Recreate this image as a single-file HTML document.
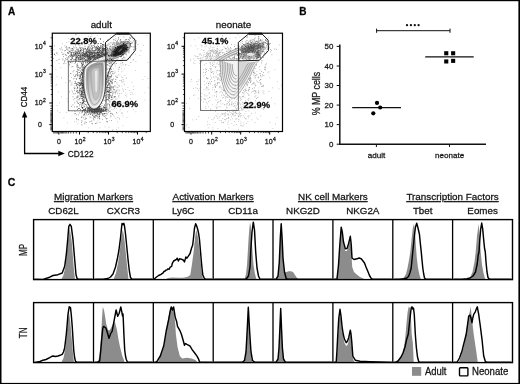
<!DOCTYPE html><html><head><meta charset="utf-8"><style>html,body{margin:0;padding:0;background:#fff;overflow:hidden}svg{display:block;will-change:transform}</style></head><body>
<svg width="520" height="384" viewBox="0 0 520 384" font-family="Liberation Sans, sans-serif">
<style>text{stroke:#1a1a1a;stroke-width:0.28px}</style>
<rect width="520" height="384" fill="#fff"/>
<text x="7.9" y="15.3" font-size="10" text-anchor="start" font-weight="bold" fill="#000" >A</text>
<defs><filter id="sb" x="-5%" y="-5%" width="110%" height="110%"><feGaussianBlur stdDeviation="0.35"/></filter><filter id="sb2" x="-5%" y="-5%" width="110%" height="110%"><feGaussianBlur stdDeviation="0.6"/></filter></defs>
<g filter="url(#sb)">
<path fill="#b4b4b4" d="M111.5 64h0.8v0.8h-0.8zM122 63.5h0.8v0.8h-0.8zM117 56.5h0.8v0.8h-0.8zM123 64.5h0.8v0.8h-0.8zM120.5 53h0.8v0.8h-0.8zM107.5 108.5h0.8v0.8h-0.8zM104 86.5h0.8v0.8h-0.8zM107 39h0.8v0.8h-0.8zM115 93.5h0.8v0.8h-0.8zM101 96.5h0.8v0.8h-0.8zM104 65h0.8v0.8h-0.8zM112 71.5h0.8v0.8h-0.8zM135 54h0.8v0.8h-0.8zM119.5 105h0.8v0.8h-0.8zM92 50.5h0.8v0.8h-0.8zM117.5 75.5h0.8v0.8h-0.8zM116 108h0.8v0.8h-0.8zM108.5 63.5h0.8v0.8h-0.8zM84.5 89h0.8v0.8h-0.8zM102.5 91.5h0.8v0.8h-0.8zM114.5 57.5h0.8v0.8h-0.8zM129 106.5h0.8v0.8h-0.8zM120.5 61.5h0.8v0.8h-0.8zM108 74h0.8v0.8h-0.8zM108 62.5h0.8v0.8h-0.8zM116.5 89.5h0.8v0.8h-0.8zM115.5 75h0.8v0.8h-0.8zM125 89h0.8v0.8h-0.8zM84.5 72h0.8v0.8h-0.8zM111.5 104.5h0.8v0.8h-0.8zM109 80h0.8v0.8h-0.8zM105.5 98.5h0.8v0.8h-0.8zM107.5 73h0.8v0.8h-0.8zM104.5 96h0.8v0.8h-0.8zM106.5 51.5h0.8v0.8h-0.8zM118 71h0.8v0.8h-0.8zM115.5 92.5h0.8v0.8h-0.8zM124 106h0.8v0.8h-0.8zM106 81.5h0.8v0.8h-0.8zM99 118.5h0.8v0.8h-0.8zM116.5 113h0.8v0.8h-0.8zM109 44h0.8v0.8h-0.8zM127.5 87h0.8v0.8h-0.8zM113.5 86h0.8v0.8h-0.8zM118.5 95.5h0.8v0.8h-0.8zM96 106.5h0.8v0.8h-0.8zM106.5 75.5h0.8v0.8h-0.8zM129.5 103.5h0.8v0.8h-0.8zM108.5 48h0.8v0.8h-0.8zM113.5 96h0.8v0.8h-0.8zM111 60h0.8v0.8h-0.8zM104 60h0.8v0.8h-0.8zM114 101.5h0.8v0.8h-0.8zM122.5 70.5h0.8v0.8h-0.8zM114.5 96h0.8v0.8h-0.8zM107 82h0.8v0.8h-0.8zM133 89h0.8v0.8h-0.8zM121 76.5h0.8v0.8h-0.8zM112.5 50.5h0.8v0.8h-0.8zM111.5 109h0.8v0.8h-0.8zM133 109h0.8v0.8h-0.8zM119 86h0.8v0.8h-0.8zM106 82h0.8v0.8h-0.8zM118 69.5h0.8v0.8h-0.8zM121.5 65.5h0.8v0.8h-0.8zM94 65h0.8v0.8h-0.8zM95.5 57.5h0.8v0.8h-0.8zM123.5 81h0.8v0.8h-0.8zM114 108h0.8v0.8h-0.8zM124.5 75h0.8v0.8h-0.8zM125.5 92.5h0.8v0.8h-0.8zM112 94h0.8v0.8h-0.8zM97.5 69.5h0.8v0.8h-0.8zM111 97h0.8v0.8h-0.8zM108.5 82.5h0.8v0.8h-0.8zM121.5 113h0.8v0.8h-0.8zM119.5 110.5h0.8v0.8h-0.8zM108 79h0.8v0.8h-0.8zM115 79h0.8v0.8h-0.8zM107 118h0.8v0.8h-0.8zM110 65.5h0.8v0.8h-0.8zM117 121.5h0.8v0.8h-0.8zM113 109.5h0.8v0.8h-0.8zM107.5 75h0.8v0.8h-0.8zM105 82h0.8v0.8h-0.8zM130.5 62h0.8v0.8h-0.8zM128.5 65h0.8v0.8h-0.8zM109.5 101.5h0.8v0.8h-0.8zM118.5 90.5h0.8v0.8h-0.8zM95.5 92h0.8v0.8h-0.8zM110 89h0.8v0.8h-0.8zM100.5 75.5h0.8v0.8h-0.8zM99 104.5h0.8v0.8h-0.8zM109.5 96.5h0.8v0.8h-0.8zM105 75h0.8v0.8h-0.8zM125 65.5h0.8v0.8h-0.8zM94 93h0.8v0.8h-0.8zM100.5 76h0.8v0.8h-0.8zM121 68.5h0.8v0.8h-0.8zM121 71.5h0.8v0.8h-0.8zM127 111.5h0.8v0.8h-0.8zM107.5 80.5h0.8v0.8h-0.8zM103.5 89h0.8v0.8h-0.8zM123.5 56h0.8v0.8h-0.8zM121 58.5h0.8v0.8h-0.8zM103.5 49h0.8v0.8h-0.8zM133 86h0.8v0.8h-0.8zM114.5 71.5h0.8v0.8h-0.8zM122.5 43h0.8v0.8h-0.8zM112.5 129h0.8v0.8h-0.8zM108 85.5h0.8v0.8h-0.8zM118.5 69h0.8v0.8h-0.8zM112 104h0.8v0.8h-0.8zM114 92.5h0.8v0.8h-0.8zM108.5 91.5h0.8v0.8h-0.8zM112.5 114h0.8v0.8h-0.8zM119 80h0.8v0.8h-0.8zM87.5 99.5h0.8v0.8h-0.8zM119.5 66.5h0.8v0.8h-0.8zM92 62h0.8v0.8h-0.8zM121.5 63.5h0.8v0.8h-0.8zM107.5 89.5h0.8v0.8h-0.8zM124 84.5h0.8v0.8h-0.8zM111 74h0.8v0.8h-0.8zM128.5 106.5h0.8v0.8h-0.8zM111 57h0.8v0.8h-0.8zM104 96.5h0.8v0.8h-0.8zM105 103h0.8v0.8h-0.8zM115.5 91h0.8v0.8h-0.8zM118.5 95h0.8v0.8h-0.8zM103.5 78.5h0.8v0.8h-0.8zM135.5 61h0.8v0.8h-0.8zM107.5 106.5h0.8v0.8h-0.8zM110.5 69h0.8v0.8h-0.8zM99 95.5h0.8v0.8h-0.8zM122 113h0.8v0.8h-0.8zM112.5 106h0.8v0.8h-0.8zM101.5 88.5h0.8v0.8h-0.8zM105 88.5h0.8v0.8h-0.8zM119.5 106.5h0.8v0.8h-0.8zM102 110.5h0.8v0.8h-0.8zM107.5 64.5h0.8v0.8h-0.8zM110.5 55.5h0.8v0.8h-0.8zM112 91h0.8v0.8h-0.8zM110 95.5h0.8v0.8h-0.8zM109 85h0.8v0.8h-0.8zM97.5 86h0.8v0.8h-0.8zM103.5 76h0.8v0.8h-0.8zM111 89h0.8v0.8h-0.8zM95.5 53.5h0.8v0.8h-0.8zM109 94.5h0.8v0.8h-0.8zM115.5 103h0.8v0.8h-0.8zM125 95h0.8v0.8h-0.8zM112 64.5h0.8v0.8h-0.8zM102.5 75.5h0.8v0.8h-0.8zM114.5 89.5h0.8v0.8h-0.8zM112 82h0.8v0.8h-0.8zM118.5 89h0.8v0.8h-0.8zM115 91h0.8v0.8h-0.8zM106.5 64.5h0.8v0.8h-0.8zM117 93.5h0.8v0.8h-0.8zM110 76.5h0.8v0.8h-0.8zM135 70h0.8v0.8h-0.8zM110 90.5h0.8v0.8h-0.8zM100.5 87.5h0.8v0.8h-0.8zM130 103.5h0.8v0.8h-0.8zM118.5 97h0.8v0.8h-0.8zM113 104h0.8v0.8h-0.8zM110.5 76.5h0.8v0.8h-0.8zM113 103h0.8v0.8h-0.8zM115.5 98.5h0.8v0.8h-0.8zM92 109h0.8v0.8h-0.8zM135.5 111.5h0.8v0.8h-0.8zM109 68h0.8v0.8h-0.8zM115 65.5h0.8v0.8h-0.8zM119.5 74.5h0.8v0.8h-0.8zM121.5 112h0.8v0.8h-0.8zM91.5 91h0.8v0.8h-0.8zM105 57h0.8v0.8h-0.8zM106 80.5h0.8v0.8h-0.8zM122.5 54.5h0.8v0.8h-0.8zM122.5 125.5h0.8v0.8h-0.8zM118 96h0.8v0.8h-0.8zM112 61.5h0.8v0.8h-0.8zM117.5 92.5h0.8v0.8h-0.8zM119.5 93.5h0.8v0.8h-0.8zM127.5 58h0.8v0.8h-0.8zM100.5 77.5h0.8v0.8h-0.8zM105.5 99h0.8v0.8h-0.8zM109 120h0.8v0.8h-0.8zM127 100.5h0.8v0.8h-0.8zM108 97.5h0.8v0.8h-0.8zM120 63.5h0.8v0.8h-0.8zM115.5 99h0.8v0.8h-0.8zM114 116.5h0.8v0.8h-0.8zM124 68.5h0.8v0.8h-0.8zM113 68.5h0.8v0.8h-0.8zM118 67.5h0.8v0.8h-0.8zM121 93h0.8v0.8h-0.8zM121.5 82h0.8v0.8h-0.8zM97.5 120.5h0.8v0.8h-0.8zM110.5 112.5h0.8v0.8h-0.8zM116.5 98.5h0.8v0.8h-0.8zM130.5 92h0.8v0.8h-0.8zM126 55.5h0.8v0.8h-0.8zM120.5 80h0.8v0.8h-0.8zM110.5 85h0.8v0.8h-0.8zM115.5 118h0.8v0.8h-0.8zM93.5 86h0.8v0.8h-0.8zM105 108.5h0.8v0.8h-0.8zM108 94h0.8v0.8h-0.8zM108 98.5h0.8v0.8h-0.8zM122 77h0.8v0.8h-0.8zM112.5 56.5h0.8v0.8h-0.8zM115 102h0.8v0.8h-0.8zM106.5 107.5h0.8v0.8h-0.8zM91.5 48h0.8v0.8h-0.8zM98 75.5h0.8v0.8h-0.8zM112 83.5h0.8v0.8h-0.8zM111.5 99.5h0.8v0.8h-0.8zM107.5 59.5h0.8v0.8h-0.8zM99.5 127.5h0.8v0.8h-0.8zM88.5 81.5h0.8v0.8h-0.8zM126.5 94.5h0.8v0.8h-0.8zM103.5 85h0.8v0.8h-0.8zM120.5 109h0.8v0.8h-0.8zM103 100h0.8v0.8h-0.8zM114.5 107h0.8v0.8h-0.8zM126 78h0.8v0.8h-0.8zM97.5 93h0.8v0.8h-0.8zM130 98.5h0.8v0.8h-0.8zM101.5 103h0.8v0.8h-0.8zM106.5 86h0.8v0.8h-0.8zM113 115.5h0.8v0.8h-0.8zM102.5 74.5h0.8v0.8h-0.8zM96 94.5h0.8v0.8h-0.8zM107.5 93.5h0.8v0.8h-0.8zM101.5 78h0.8v0.8h-0.8zM122.5 81.5h0.8v0.8h-0.8zM118.5 95.5h0.8v0.8h-0.8zM108.5 54h0.8v0.8h-0.8zM122 88.5h0.8v0.8h-0.8zM122 44.5h0.8v0.8h-0.8zM95.5 42h0.8v0.8h-0.8zM103 106h0.8v0.8h-0.8zM117.5 84.5h0.8v0.8h-0.8zM113.5 100h0.8v0.8h-0.8zM109 93h0.8v0.8h-0.8zM113.5 41.5h0.8v0.8h-0.8zM108 112h0.8v0.8h-0.8zM108 82h0.8v0.8h-0.8zM106 75.5h0.8v0.8h-0.8zM123 79.5h0.8v0.8h-0.8zM106.5 45.5h0.8v0.8h-0.8zM94 101h0.8v0.8h-0.8zM119 46.5h0.8v0.8h-0.8zM77.5 90.5h0.8v0.8h-0.8zM103 59h0.8v0.8h-0.8zM82 68h0.8v0.8h-0.8zM79 87h0.8v0.8h-0.8zM108.5 127h0.8v0.8h-0.8zM111.5 104.5h0.8v0.8h-0.8zM110.5 112.5h0.8v0.8h-0.8zM83 96h0.8v0.8h-0.8zM96 74.5h0.8v0.8h-0.8zM82 65h0.8v0.8h-0.8zM85 46h0.8v0.8h-0.8zM99.5 77.5h0.8v0.8h-0.8zM92 87h0.8v0.8h-0.8zM103 62.5h0.8v0.8h-0.8zM88 36h0.8v0.8h-0.8zM98.5 116.5h0.8v0.8h-0.8zM82 120.5h0.8v0.8h-0.8zM123.5 102.5h0.8v0.8h-0.8zM132.5 94h0.8v0.8h-0.8zM77 91.5h0.8v0.8h-0.8zM82 44h0.8v0.8h-0.8zM80.5 77.5h0.8v0.8h-0.8zM78 82h0.8v0.8h-0.8zM86 67.5h0.8v0.8h-0.8zM68.5 41.5h0.8v0.8h-0.8zM77 86h0.8v0.8h-0.8zM127.5 105.5h0.8v0.8h-0.8zM123 91h0.8v0.8h-0.8zM88.5 44h0.8v0.8h-0.8zM85 121h0.8v0.8h-0.8zM96 108h0.8v0.8h-0.8zM83.5 42.5h0.8v0.8h-0.8zM81.5 68h0.8v0.8h-0.8zM112 130h0.8v0.8h-0.8zM77 69h0.8v0.8h-0.8zM88 69.5h0.8v0.8h-0.8zM68 81h0.8v0.8h-0.8zM97 88.5h0.8v0.8h-0.8zM68.5 75.5h0.8v0.8h-0.8zM59 102.5h0.8v0.8h-0.8zM72 71.5h0.8v0.8h-0.8zM82.5 63.5h0.8v0.8h-0.8zM121.5 85.5h0.8v0.8h-0.8zM88.5 93h0.8v0.8h-0.8zM91 109.5h0.8v0.8h-0.8zM99.5 87h0.8v0.8h-0.8zM86 86h0.8v0.8h-0.8zM88 68h0.8v0.8h-0.8zM103.5 57h0.8v0.8h-0.8zM86.5 65.5h0.8v0.8h-0.8zM60.5 67h0.8v0.8h-0.8zM57.5 54.5h0.8v0.8h-0.8zM85 78.5h0.8v0.8h-0.8zM91.5 75.5h0.8v0.8h-0.8zM129 90h0.8v0.8h-0.8zM68.5 63h0.8v0.8h-0.8zM79 74h0.8v0.8h-0.8zM79.5 56.5h0.8v0.8h-0.8zM120.5 80h0.8v0.8h-0.8zM84.5 72.5h0.8v0.8h-0.8zM86.5 115h0.8v0.8h-0.8zM99 108h0.8v0.8h-0.8zM91 34.5h0.8v0.8h-0.8zM101 63.5h0.8v0.8h-0.8zM58.5 63h0.8v0.8h-0.8zM109.5 110h0.8v0.8h-0.8zM103.5 51.5h0.8v0.8h-0.8zM136 48.5h0.8v0.8h-0.8zM89.5 41.5h0.8v0.8h-0.8zM114.5 90.5h0.8v0.8h-0.8zM106.5 81.5h0.8v0.8h-0.8zM89.5 83.5h0.8v0.8h-0.8zM56.5 105h0.8v0.8h-0.8zM107 69h0.8v0.8h-0.8zM90.5 87h0.8v0.8h-0.8zM119 90.5h0.8v0.8h-0.8zM91.5 66h0.8v0.8h-0.8zM63.5 63.5h0.8v0.8h-0.8zM92 72.5h0.8v0.8h-0.8zM92 98.5h0.8v0.8h-0.8zM98.5 86.5h0.8v0.8h-0.8zM102.5 84h0.8v0.8h-0.8zM90.5 91.5h0.8v0.8h-0.8zM59.5 112h0.8v0.8h-0.8zM67.5 101h0.8v0.8h-0.8zM91 108h0.8v0.8h-0.8zM91.5 54.5h0.8v0.8h-0.8zM110 84h0.8v0.8h-0.8zM93 81.5h0.8v0.8h-0.8zM109 100.5h0.8v0.8h-0.8zM95 39h0.8v0.8h-0.8zM83.5 82h0.8v0.8h-0.8zM123 89.5h0.8v0.8h-0.8zM89.5 110.5h0.8v0.8h-0.8zM89 78.5h0.8v0.8h-0.8zM94 40.5h0.8v0.8h-0.8zM108 90.5h0.8v0.8h-0.8zM86 49.5h0.8v0.8h-0.8zM95 116h0.8v0.8h-0.8zM79.5 52h0.8v0.8h-0.8zM98.5 38h0.8v0.8h-0.8zM78.5 72.5h0.8v0.8h-0.8zM81 88h0.8v0.8h-0.8zM87 64h0.8v0.8h-0.8zM83 96h0.8v0.8h-0.8zM108.5 103h0.8v0.8h-0.8zM73 71.5h0.8v0.8h-0.8zM95 37.5h0.8v0.8h-0.8zM116.5 87.5h0.8v0.8h-0.8zM80 84h0.8v0.8h-0.8zM85 60h0.8v0.8h-0.8zM100 68h0.8v0.8h-0.8zM65.5 63h0.8v0.8h-0.8zM89 51.5h0.8v0.8h-0.8zM114 51.5h0.8v0.8h-0.8zM122.5 103h0.8v0.8h-0.8zM74 83h0.8v0.8h-0.8zM112.5 74.5h0.8v0.8h-0.8zM69.5 82.5h0.8v0.8h-0.8zM127 41h0.8v0.8h-0.8zM101 80h0.8v0.8h-0.8zM89 69.5h0.8v0.8h-0.8zM85.5 106.5h0.8v0.8h-0.8zM102 54h0.8v0.8h-0.8zM119.5 46h0.8v0.8h-0.8zM103 84.5h0.8v0.8h-0.8zM113 89h0.8v0.8h-0.8zM110.5 79h0.8v0.8h-0.8zM109 89h0.8v0.8h-0.8zM130 62h0.8v0.8h-0.8zM113 92h0.8v0.8h-0.8zM94.5 65h0.8v0.8h-0.8zM99.5 41.5h0.8v0.8h-0.8zM66.5 98.5h0.8v0.8h-0.8zM63.5 117.5h0.8v0.8h-0.8zM86.5 86.5h0.8v0.8h-0.8zM92.5 91h0.8v0.8h-0.8zM86.5 70.5h0.8v0.8h-0.8zM89 107h0.8v0.8h-0.8zM112 113h0.8v0.8h-0.8zM98 74.5h0.8v0.8h-0.8zM61 96.5h0.8v0.8h-0.8zM106.5 69.5h0.8v0.8h-0.8zM106 113.5h0.8v0.8h-0.8zM93 107.5h0.8v0.8h-0.8zM97 35h0.8v0.8h-0.8zM83 69.5h0.8v0.8h-0.8zM101 57.5h0.8v0.8h-0.8zM83.5 55h0.8v0.8h-0.8zM90.5 82h0.8v0.8h-0.8zM109 100.5h0.8v0.8h-0.8zM94.5 86.5h0.8v0.8h-0.8zM93.5 83h0.8v0.8h-0.8zM88 88h0.8v0.8h-0.8zM111.5 51.5h0.8v0.8h-0.8zM97.5 102.5h0.8v0.8h-0.8zM85 49h0.8v0.8h-0.8zM103 58h0.8v0.8h-0.8zM123.5 83.5h0.8v0.8h-0.8zM77 67h0.8v0.8h-0.8zM71.5 90h0.8v0.8h-0.8zM118 74.5h0.8v0.8h-0.8zM108 55.5h0.8v0.8h-0.8zM66 112h0.8v0.8h-0.8zM65.5 54.5h0.8v0.8h-0.8zM109 69h0.8v0.8h-0.8zM88.5 98.5h0.8v0.8h-0.8zM93.5 86h0.8v0.8h-0.8zM85.5 109h0.8v0.8h-0.8zM77.5 123.5h0.8v0.8h-0.8zM85.5 59h0.8v0.8h-0.8zM103 91.5h0.8v0.8h-0.8zM55.5 85.5h0.8v0.8h-0.8zM67 58.5h0.8v0.8h-0.8zM105.5 57.5h0.8v0.8h-0.8zM97.5 70h0.8v0.8h-0.8zM126 77.5h0.8v0.8h-0.8zM70 51h0.8v0.8h-0.8zM75 83h0.8v0.8h-0.8zM91 105h0.8v0.8h-0.8zM94.5 83h0.8v0.8h-0.8zM97 76.5h0.8v0.8h-0.8zM96.5 100h0.8v0.8h-0.8zM105.5 65.5h0.8v0.8h-0.8zM59.5 58.5h0.8v0.8h-0.8zM82.5 91.5h0.8v0.8h-0.8zM81 50.5h0.8v0.8h-0.8zM122.5 115.5h0.8v0.8h-0.8zM86.5 114h0.8v0.8h-0.8zM114.5 50h0.8v0.8h-0.8zM139.5 55h0.8v0.8h-0.8zM86.5 51h0.8v0.8h-0.8zM92.5 45.5h0.8v0.8h-0.8zM91 107.5h0.8v0.8h-0.8zM95 72.5h0.8v0.8h-0.8zM119 56h0.8v0.8h-0.8zM108.5 71.5h0.8v0.8h-0.8zM95 80h0.8v0.8h-0.8zM93 78h0.8v0.8h-0.8zM77 64.5h0.8v0.8h-0.8zM99 76.5h0.8v0.8h-0.8zM70 61h0.8v0.8h-0.8zM78.5 78h0.8v0.8h-0.8zM94 81.5h0.8v0.8h-0.8zM79 79.5h0.8v0.8h-0.8zM90 36h0.8v0.8h-0.8zM73.5 47.5h0.8v0.8h-0.8zM102 47.5h0.8v0.8h-0.8zM95.5 66h0.8v0.8h-0.8zM68.5 38h0.8v0.8h-0.8zM99 89h0.8v0.8h-0.8zM104.5 126.5h0.8v0.8h-0.8zM95.5 86h0.8v0.8h-0.8zM88 81.5h0.8v0.8h-0.8zM84 55.5h0.8v0.8h-0.8zM95 90h0.8v0.8h-0.8zM93 53.5h0.8v0.8h-0.8zM87 66.5h0.8v0.8h-0.8zM71 77h0.8v0.8h-0.8zM83 64h0.8v0.8h-0.8zM102.5 50.5h0.8v0.8h-0.8zM98 62h0.8v0.8h-0.8zM97.5 80h0.8v0.8h-0.8zM94.5 52.5h0.8v0.8h-0.8zM76 55.5h0.8v0.8h-0.8zM93 97.5h0.8v0.8h-0.8zM109.5 65h0.8v0.8h-0.8zM91.5 36h0.8v0.8h-0.8zM78 37.5h0.8v0.8h-0.8zM58 91.5h0.8v0.8h-0.8zM75.5 34h0.8v0.8h-0.8zM131.5 82h0.8v0.8h-0.8zM84 95h0.8v0.8h-0.8zM76 118.5h0.8v0.8h-0.8zM62 43.5h0.8v0.8h-0.8zM87 57.5h0.8v0.8h-0.8zM115 36h0.8v0.8h-0.8zM76.5 83.5h0.8v0.8h-0.8zM99.5 103.5h0.8v0.8h-0.8zM116.5 77h0.8v0.8h-0.8zM131 34.5h0.8v0.8h-0.8zM85 73h0.8v0.8h-0.8zM56 84h0.8v0.8h-0.8zM92.5 110.5h0.8v0.8h-0.8zM69 65.5h0.8v0.8h-0.8zM82.5 96.5h0.8v0.8h-0.8zM76 97.5h0.8v0.8h-0.8zM70.5 84.5h0.8v0.8h-0.8zM119 93h0.8v0.8h-0.8zM110.5 78h0.8v0.8h-0.8zM132 92.5h0.8v0.8h-0.8zM147.5 78h0.8v0.8h-0.8zM76 121.5h0.8v0.8h-0.8zM143 45h0.8v0.8h-0.8zM126.5 117h0.8v0.8h-0.8zM107 105.5h0.8v0.8h-0.8zM146.5 35h0.8v0.8h-0.8zM102 103h0.8v0.8h-0.8zM55.5 69h0.8v0.8h-0.8zM65 82.5h0.8v0.8h-0.8zM83 83.5h0.8v0.8h-0.8zM120 104.5h0.8v0.8h-0.8zM107.5 80.5h0.8v0.8h-0.8zM118.5 95h0.8v0.8h-0.8zM55 55h0.8v0.8h-0.8zM77 41h0.8v0.8h-0.8zM106.5 98h0.8v0.8h-0.8zM116 129h0.8v0.8h-0.8zM94.5 41.5h0.8v0.8h-0.8zM74 121.5h0.8v0.8h-0.8zM82.5 71h0.8v0.8h-0.8zM126 96.5h0.8v0.8h-0.8zM122 59.5h0.8v0.8h-0.8zM76.5 100.5h0.8v0.8h-0.8zM144.5 76h0.8v0.8h-0.8zM57 110.5h0.8v0.8h-0.8zM75.5 60.5h0.8v0.8h-0.8zM95 66h0.8v0.8h-0.8zM130 94h0.8v0.8h-0.8zM107.5 44h0.8v0.8h-0.8zM118 127.5h0.8v0.8h-0.8zM144.5 92.5h0.8v0.8h-0.8zM88 127.5h0.8v0.8h-0.8zM70.5 51h0.8v0.8h-0.8zM92.5 102h0.8v0.8h-0.8zM107 53.5h0.8v0.8h-0.8zM66 42h0.8v0.8h-0.8zM56.5 76.5h0.8v0.8h-0.8zM122.5 79h0.8v0.8h-0.8zM148 87.5h0.8v0.8h-0.8zM142.5 79h0.8v0.8h-0.8zM89 53h0.8v0.8h-0.8zM96.5 99.5h0.8v0.8h-0.8zM132.5 59.5h0.8v0.8h-0.8zM147.5 62h0.8v0.8h-0.8zM87 109h0.8v0.8h-0.8zM144.5 99.5h0.8v0.8h-0.8zM120 104h0.8v0.8h-0.8zM67 122.5h0.8v0.8h-0.8z"/>
<path fill="#7c7c7c" d="M83 52.5h0.8v0.8h-0.8zM95.5 48.5h0.8v0.8h-0.8zM104 54h0.8v0.8h-0.8zM74.5 51.5h0.8v0.8h-0.8zM75.5 55h0.8v0.8h-0.8zM75 59.5h0.8v0.8h-0.8zM75 44h0.8v0.8h-0.8zM84.5 59.5h0.8v0.8h-0.8zM94 47.5h0.8v0.8h-0.8zM74.5 63h0.8v0.8h-0.8zM89.5 54h0.8v0.8h-0.8zM100 66.5h0.8v0.8h-0.8zM103 54.5h0.8v0.8h-0.8zM90 57h0.8v0.8h-0.8zM76.5 48.5h0.8v0.8h-0.8zM85.5 49.5h0.8v0.8h-0.8zM84 54.5h0.8v0.8h-0.8zM118 49.5h0.8v0.8h-0.8zM83.5 53h0.8v0.8h-0.8zM91 59h0.8v0.8h-0.8zM78 50h0.8v0.8h-0.8zM62 49.5h0.8v0.8h-0.8zM92.5 54h0.8v0.8h-0.8zM71 52h0.8v0.8h-0.8zM85.5 56.5h0.8v0.8h-0.8zM76.5 52.5h0.8v0.8h-0.8zM59.5 48h0.8v0.8h-0.8zM80.5 55h0.8v0.8h-0.8zM80 50h0.8v0.8h-0.8zM84 54h0.8v0.8h-0.8zM84 44.5h0.8v0.8h-0.8zM83 49.5h0.8v0.8h-0.8zM77.5 55h0.8v0.8h-0.8zM94 58.5h0.8v0.8h-0.8zM78 58.5h0.8v0.8h-0.8zM101.5 59.5h0.8v0.8h-0.8zM104.5 53.5h0.8v0.8h-0.8zM82.5 58h0.8v0.8h-0.8zM66 55h0.8v0.8h-0.8zM77.5 52h0.8v0.8h-0.8zM60.5 49.5h0.8v0.8h-0.8zM84.5 58.5h0.8v0.8h-0.8zM99 53.5h0.8v0.8h-0.8zM82.5 50h0.8v0.8h-0.8zM90.5 53h0.8v0.8h-0.8zM93.5 63h0.8v0.8h-0.8zM84.5 46.5h0.8v0.8h-0.8zM73 46.5h0.8v0.8h-0.8zM68 60.5h0.8v0.8h-0.8zM88 46.5h0.8v0.8h-0.8zM94 60.5h0.8v0.8h-0.8zM80 50.5h0.8v0.8h-0.8zM80.5 55.5h0.8v0.8h-0.8zM94 60h0.8v0.8h-0.8zM102 60h0.8v0.8h-0.8zM104 57.5h0.8v0.8h-0.8zM63.5 53.5h0.8v0.8h-0.8zM89.5 52h0.8v0.8h-0.8zM98 52h0.8v0.8h-0.8zM72 61h0.8v0.8h-0.8zM94.5 55h0.8v0.8h-0.8zM98 59.5h0.8v0.8h-0.8zM75.5 51.5h0.8v0.8h-0.8zM71 55h0.8v0.8h-0.8zM101.5 51.5h0.8v0.8h-0.8zM69 64h0.8v0.8h-0.8zM78.5 48h0.8v0.8h-0.8zM88.5 56h0.8v0.8h-0.8zM75 58h0.8v0.8h-0.8zM78 49.5h0.8v0.8h-0.8zM87.5 58h0.8v0.8h-0.8zM76 55.5h0.8v0.8h-0.8zM83.5 68h0.8v0.8h-0.8zM75 61h0.8v0.8h-0.8zM84.5 53.5h0.8v0.8h-0.8zM95 58.5h0.8v0.8h-0.8zM102.5 55.5h0.8v0.8h-0.8zM76.5 51.5h0.8v0.8h-0.8zM92 57h0.8v0.8h-0.8zM104.5 56h0.8v0.8h-0.8zM100 61.5h0.8v0.8h-0.8zM87.5 46.5h0.8v0.8h-0.8zM68.5 47h0.8v0.8h-0.8zM107.5 50h0.8v0.8h-0.8zM102 57h0.8v0.8h-0.8zM109 59h0.8v0.8h-0.8zM83.5 53h0.8v0.8h-0.8zM86 55h0.8v0.8h-0.8zM77.5 54h0.8v0.8h-0.8zM107.5 45.5h0.8v0.8h-0.8zM88.5 49.5h0.8v0.8h-0.8zM87.5 58h0.8v0.8h-0.8zM84 58h0.8v0.8h-0.8zM62.5 59.5h0.8v0.8h-0.8zM76.5 57h0.8v0.8h-0.8zM74.5 55h0.8v0.8h-0.8zM107 55.5h0.8v0.8h-0.8zM88.5 47h0.8v0.8h-0.8zM105 63h0.8v0.8h-0.8zM85.5 53h0.8v0.8h-0.8zM62.5 58.5h0.8v0.8h-0.8zM123 57.5h0.8v0.8h-0.8zM102.5 56.5h0.8v0.8h-0.8zM71 60.5h0.8v0.8h-0.8zM67.5 53h0.8v0.8h-0.8zM89 58.5h0.8v0.8h-0.8zM91 56h0.8v0.8h-0.8zM74.5 47.5h0.8v0.8h-0.8zM86 50.5h0.8v0.8h-0.8zM66.5 47.5h0.8v0.8h-0.8zM78 44.5h0.8v0.8h-0.8zM66 46h0.8v0.8h-0.8zM87.5 56h0.8v0.8h-0.8zM113 46.5h0.8v0.8h-0.8zM75.5 58.5h0.8v0.8h-0.8zM82 52.5h0.8v0.8h-0.8zM109 52.5h0.8v0.8h-0.8zM69 47.5h0.8v0.8h-0.8zM89.5 55.5h0.8v0.8h-0.8zM66 49h0.8v0.8h-0.8zM92.5 57h0.8v0.8h-0.8zM76 57h0.8v0.8h-0.8zM93 45h0.8v0.8h-0.8zM80.5 56h0.8v0.8h-0.8zM81 58h0.8v0.8h-0.8zM121.5 48.5h0.8v0.8h-0.8zM98.5 60h0.8v0.8h-0.8zM99 54.5h0.8v0.8h-0.8zM68.5 57h0.8v0.8h-0.8zM124.5 57.5h0.8v0.8h-0.8zM110.5 49.5h0.8v0.8h-0.8zM105.5 62h0.8v0.8h-0.8zM107 54h0.8v0.8h-0.8zM68 53h0.8v0.8h-0.8zM54 45.5h0.8v0.8h-0.8zM86.5 49h0.8v0.8h-0.8zM82.5 53.5h0.8v0.8h-0.8zM112 60.5h0.8v0.8h-0.8zM84.5 60h0.8v0.8h-0.8zM74 52.5h0.8v0.8h-0.8zM97.5 48h0.8v0.8h-0.8zM81 47.5h0.8v0.8h-0.8zM86.5 62h0.8v0.8h-0.8zM74.5 55h0.8v0.8h-0.8zM72.5 48.5h0.8v0.8h-0.8zM67.5 61.5h0.8v0.8h-0.8zM118 56.5h0.8v0.8h-0.8zM75 57.5h0.8v0.8h-0.8zM80.5 58h0.8v0.8h-0.8zM89 55.5h0.8v0.8h-0.8zM93.5 51h0.8v0.8h-0.8zM79.5 45.5h0.8v0.8h-0.8zM79 47h0.8v0.8h-0.8zM83 49h0.8v0.8h-0.8zM86.5 56.5h0.8v0.8h-0.8zM65 50h0.8v0.8h-0.8zM72 57.5h0.8v0.8h-0.8zM109 58.5h0.8v0.8h-0.8zM80 61.5h0.8v0.8h-0.8zM64 61.5h0.8v0.8h-0.8zM122 62h0.8v0.8h-0.8zM70.5 55h0.8v0.8h-0.8zM82 54.5h0.8v0.8h-0.8zM64 50.5h0.8v0.8h-0.8zM91.5 55h0.8v0.8h-0.8zM102 54.5h0.8v0.8h-0.8zM118 50.5h0.8v0.8h-0.8zM88.5 44.5h0.8v0.8h-0.8zM67.5 60.5h0.8v0.8h-0.8zM72 56.5h0.8v0.8h-0.8zM84 49h0.8v0.8h-0.8zM80 51.5h0.8v0.8h-0.8zM78 58h0.8v0.8h-0.8zM94 51h0.8v0.8h-0.8zM72.5 55.5h0.8v0.8h-0.8zM83.5 59h0.8v0.8h-0.8zM122 58h0.8v0.8h-0.8zM84.5 53h0.8v0.8h-0.8zM73 49.5h0.8v0.8h-0.8zM71 52h0.8v0.8h-0.8zM79 57.5h0.8v0.8h-0.8zM79.5 53h0.8v0.8h-0.8zM68 62h0.8v0.8h-0.8zM92 63h0.8v0.8h-0.8zM96 61.5h0.8v0.8h-0.8zM81.5 57.5h0.8v0.8h-0.8zM123 48h0.8v0.8h-0.8zM101.5 62.5h0.8v0.8h-0.8zM91 58h0.8v0.8h-0.8zM103 50.5h0.8v0.8h-0.8zM91 49.5h0.8v0.8h-0.8zM75.5 51h0.8v0.8h-0.8zM83 54.5h0.8v0.8h-0.8zM91.5 46.5h0.8v0.8h-0.8zM113.5 60h0.8v0.8h-0.8zM95.5 52h0.8v0.8h-0.8zM83.5 57h0.8v0.8h-0.8zM91 45.5h0.8v0.8h-0.8zM95.5 69h0.8v0.8h-0.8zM58.5 59h0.8v0.8h-0.8zM90.5 53.5h0.8v0.8h-0.8zM104.5 48h0.8v0.8h-0.8zM87.5 61.5h0.8v0.8h-0.8zM82 52h0.8v0.8h-0.8zM86.5 51.5h0.8v0.8h-0.8zM107 49.5h0.8v0.8h-0.8zM97.5 47.5h0.8v0.8h-0.8zM94.5 53.5h0.8v0.8h-0.8zM69.5 51.5h0.8v0.8h-0.8zM107 48.5h0.8v0.8h-0.8zM69.5 61.5h0.8v0.8h-0.8zM86.5 62h0.8v0.8h-0.8zM89.5 49.5h0.8v0.8h-0.8zM84 60.5h0.8v0.8h-0.8zM98.5 54h0.8v0.8h-0.8zM85.5 53.5h0.8v0.8h-0.8zM76.5 64h0.8v0.8h-0.8zM85 48h0.8v0.8h-0.8zM78 57.5h0.8v0.8h-0.8zM94 53.5h0.8v0.8h-0.8zM75.5 54h0.8v0.8h-0.8zM61 47.5h0.8v0.8h-0.8zM96.5 51.5h0.8v0.8h-0.8zM90.5 60.5h0.8v0.8h-0.8zM94.5 54h0.8v0.8h-0.8zM115.5 57.5h0.8v0.8h-0.8zM80 58h0.8v0.8h-0.8zM91 49.5h0.8v0.8h-0.8zM86 53h0.8v0.8h-0.8zM56.5 53h0.8v0.8h-0.8zM81 51.5h0.8v0.8h-0.8zM61.5 52h0.8v0.8h-0.8zM84.5 54.5h0.8v0.8h-0.8zM68.5 57.5h0.8v0.8h-0.8zM67.5 53h0.8v0.8h-0.8zM104 50.5h0.8v0.8h-0.8zM77.5 59.5h0.8v0.8h-0.8zM79.5 52.5h0.8v0.8h-0.8zM88 59.5h0.8v0.8h-0.8zM53.5 49.5h0.8v0.8h-0.8zM70.5 48.5h0.8v0.8h-0.8zM72.5 49.5h0.8v0.8h-0.8zM89.5 49.5h0.8v0.8h-0.8zM87 56h0.8v0.8h-0.8zM74.5 54.5h0.8v0.8h-0.8zM108.5 55.5h0.8v0.8h-0.8zM76 53.5h0.8v0.8h-0.8zM72 55.5h0.8v0.8h-0.8zM97.5 50h0.8v0.8h-0.8zM82 59.5h0.8v0.8h-0.8zM78 55h0.8v0.8h-0.8zM70.5 50h0.8v0.8h-0.8zM77.5 65h0.8v0.8h-0.8zM79.5 51.5h0.8v0.8h-0.8zM77 53h0.8v0.8h-0.8zM94 55h0.8v0.8h-0.8zM114 55h0.8v0.8h-0.8zM105.5 55.5h0.8v0.8h-0.8zM93.5 47h0.8v0.8h-0.8zM83 53.5h0.8v0.8h-0.8zM97.5 52h0.8v0.8h-0.8zM79 52.5h0.8v0.8h-0.8zM82 56h0.8v0.8h-0.8zM67 49.5h0.8v0.8h-0.8zM89 54.5h0.8v0.8h-0.8zM79.5 51h0.8v0.8h-0.8zM73.5 53.5h0.8v0.8h-0.8zM101.5 48.5h0.8v0.8h-0.8zM106.5 58h0.8v0.8h-0.8zM78.5 58h0.8v0.8h-0.8zM64.5 45.5h0.8v0.8h-0.8zM67 52h0.8v0.8h-0.8zM80.5 51.5h0.8v0.8h-0.8zM92 47h0.8v0.8h-0.8zM75.5 52h0.8v0.8h-0.8zM69 47h0.8v0.8h-0.8zM71 54h0.8v0.8h-0.8zM93.5 57h0.8v0.8h-0.8zM71 50h0.8v0.8h-0.8zM72 56h0.8v0.8h-0.8zM56.5 60h0.8v0.8h-0.8zM78 50h0.8v0.8h-0.8zM90 59h0.8v0.8h-0.8zM90 59.5h0.8v0.8h-0.8zM87 60h0.8v0.8h-0.8zM102.5 53.5h0.8v0.8h-0.8zM105 55h0.8v0.8h-0.8zM86 49.5h0.8v0.8h-0.8zM81 58h0.8v0.8h-0.8zM66.5 57h0.8v0.8h-0.8zM90 55.5h0.8v0.8h-0.8zM54 53.5h0.8v0.8h-0.8zM94 50h0.8v0.8h-0.8zM94.5 50.5h0.8v0.8h-0.8zM97 45h0.8v0.8h-0.8zM94.5 53h0.8v0.8h-0.8zM96.5 49.5h0.8v0.8h-0.8zM76.5 65h0.8v0.8h-0.8zM73.5 50.5h0.8v0.8h-0.8zM81 49h0.8v0.8h-0.8zM101.5 62.5h0.8v0.8h-0.8zM75 45.5h0.8v0.8h-0.8zM101.5 59.5h0.8v0.8h-0.8zM96.5 60h0.8v0.8h-0.8zM73 53h0.8v0.8h-0.8zM65.5 47h0.8v0.8h-0.8zM98.5 50.5h0.8v0.8h-0.8zM117 54.5h0.8v0.8h-0.8zM76 58h0.8v0.8h-0.8zM110 56.5h0.8v0.8h-0.8zM68 56h0.8v0.8h-0.8zM104.5 51.5h0.8v0.8h-0.8zM74 59h0.8v0.8h-0.8zM87 48.5h0.8v0.8h-0.8zM79.5 50h0.8v0.8h-0.8zM89 54.5h0.8v0.8h-0.8zM101 57.5h0.8v0.8h-0.8zM63 56h0.8v0.8h-0.8zM97.5 56.5h0.8v0.8h-0.8zM99.5 51.5h0.8v0.8h-0.8zM71.5 58.5h0.8v0.8h-0.8zM99.5 50.5h0.8v0.8h-0.8zM80.5 47h0.8v0.8h-0.8zM66.5 48h0.8v0.8h-0.8zM80 56h0.8v0.8h-0.8zM53 58h0.8v0.8h-0.8zM68.5 48.5h0.8v0.8h-0.8zM94.5 53.5h0.8v0.8h-0.8zM63.5 63h0.8v0.8h-0.8zM73 55h0.8v0.8h-0.8zM88 61h0.8v0.8h-0.8zM78.5 59h0.8v0.8h-0.8zM74.5 59.5h0.8v0.8h-0.8zM74.5 52h0.8v0.8h-0.8zM111.5 55.5h0.8v0.8h-0.8zM86.5 65h0.8v0.8h-0.8zM90 50h0.8v0.8h-0.8zM95.5 48h0.8v0.8h-0.8zM101 60h0.8v0.8h-0.8zM77 51h0.8v0.8h-0.8zM87.5 54h0.8v0.8h-0.8zM71.5 57h0.8v0.8h-0.8zM56.5 52h0.8v0.8h-0.8zM79.5 52.5h0.8v0.8h-0.8zM89.5 48h0.8v0.8h-0.8zM93 53h0.8v0.8h-0.8zM76 47h0.8v0.8h-0.8zM68.5 56h0.8v0.8h-0.8zM71.5 54.5h0.8v0.8h-0.8zM100 59h0.8v0.8h-0.8zM107 52.5h0.8v0.8h-0.8zM70 59h0.8v0.8h-0.8zM89.5 59.5h0.8v0.8h-0.8zM85 60h0.8v0.8h-0.8zM97 57.5h0.8v0.8h-0.8zM92 56h0.8v0.8h-0.8zM88.5 55h0.8v0.8h-0.8zM99 51.5h0.8v0.8h-0.8zM109.5 53.5h0.8v0.8h-0.8zM99 53.5h0.8v0.8h-0.8zM81.5 64h0.8v0.8h-0.8zM80.5 47.5h0.8v0.8h-0.8zM75 52.5h0.8v0.8h-0.8zM115 55h0.8v0.8h-0.8zM98 49h0.8v0.8h-0.8zM90 57.5h0.8v0.8h-0.8zM110 50.5h0.8v0.8h-0.8zM74 90h0.8v0.8h-0.8zM84.5 96h0.8v0.8h-0.8zM74 76h0.8v0.8h-0.8zM76 85.5h0.8v0.8h-0.8zM84 68h0.8v0.8h-0.8zM81 94.5h0.8v0.8h-0.8zM81.5 92.5h0.8v0.8h-0.8zM86 93h0.8v0.8h-0.8zM83 94h0.8v0.8h-0.8zM87.5 59.5h0.8v0.8h-0.8zM85 82.5h0.8v0.8h-0.8zM77 72.5h0.8v0.8h-0.8zM69 80.5h0.8v0.8h-0.8zM75 93h0.8v0.8h-0.8zM71 106h0.8v0.8h-0.8zM80 82.5h0.8v0.8h-0.8zM75 75h0.8v0.8h-0.8zM73 78.5h0.8v0.8h-0.8zM78.5 83.5h0.8v0.8h-0.8zM71.5 82.5h0.8v0.8h-0.8zM74 88h0.8v0.8h-0.8zM88 95h0.8v0.8h-0.8zM77 63.5h0.8v0.8h-0.8zM71.5 62.5h0.8v0.8h-0.8zM82 75.5h0.8v0.8h-0.8zM79 77.5h0.8v0.8h-0.8zM79 105.5h0.8v0.8h-0.8zM75 81h0.8v0.8h-0.8zM74.5 98h0.8v0.8h-0.8zM73.5 70h0.8v0.8h-0.8zM71.5 66.5h0.8v0.8h-0.8zM81 122h0.8v0.8h-0.8zM73.5 99.5h0.8v0.8h-0.8zM80 70.5h0.8v0.8h-0.8zM77 82.5h0.8v0.8h-0.8zM75 113h0.8v0.8h-0.8zM69 91.5h0.8v0.8h-0.8zM80 78h0.8v0.8h-0.8zM79 98.5h0.8v0.8h-0.8zM79.5 92h0.8v0.8h-0.8zM82 57.5h0.8v0.8h-0.8zM86 118h0.8v0.8h-0.8zM83.5 100h0.8v0.8h-0.8zM71.5 84.5h0.8v0.8h-0.8zM74.5 78h0.8v0.8h-0.8zM83.5 74.5h0.8v0.8h-0.8zM78 59.5h0.8v0.8h-0.8zM77.5 87.5h0.8v0.8h-0.8zM75 76h0.8v0.8h-0.8zM88 69h0.8v0.8h-0.8zM73 74.5h0.8v0.8h-0.8zM84.5 115.5h0.8v0.8h-0.8zM80 76h0.8v0.8h-0.8zM76.5 101h0.8v0.8h-0.8zM74 106.5h0.8v0.8h-0.8zM85.5 87h0.8v0.8h-0.8zM81.5 96.5h0.8v0.8h-0.8zM86.5 71.5h0.8v0.8h-0.8zM84.5 80.5h0.8v0.8h-0.8zM74.5 87.5h0.8v0.8h-0.8zM77.5 72h0.8v0.8h-0.8zM70.5 73h0.8v0.8h-0.8zM86 113.5h0.8v0.8h-0.8zM82 102.5h0.8v0.8h-0.8zM76 85h0.8v0.8h-0.8zM80 71h0.8v0.8h-0.8zM73.5 87.5h0.8v0.8h-0.8zM77 71h0.8v0.8h-0.8zM80.5 82.5h0.8v0.8h-0.8zM83.5 86h0.8v0.8h-0.8zM77 88h0.8v0.8h-0.8zM77.5 76.5h0.8v0.8h-0.8zM76.5 96.5h0.8v0.8h-0.8zM81.5 104h0.8v0.8h-0.8zM70 80.5h0.8v0.8h-0.8zM76.5 88.5h0.8v0.8h-0.8zM76 79h0.8v0.8h-0.8zM82.5 88.5h0.8v0.8h-0.8zM72.5 104.5h0.8v0.8h-0.8zM83.5 78h0.8v0.8h-0.8zM82.5 75.5h0.8v0.8h-0.8zM84 83h0.8v0.8h-0.8zM74.5 81h0.8v0.8h-0.8zM74.5 88.5h0.8v0.8h-0.8zM79.5 86.5h0.8v0.8h-0.8zM75.5 34.5h0.8v0.8h-0.8zM79 59.5h0.8v0.8h-0.8zM79.5 102h0.8v0.8h-0.8zM80 80.5h0.8v0.8h-0.8zM77.5 84h0.8v0.8h-0.8zM76 78h0.8v0.8h-0.8zM74 102.5h0.8v0.8h-0.8zM78.5 99.5h0.8v0.8h-0.8zM77 87h0.8v0.8h-0.8zM77.5 92.5h0.8v0.8h-0.8zM82.5 89.5h0.8v0.8h-0.8zM75 75h0.8v0.8h-0.8zM87 82h0.8v0.8h-0.8zM77 106.5h0.8v0.8h-0.8zM84 93.5h0.8v0.8h-0.8zM76.5 119h0.8v0.8h-0.8zM80.5 93.5h0.8v0.8h-0.8zM77.5 66h0.8v0.8h-0.8zM72 91.5h0.8v0.8h-0.8zM80.5 82.5h0.8v0.8h-0.8zM72.5 66h0.8v0.8h-0.8zM77 65.5h0.8v0.8h-0.8zM83 102h0.8v0.8h-0.8zM92.5 98.5h0.8v0.8h-0.8zM75.5 74h0.8v0.8h-0.8zM61 77.5h0.8v0.8h-0.8zM77.5 99.5h0.8v0.8h-0.8zM81.5 94h0.8v0.8h-0.8zM79.5 95.5h0.8v0.8h-0.8zM85.5 71h0.8v0.8h-0.8zM76 66.5h0.8v0.8h-0.8zM86.5 104h0.8v0.8h-0.8zM82.5 69h0.8v0.8h-0.8zM79.5 82.5h0.8v0.8h-0.8zM79 83.5h0.8v0.8h-0.8zM81 80.5h0.8v0.8h-0.8zM83 89.5h0.8v0.8h-0.8zM77 84.5h0.8v0.8h-0.8zM76.5 97.5h0.8v0.8h-0.8zM77 90h0.8v0.8h-0.8zM76.5 65h0.8v0.8h-0.8zM83 71h0.8v0.8h-0.8zM82 92h0.8v0.8h-0.8zM70 73h0.8v0.8h-0.8zM76 74.5h0.8v0.8h-0.8zM72.5 96.5h0.8v0.8h-0.8zM77.5 91.5h0.8v0.8h-0.8zM76.5 90.5h0.8v0.8h-0.8zM74.5 85.5h0.8v0.8h-0.8zM81.5 86.5h0.8v0.8h-0.8zM76 71h0.8v0.8h-0.8zM79.5 91h0.8v0.8h-0.8zM77 75h0.8v0.8h-0.8zM81 120.5h0.8v0.8h-0.8zM77 90.5h0.8v0.8h-0.8zM80.5 50h0.8v0.8h-0.8zM79 76h0.8v0.8h-0.8zM85.5 82.5h0.8v0.8h-0.8zM74.5 83h0.8v0.8h-0.8zM79.5 78h0.8v0.8h-0.8zM78 67h0.8v0.8h-0.8zM77.5 97h0.8v0.8h-0.8zM88.5 96h0.8v0.8h-0.8zM80 102.5h0.8v0.8h-0.8zM83.5 109.5h0.8v0.8h-0.8zM95 105h0.8v0.8h-0.8zM85.5 117.5h0.8v0.8h-0.8zM105.5 115h0.8v0.8h-0.8zM100.5 112h0.8v0.8h-0.8zM92 111h0.8v0.8h-0.8zM102.5 115.5h0.8v0.8h-0.8zM93 112.5h0.8v0.8h-0.8zM99 115.5h0.8v0.8h-0.8zM89 121.5h0.8v0.8h-0.8zM97 114h0.8v0.8h-0.8zM106 118.5h0.8v0.8h-0.8zM94.5 116.5h0.8v0.8h-0.8zM87 111h0.8v0.8h-0.8zM78 119.5h0.8v0.8h-0.8zM81 117h0.8v0.8h-0.8zM89 109.5h0.8v0.8h-0.8zM93.5 115h0.8v0.8h-0.8zM99.5 122h0.8v0.8h-0.8zM97.5 118h0.8v0.8h-0.8zM90.5 117h0.8v0.8h-0.8zM96 112h0.8v0.8h-0.8zM94.5 113.5h0.8v0.8h-0.8zM96.5 116h0.8v0.8h-0.8zM91 110.5h0.8v0.8h-0.8zM100.5 106.5h0.8v0.8h-0.8zM90.5 121h0.8v0.8h-0.8zM74.5 111h0.8v0.8h-0.8zM100 106.5h0.8v0.8h-0.8zM114.5 102.5h0.8v0.8h-0.8zM106 121h0.8v0.8h-0.8zM102 113h0.8v0.8h-0.8zM97.5 110h0.8v0.8h-0.8zM101 109h0.8v0.8h-0.8zM93 118.5h0.8v0.8h-0.8zM86.5 112.5h0.8v0.8h-0.8zM96 108h0.8v0.8h-0.8zM103.5 115.5h0.8v0.8h-0.8zM83.5 114h0.8v0.8h-0.8zM89 111h0.8v0.8h-0.8zM95.5 111h0.8v0.8h-0.8zM102 111h0.8v0.8h-0.8zM102.5 114h0.8v0.8h-0.8zM101.5 111.5h0.8v0.8h-0.8zM91 109h0.8v0.8h-0.8zM99.5 118h0.8v0.8h-0.8zM111 120h0.8v0.8h-0.8zM97 113h0.8v0.8h-0.8zM98 114h0.8v0.8h-0.8zM106 118h0.8v0.8h-0.8zM88.5 111h0.8v0.8h-0.8zM105.5 115.5h0.8v0.8h-0.8zM93.5 119.5h0.8v0.8h-0.8zM92 112.5h0.8v0.8h-0.8zM91.5 105h0.8v0.8h-0.8zM101.5 108.5h0.8v0.8h-0.8zM90.5 110.5h0.8v0.8h-0.8zM100.5 113.5h0.8v0.8h-0.8zM95 106.5h0.8v0.8h-0.8zM94.5 107.5h0.8v0.8h-0.8zM97.5 115.5h0.8v0.8h-0.8zM95 123h0.8v0.8h-0.8zM99 116.5h0.8v0.8h-0.8zM96 113h0.8v0.8h-0.8zM102 119h0.8v0.8h-0.8zM85 118.5h0.8v0.8h-0.8zM99 118.5h0.8v0.8h-0.8zM98.5 108.5h0.8v0.8h-0.8zM86 122h0.8v0.8h-0.8zM97 107.5h0.8v0.8h-0.8zM97.5 112.5h0.8v0.8h-0.8zM81 103.5h0.8v0.8h-0.8zM83 115h0.8v0.8h-0.8zM94.5 113h0.8v0.8h-0.8zM97 116.5h0.8v0.8h-0.8zM79 112.5h0.8v0.8h-0.8zM89 108.5h0.8v0.8h-0.8zM91 113.5h0.8v0.8h-0.8zM93 107.5h0.8v0.8h-0.8zM91.5 123h0.8v0.8h-0.8zM87 106.5h0.8v0.8h-0.8zM97 116.5h0.8v0.8h-0.8zM98.5 109h0.8v0.8h-0.8zM102.5 110.5h0.8v0.8h-0.8zM86.5 111.5h0.8v0.8h-0.8zM94 117h0.8v0.8h-0.8zM99.5 114h0.8v0.8h-0.8zM102 114.5h0.8v0.8h-0.8zM101.5 107.5h0.8v0.8h-0.8zM83 117.5h0.8v0.8h-0.8zM84.5 112.5h0.8v0.8h-0.8zM94.5 112h0.8v0.8h-0.8zM91.5 120.5h0.8v0.8h-0.8zM76 118h0.8v0.8h-0.8zM112 114h0.8v0.8h-0.8zM95 117.5h0.8v0.8h-0.8zM108.5 108.5h0.8v0.8h-0.8zM95.5 113h0.8v0.8h-0.8zM99 114.5h0.8v0.8h-0.8zM100 112h0.8v0.8h-0.8zM95.5 111h0.8v0.8h-0.8zM90 113.5h0.8v0.8h-0.8zM94 108.5h0.8v0.8h-0.8zM107 113.5h0.8v0.8h-0.8zM84.5 119h0.8v0.8h-0.8zM89.5 116.5h0.8v0.8h-0.8zM95 115h0.8v0.8h-0.8zM96.5 111.5h0.8v0.8h-0.8zM95.5 123h0.8v0.8h-0.8zM78 114.5h0.8v0.8h-0.8zM98.5 109.5h0.8v0.8h-0.8zM84.5 123.5h0.8v0.8h-0.8zM92 123.5h0.8v0.8h-0.8zM99 114.5h0.8v0.8h-0.8zM98.5 117h0.8v0.8h-0.8zM104 116h0.8v0.8h-0.8zM96 115h0.8v0.8h-0.8zM105 117.5h0.8v0.8h-0.8zM87.5 111h0.8v0.8h-0.8zM97.5 111h0.8v0.8h-0.8zM92 109.5h0.8v0.8h-0.8zM93 116h0.8v0.8h-0.8zM102.5 114h0.8v0.8h-0.8zM110.5 113.5h0.8v0.8h-0.8zM119 118.5h0.8v0.8h-0.8zM98.5 112h0.8v0.8h-0.8zM74 113.5h0.8v0.8h-0.8zM96.5 122.5h0.8v0.8h-0.8zM84.5 122.5h0.8v0.8h-0.8zM93 117.5h0.8v0.8h-0.8zM76 114.5h0.8v0.8h-0.8zM107.5 91.5h0.8v0.8h-0.8zM109.5 66h0.8v0.8h-0.8zM113.5 91.5h0.8v0.8h-0.8zM111.5 96h0.8v0.8h-0.8zM114 81.5h0.8v0.8h-0.8zM103 62.5h0.8v0.8h-0.8zM115 92h0.8v0.8h-0.8zM109.5 76h0.8v0.8h-0.8zM109 82.5h0.8v0.8h-0.8zM107.5 72h0.8v0.8h-0.8zM118.5 85h0.8v0.8h-0.8zM106.5 64h0.8v0.8h-0.8zM105.5 92h0.8v0.8h-0.8zM112.5 79h0.8v0.8h-0.8zM109 77.5h0.8v0.8h-0.8zM104 100h0.8v0.8h-0.8zM110.5 116.5h0.8v0.8h-0.8zM105.5 80h0.8v0.8h-0.8zM113 78.5h0.8v0.8h-0.8zM103 68.5h0.8v0.8h-0.8zM109.5 87h0.8v0.8h-0.8zM108.5 96h0.8v0.8h-0.8zM113.5 86.5h0.8v0.8h-0.8zM109 78.5h0.8v0.8h-0.8zM111.5 95h0.8v0.8h-0.8zM109.5 88.5h0.8v0.8h-0.8zM107.5 62h0.8v0.8h-0.8zM104.5 92.5h0.8v0.8h-0.8zM111 104.5h0.8v0.8h-0.8zM109.5 94h0.8v0.8h-0.8zM115 96h0.8v0.8h-0.8zM106.5 79.5h0.8v0.8h-0.8zM109.5 68h0.8v0.8h-0.8zM111 96.5h0.8v0.8h-0.8zM107 109.5h0.8v0.8h-0.8zM107.5 79h0.8v0.8h-0.8zM108 72h0.8v0.8h-0.8zM111 82.5h0.8v0.8h-0.8zM116.5 90.5h0.8v0.8h-0.8zM111.5 79h0.8v0.8h-0.8zM102.5 80.5h0.8v0.8h-0.8zM105 95.5h0.8v0.8h-0.8zM109 105.5h0.8v0.8h-0.8zM112.5 93.5h0.8v0.8h-0.8zM110 85h0.8v0.8h-0.8zM112 95h0.8v0.8h-0.8zM106 89h0.8v0.8h-0.8zM121 80.5h0.8v0.8h-0.8zM108 72.5h0.8v0.8h-0.8zM102.5 98.5h0.8v0.8h-0.8zM109.5 86h0.8v0.8h-0.8zM117.5 117h0.8v0.8h-0.8zM105 97h0.8v0.8h-0.8zM112 87.5h0.8v0.8h-0.8zM111 81.5h0.8v0.8h-0.8zM116 90.5h0.8v0.8h-0.8zM110.5 99.5h0.8v0.8h-0.8zM113 88.5h0.8v0.8h-0.8zM110.5 106.5h0.8v0.8h-0.8zM111.5 81h0.8v0.8h-0.8zM105 77h0.8v0.8h-0.8zM104.5 83.5h0.8v0.8h-0.8zM110 53.5h0.8v0.8h-0.8zM109 91h0.8v0.8h-0.8zM110 68.5h0.8v0.8h-0.8zM114.5 72.5h0.8v0.8h-0.8zM103.5 67h0.8v0.8h-0.8zM109 96h0.8v0.8h-0.8zM114.5 85h0.8v0.8h-0.8zM103.5 73h0.8v0.8h-0.8zM105 79.5h0.8v0.8h-0.8zM101 83.5h0.8v0.8h-0.8zM112 80h0.8v0.8h-0.8zM111 69h0.8v0.8h-0.8zM102.5 73h0.8v0.8h-0.8zM114 96.5h0.8v0.8h-0.8zM107 99h0.8v0.8h-0.8zM107.5 103h0.8v0.8h-0.8zM111 75.5h0.8v0.8h-0.8zM112.5 71h0.8v0.8h-0.8zM105 61.5h0.8v0.8h-0.8zM110 81.5h0.8v0.8h-0.8zM108.5 76.5h0.8v0.8h-0.8zM115.5 76h0.8v0.8h-0.8zM105.5 99.5h0.8v0.8h-0.8zM115.5 86.5h0.8v0.8h-0.8zM101 73.5h0.8v0.8h-0.8zM112 82h0.8v0.8h-0.8zM116 63h0.8v0.8h-0.8zM112 73h0.8v0.8h-0.8zM115 81h0.8v0.8h-0.8zM113.5 73h0.8v0.8h-0.8zM102.5 66.5h0.8v0.8h-0.8zM106.5 67.5h0.8v0.8h-0.8zM114.5 100.5h0.8v0.8h-0.8zM110 67.5h0.8v0.8h-0.8zM108.5 72.5h0.8v0.8h-0.8zM115.5 86.5h0.8v0.8h-0.8zM111 76.5h0.8v0.8h-0.8zM100 71h0.8v0.8h-0.8zM104 87h0.8v0.8h-0.8zM109.5 71h0.8v0.8h-0.8zM107.5 104h0.8v0.8h-0.8zM104.5 69h0.8v0.8h-0.8zM108 72h0.8v0.8h-0.8zM107 89.5h0.8v0.8h-0.8zM117 57h0.8v0.8h-0.8zM109 82.5h0.8v0.8h-0.8zM108.5 79.5h0.8v0.8h-0.8zM107.5 96h0.8v0.8h-0.8zM107 80h0.8v0.8h-0.8zM109 83.5h0.8v0.8h-0.8zM108 96h0.8v0.8h-0.8zM109 84.5h0.8v0.8h-0.8zM109 68h0.8v0.8h-0.8zM105.5 67.5h0.8v0.8h-0.8zM110 72h0.8v0.8h-0.8zM104 85.5h0.8v0.8h-0.8zM111.5 57.5h0.8v0.8h-0.8zM116.5 82.5h0.8v0.8h-0.8zM108.5 97h0.8v0.8h-0.8zM109.5 73.5h0.8v0.8h-0.8zM119 67h0.8v0.8h-0.8zM108.5 94h0.8v0.8h-0.8zM104 80.5h0.8v0.8h-0.8zM110.5 115.5h0.8v0.8h-0.8zM105 81.5h0.8v0.8h-0.8zM112 83h0.8v0.8h-0.8zM103.5 87.5h0.8v0.8h-0.8zM109.5 88h0.8v0.8h-0.8zM114 96h0.8v0.8h-0.8zM111 86.5h0.8v0.8h-0.8zM104 80h0.8v0.8h-0.8zM110 76.5h0.8v0.8h-0.8zM109.5 70.5h0.8v0.8h-0.8zM116 112h0.8v0.8h-0.8zM107 87.5h0.8v0.8h-0.8zM108 99.5h0.8v0.8h-0.8zM111 83h0.8v0.8h-0.8zM108 84h0.8v0.8h-0.8zM104.5 91.5h0.8v0.8h-0.8zM106 89.5h0.8v0.8h-0.8zM109.5 97.5h0.8v0.8h-0.8zM109 96.5h0.8v0.8h-0.8zM105 90.5h0.8v0.8h-0.8zM108 84.5h0.8v0.8h-0.8zM109.5 95h0.8v0.8h-0.8zM100 86.5h0.8v0.8h-0.8zM102.5 99h0.8v0.8h-0.8zM100 68h0.8v0.8h-0.8zM101.5 105h0.8v0.8h-0.8zM103 83.5h0.8v0.8h-0.8zM106.5 57h0.8v0.8h-0.8zM107.5 91.5h0.8v0.8h-0.8zM108 95h0.8v0.8h-0.8zM107.5 82h0.8v0.8h-0.8zM107.5 87h0.8v0.8h-0.8zM117.5 87h0.8v0.8h-0.8zM110 73.5h0.8v0.8h-0.8zM105.5 102.5h0.8v0.8h-0.8zM104 69h0.8v0.8h-0.8zM108.5 76h0.8v0.8h-0.8zM118 49h0.8v0.8h-0.8zM110.5 92h0.8v0.8h-0.8zM104 73h0.8v0.8h-0.8zM111 105h0.8v0.8h-0.8zM105 60h0.8v0.8h-0.8zM113.5 103.5h0.8v0.8h-0.8zM107.5 51h0.8v0.8h-0.8zM115.5 79h0.8v0.8h-0.8zM114 81.5h0.8v0.8h-0.8zM107.5 75.5h0.8v0.8h-0.8zM115.5 102h0.8v0.8h-0.8zM99.5 69h0.8v0.8h-0.8zM117 77h0.8v0.8h-0.8zM103 82h0.8v0.8h-0.8zM108.5 80.5h0.8v0.8h-0.8zM107 77.5h0.8v0.8h-0.8zM107 86.5h0.8v0.8h-0.8zM105.5 78h0.8v0.8h-0.8zM108.5 100.5h0.8v0.8h-0.8zM110.5 80.5h0.8v0.8h-0.8zM111.5 87.5h0.8v0.8h-0.8zM114 89h0.8v0.8h-0.8zM117 101h0.8v0.8h-0.8zM109 76h0.8v0.8h-0.8zM113 89h0.8v0.8h-0.8zM108.5 61.5h0.8v0.8h-0.8zM101 87h0.8v0.8h-0.8zM112.5 93h0.8v0.8h-0.8zM103 96.5h0.8v0.8h-0.8zM106.5 87.5h0.8v0.8h-0.8zM111 71h0.8v0.8h-0.8zM106.5 53h0.8v0.8h-0.8zM105 57h0.8v0.8h-0.8zM111 83h0.8v0.8h-0.8zM113 87h0.8v0.8h-0.8zM106 87h0.8v0.8h-0.8zM107 90.5h0.8v0.8h-0.8zM110.5 68h0.8v0.8h-0.8zM109 83h0.8v0.8h-0.8zM107.5 94.5h0.8v0.8h-0.8zM116.5 77h0.8v0.8h-0.8zM107.5 50.5h0.8v0.8h-0.8zM108.5 76h0.8v0.8h-0.8zM99.5 86h0.8v0.8h-0.8zM111.5 71.5h0.8v0.8h-0.8zM107.5 68.5h0.8v0.8h-0.8zM112.5 61h0.8v0.8h-0.8zM107.5 109.5h0.8v0.8h-0.8zM109 88.5h0.8v0.8h-0.8zM108.5 65.5h0.8v0.8h-0.8zM109 87.5h0.8v0.8h-0.8zM104.5 87h0.8v0.8h-0.8zM114.5 97h0.8v0.8h-0.8zM102 68.5h0.8v0.8h-0.8zM101.5 97h0.8v0.8h-0.8zM111.5 92h0.8v0.8h-0.8zM105 65.5h0.8v0.8h-0.8zM109.5 83.5h0.8v0.8h-0.8zM123.5 46h0.8v0.8h-0.8zM111.5 54.5h0.8v0.8h-0.8zM100.5 50.5h0.8v0.8h-0.8zM102 50h0.8v0.8h-0.8zM120 39h0.8v0.8h-0.8zM105 49h0.8v0.8h-0.8zM117 46h0.8v0.8h-0.8zM121.5 41.5h0.8v0.8h-0.8zM104.5 51.5h0.8v0.8h-0.8zM114.5 44h0.8v0.8h-0.8zM122 54h0.8v0.8h-0.8zM111.5 50.5h0.8v0.8h-0.8zM125 39.5h0.8v0.8h-0.8zM107 47.5h0.8v0.8h-0.8zM120 48.5h0.8v0.8h-0.8zM115 49h0.8v0.8h-0.8zM128 46h0.8v0.8h-0.8zM104.5 54h0.8v0.8h-0.8zM118 50.5h0.8v0.8h-0.8zM112.5 46.5h0.8v0.8h-0.8zM108.5 43h0.8v0.8h-0.8zM114 46h0.8v0.8h-0.8zM117 42h0.8v0.8h-0.8zM110 46h0.8v0.8h-0.8zM109 55.5h0.8v0.8h-0.8zM113 52h0.8v0.8h-0.8zM107 53h0.8v0.8h-0.8zM101.5 53.5h0.8v0.8h-0.8zM113 52.5h0.8v0.8h-0.8zM116.5 46.5h0.8v0.8h-0.8zM122.5 45h0.8v0.8h-0.8zM121.5 48.5h0.8v0.8h-0.8zM114.5 47h0.8v0.8h-0.8zM117 45h0.8v0.8h-0.8zM121 50.5h0.8v0.8h-0.8zM121.5 43h0.8v0.8h-0.8zM105.5 53.5h0.8v0.8h-0.8zM117 53h0.8v0.8h-0.8zM112 49h0.8v0.8h-0.8zM120.5 43h0.8v0.8h-0.8zM118 55.5h0.8v0.8h-0.8zM128.5 44h0.8v0.8h-0.8zM115.5 43h0.8v0.8h-0.8zM120 46h0.8v0.8h-0.8zM116 45h0.8v0.8h-0.8zM115 47.5h0.8v0.8h-0.8zM121 52.5h0.8v0.8h-0.8zM115 40h0.8v0.8h-0.8zM104.5 46h0.8v0.8h-0.8zM110.5 53.5h0.8v0.8h-0.8zM117.5 44h0.8v0.8h-0.8zM116 44h0.8v0.8h-0.8zM101.5 48.5h0.8v0.8h-0.8zM112 57.5h0.8v0.8h-0.8zM107.5 58.5h0.8v0.8h-0.8zM125.5 41.5h0.8v0.8h-0.8zM114 46h0.8v0.8h-0.8zM116.5 50.5h0.8v0.8h-0.8zM117.5 52h0.8v0.8h-0.8zM125.5 44.5h0.8v0.8h-0.8zM118 46.5h0.8v0.8h-0.8zM116 42h0.8v0.8h-0.8zM119 47h0.8v0.8h-0.8zM113.5 60h0.8v0.8h-0.8zM106 49h0.8v0.8h-0.8zM113.5 39h0.8v0.8h-0.8zM106 45.5h0.8v0.8h-0.8zM107.5 51.5h0.8v0.8h-0.8zM120.5 51h0.8v0.8h-0.8zM124.5 49h0.8v0.8h-0.8zM119 43.5h0.8v0.8h-0.8zM123 41.5h0.8v0.8h-0.8zM114 56.5h0.8v0.8h-0.8zM122 45.5h0.8v0.8h-0.8zM123.5 48h0.8v0.8h-0.8zM104.5 53.5h0.8v0.8h-0.8zM106.5 53.5h0.8v0.8h-0.8zM113 56.5h0.8v0.8h-0.8zM118 42.5h0.8v0.8h-0.8zM112.5 43.5h0.8v0.8h-0.8zM117 50h0.8v0.8h-0.8zM113.5 39.5h0.8v0.8h-0.8zM114 51.5h0.8v0.8h-0.8zM120.5 51.5h0.8v0.8h-0.8zM106.5 55.5h0.8v0.8h-0.8zM110.5 51.5h0.8v0.8h-0.8zM120 49h0.8v0.8h-0.8zM111.5 51h0.8v0.8h-0.8zM103 47.5h0.8v0.8h-0.8zM119.5 45.5h0.8v0.8h-0.8zM101 51.5h0.8v0.8h-0.8zM119 54h0.8v0.8h-0.8zM125.5 46.5h0.8v0.8h-0.8zM101 55.5h0.8v0.8h-0.8zM120 47.5h0.8v0.8h-0.8zM118 45.5h0.8v0.8h-0.8zM132.5 46.5h0.8v0.8h-0.8zM112.5 44.5h0.8v0.8h-0.8zM130.5 37h0.8v0.8h-0.8zM129 50.5h0.8v0.8h-0.8zM108.5 53h0.8v0.8h-0.8zM114 51.5h0.8v0.8h-0.8zM122 54.5h0.8v0.8h-0.8zM120 45.5h0.8v0.8h-0.8zM123.5 42h0.8v0.8h-0.8zM117.5 58.5h0.8v0.8h-0.8zM108 49.5h0.8v0.8h-0.8zM113.5 43.5h0.8v0.8h-0.8zM101 61.5h0.8v0.8h-0.8zM108 49.5h0.8v0.8h-0.8zM110.5 46h0.8v0.8h-0.8zM107.5 53.5h0.8v0.8h-0.8zM136 40.5h0.8v0.8h-0.8zM118 39h0.8v0.8h-0.8zM112.5 43.5h0.8v0.8h-0.8zM121 44h0.8v0.8h-0.8zM115.5 47.5h0.8v0.8h-0.8zM107.5 44.5h0.8v0.8h-0.8zM117 40h0.8v0.8h-0.8zM105.5 52h0.8v0.8h-0.8zM110.5 52h0.8v0.8h-0.8zM124 44.5h0.8v0.8h-0.8zM117 47.5h0.8v0.8h-0.8zM118 37h0.8v0.8h-0.8zM116.5 43h0.8v0.8h-0.8zM105.5 53.5h0.8v0.8h-0.8zM113.5 52h0.8v0.8h-0.8zM119 34h0.8v0.8h-0.8zM119 56h0.8v0.8h-0.8zM125.5 50h0.8v0.8h-0.8zM113 42h0.8v0.8h-0.8zM108 55.5h0.8v0.8h-0.8zM121.5 41h0.8v0.8h-0.8zM114 50h0.8v0.8h-0.8zM101 54h0.8v0.8h-0.8zM133 49.5h0.8v0.8h-0.8zM118.5 55.5h0.8v0.8h-0.8zM109.5 47h0.8v0.8h-0.8zM100 61.5h0.8v0.8h-0.8zM117.5 59h0.8v0.8h-0.8zM118.5 47.5h0.8v0.8h-0.8zM104.5 61.5h0.8v0.8h-0.8zM112 49h0.8v0.8h-0.8zM100 61h0.8v0.8h-0.8zM122 41.5h0.8v0.8h-0.8zM117 49h0.8v0.8h-0.8zM123.5 44.5h0.8v0.8h-0.8zM128.5 39.5h0.8v0.8h-0.8zM109.5 49h0.8v0.8h-0.8zM93.5 56h0.8v0.8h-0.8zM124 44.5h0.8v0.8h-0.8zM109.5 53h0.8v0.8h-0.8zM99 55.5h0.8v0.8h-0.8zM121 48.5h0.8v0.8h-0.8zM111.5 55h0.8v0.8h-0.8zM129.5 38.5h0.8v0.8h-0.8zM118 38.5h0.8v0.8h-0.8zM101.5 59h0.8v0.8h-0.8zM116 48.5h0.8v0.8h-0.8zM110 49.5h0.8v0.8h-0.8zM125.5 51.5h0.8v0.8h-0.8zM110 42.5h0.8v0.8h-0.8zM127 45h0.8v0.8h-0.8zM121.5 46h0.8v0.8h-0.8zM134 38.5h0.8v0.8h-0.8zM115.5 38.5h0.8v0.8h-0.8zM109.5 48h0.8v0.8h-0.8zM116 49.5h0.8v0.8h-0.8zM113.5 58h0.8v0.8h-0.8zM106 51h0.8v0.8h-0.8zM114.5 42h0.8v0.8h-0.8zM121.5 48h0.8v0.8h-0.8zM117.5 57h0.8v0.8h-0.8zM116.5 49h0.8v0.8h-0.8zM104.5 45.5h0.8v0.8h-0.8zM110 49.5h0.8v0.8h-0.8zM113.5 53h0.8v0.8h-0.8zM94 54h0.8v0.8h-0.8zM104 61h0.8v0.8h-0.8zM110 48.5h0.8v0.8h-0.8zM108.5 56.5h0.8v0.8h-0.8zM112.5 50.5h0.8v0.8h-0.8zM102 61.5h0.8v0.8h-0.8zM120 48.5h0.8v0.8h-0.8zM125 42h0.8v0.8h-0.8zM115.5 51.5h0.8v0.8h-0.8zM118.5 45h0.8v0.8h-0.8zM115 46h0.8v0.8h-0.8zM123 48.5h0.8v0.8h-0.8zM119.5 55.5h0.8v0.8h-0.8zM103 53.5h0.8v0.8h-0.8zM128 39h0.8v0.8h-0.8zM106 60.5h0.8v0.8h-0.8zM117 41h0.8v0.8h-0.8zM119.5 40.5h0.8v0.8h-0.8zM104.5 53h0.8v0.8h-0.8zM109.5 46h0.8v0.8h-0.8zM110.5 45.5h0.8v0.8h-0.8zM116 47.5h0.8v0.8h-0.8zM120.5 43h0.8v0.8h-0.8zM102 48.5h0.8v0.8h-0.8zM117 55h0.8v0.8h-0.8zM121 42h0.8v0.8h-0.8zM120.5 39.5h0.8v0.8h-0.8zM122.5 42h0.8v0.8h-0.8zM123 47h0.8v0.8h-0.8zM114 50.5h0.8v0.8h-0.8zM107 52.5h0.8v0.8h-0.8zM133 59.5h0.8v0.8h-0.8zM121.5 45.5h0.8v0.8h-0.8zM110 56.5h0.8v0.8h-0.8zM100.5 52h0.8v0.8h-0.8zM116 41.5h0.8v0.8h-0.8zM130 45.5h0.8v0.8h-0.8zM110 48.5h0.8v0.8h-0.8zM102 48h0.8v0.8h-0.8zM120.5 48.5h0.8v0.8h-0.8zM119 47.5h0.8v0.8h-0.8zM112 52h0.8v0.8h-0.8zM104 54.5h0.8v0.8h-0.8z"/>
<path fill="#3c3c3c" d="M90 57h0.8v0.8h-0.8zM87 52.5h0.8v0.8h-0.8zM85 52h0.8v0.8h-0.8zM90.5 61h0.8v0.8h-0.8zM84.5 53.5h0.8v0.8h-0.8zM95.5 57.5h0.8v0.8h-0.8zM91 52.5h0.8v0.8h-0.8zM89.5 58.5h0.8v0.8h-0.8zM75 54.5h0.8v0.8h-0.8zM69 51h0.8v0.8h-0.8zM69.5 55h0.8v0.8h-0.8zM76 57h0.8v0.8h-0.8zM91.5 55.5h0.8v0.8h-0.8zM62.5 54h0.8v0.8h-0.8zM89.5 56.5h0.8v0.8h-0.8zM73 54h0.8v0.8h-0.8zM79 53h0.8v0.8h-0.8zM101.5 53h0.8v0.8h-0.8zM89.5 59.5h0.8v0.8h-0.8zM83.5 55.5h0.8v0.8h-0.8zM91 56h0.8v0.8h-0.8zM76.5 56.5h0.8v0.8h-0.8zM105 50h0.8v0.8h-0.8zM99.5 56.5h0.8v0.8h-0.8zM83 63.5h0.8v0.8h-0.8zM98.5 51.5h0.8v0.8h-0.8zM91 58h0.8v0.8h-0.8zM88 58.5h0.8v0.8h-0.8zM89.5 58.5h0.8v0.8h-0.8zM106 53.5h0.8v0.8h-0.8zM92 54h0.8v0.8h-0.8zM91.5 51.5h0.8v0.8h-0.8zM83.5 55.5h0.8v0.8h-0.8zM100 60.5h0.8v0.8h-0.8zM75.5 53h0.8v0.8h-0.8zM97 48.5h0.8v0.8h-0.8zM85 55.5h0.8v0.8h-0.8zM104 58.5h0.8v0.8h-0.8zM86.5 54.5h0.8v0.8h-0.8zM87 62h0.8v0.8h-0.8zM85.5 55h0.8v0.8h-0.8zM94 55.5h0.8v0.8h-0.8zM88 52h0.8v0.8h-0.8zM90 54.5h0.8v0.8h-0.8zM103 58.5h0.8v0.8h-0.8zM89.5 58.5h0.8v0.8h-0.8zM86.5 60h0.8v0.8h-0.8zM90 58h0.8v0.8h-0.8zM76 57.5h0.8v0.8h-0.8zM71.5 48.5h0.8v0.8h-0.8zM86.5 52.5h0.8v0.8h-0.8zM92 64.5h0.8v0.8h-0.8zM81 53.5h0.8v0.8h-0.8zM92.5 58h0.8v0.8h-0.8zM88 55h0.8v0.8h-0.8zM97.5 58h0.8v0.8h-0.8zM78.5 55.5h0.8v0.8h-0.8zM90.5 52h0.8v0.8h-0.8zM93 52.5h0.8v0.8h-0.8zM100.5 56.5h0.8v0.8h-0.8zM91 54h0.8v0.8h-0.8zM88.5 48.5h0.8v0.8h-0.8zM77.5 57.5h0.8v0.8h-0.8zM66.5 59h0.8v0.8h-0.8zM71 59h0.8v0.8h-0.8zM80.5 59h0.8v0.8h-0.8zM91.5 50h0.8v0.8h-0.8zM103.5 61.5h0.8v0.8h-0.8zM89.5 55h0.8v0.8h-0.8zM88 52.5h0.8v0.8h-0.8zM102 54h0.8v0.8h-0.8zM89.5 53h0.8v0.8h-0.8zM83 51h0.8v0.8h-0.8zM104 55.5h0.8v0.8h-0.8zM100.5 56h0.8v0.8h-0.8zM82.5 55h0.8v0.8h-0.8zM84 56h0.8v0.8h-0.8zM86 55h0.8v0.8h-0.8zM75 53h0.8v0.8h-0.8zM108 53.5h0.8v0.8h-0.8zM78.5 57.5h0.8v0.8h-0.8zM105.5 50.5h0.8v0.8h-0.8zM87.5 53.5h0.8v0.8h-0.8zM70.5 59h0.8v0.8h-0.8zM89.5 56.5h0.8v0.8h-0.8zM81.5 57.5h0.8v0.8h-0.8zM84 55.5h0.8v0.8h-0.8zM78 51.5h0.8v0.8h-0.8zM104.5 54h0.8v0.8h-0.8zM93 56h0.8v0.8h-0.8zM85 54h0.8v0.8h-0.8zM97 55h0.8v0.8h-0.8zM88.5 56h0.8v0.8h-0.8zM103 58.5h0.8v0.8h-0.8zM94 54h0.8v0.8h-0.8zM75 59.5h0.8v0.8h-0.8zM100.5 55.5h0.8v0.8h-0.8zM96 59h0.8v0.8h-0.8zM99 59.5h0.8v0.8h-0.8zM85 62h0.8v0.8h-0.8zM76.5 59.5h0.8v0.8h-0.8zM95.5 59.5h0.8v0.8h-0.8zM110.5 61.5h0.8v0.8h-0.8zM77.5 49.5h0.8v0.8h-0.8zM99 52h0.8v0.8h-0.8zM90 59h0.8v0.8h-0.8zM72 48h0.8v0.8h-0.8zM93 56h0.8v0.8h-0.8zM87.5 56h0.8v0.8h-0.8zM80.5 50h0.8v0.8h-0.8zM88 52.5h0.8v0.8h-0.8zM72 58h0.8v0.8h-0.8zM89.5 57.5h0.8v0.8h-0.8zM79 53.5h0.8v0.8h-0.8zM79 52.5h0.8v0.8h-0.8zM92 53h0.8v0.8h-0.8zM94 57.5h0.8v0.8h-0.8zM112.5 50.5h0.8v0.8h-0.8zM100 55.5h0.8v0.8h-0.8zM90 50.5h0.8v0.8h-0.8zM85 59h0.8v0.8h-0.8zM89 56.5h0.8v0.8h-0.8zM87 60.5h0.8v0.8h-0.8zM90 47.5h0.8v0.8h-0.8zM82.5 48.5h0.8v0.8h-0.8zM54 54h0.8v0.8h-0.8zM104.5 56h0.8v0.8h-0.8zM77 52.5h0.8v0.8h-0.8zM102.5 56.5h0.8v0.8h-0.8zM90.5 56h0.8v0.8h-0.8zM90.5 59h0.8v0.8h-0.8zM96 57h0.8v0.8h-0.8zM78.5 58h0.8v0.8h-0.8zM82.5 60h0.8v0.8h-0.8zM76 55.5h0.8v0.8h-0.8zM90 51h0.8v0.8h-0.8zM109 61.5h0.8v0.8h-0.8zM85 59h0.8v0.8h-0.8zM94 46h0.8v0.8h-0.8zM93 56h0.8v0.8h-0.8zM91 52h0.8v0.8h-0.8zM87 55.5h0.8v0.8h-0.8zM103 57.5h0.8v0.8h-0.8zM90 62h0.8v0.8h-0.8zM84 54.5h0.8v0.8h-0.8zM70 62h0.8v0.8h-0.8zM100.5 59.5h0.8v0.8h-0.8zM97.5 56.5h0.8v0.8h-0.8zM92.5 55h0.8v0.8h-0.8zM88 56h0.8v0.8h-0.8zM106.5 58h0.8v0.8h-0.8zM89.5 54h0.8v0.8h-0.8zM83 62h0.8v0.8h-0.8zM95.5 56.5h0.8v0.8h-0.8zM86 52h0.8v0.8h-0.8zM89.5 59.5h0.8v0.8h-0.8zM85.5 55h0.8v0.8h-0.8zM87.5 56.5h0.8v0.8h-0.8zM72.5 55h0.8v0.8h-0.8zM80.5 59.5h0.8v0.8h-0.8zM81.5 58h0.8v0.8h-0.8zM107 55h0.8v0.8h-0.8zM83.5 56.5h0.8v0.8h-0.8zM90 52h0.8v0.8h-0.8zM95 63.5h0.8v0.8h-0.8zM87 55h0.8v0.8h-0.8zM78.5 57h0.8v0.8h-0.8zM76.5 52h0.8v0.8h-0.8zM104 52.5h0.8v0.8h-0.8zM102 62h0.8v0.8h-0.8zM93 58h0.8v0.8h-0.8zM111.5 55.5h0.8v0.8h-0.8zM83.5 51h0.8v0.8h-0.8zM90.5 61.5h0.8v0.8h-0.8zM100.5 52.5h0.8v0.8h-0.8zM80.5 54h0.8v0.8h-0.8zM93 55h0.8v0.8h-0.8zM92.5 57h0.8v0.8h-0.8zM86.5 56h0.8v0.8h-0.8zM92.5 55.5h0.8v0.8h-0.8zM95.5 63h0.8v0.8h-0.8zM96.5 56h0.8v0.8h-0.8zM71.5 57.5h0.8v0.8h-0.8zM68.5 50.5h0.8v0.8h-0.8zM99.5 58.5h0.8v0.8h-0.8zM88.5 49.5h0.8v0.8h-0.8zM86 53.5h0.8v0.8h-0.8zM97 64.5h0.8v0.8h-0.8zM92.5 53h0.8v0.8h-0.8zM77 56h0.8v0.8h-0.8zM88 51.5h0.8v0.8h-0.8zM91.5 51.5h0.8v0.8h-0.8zM102 60h0.8v0.8h-0.8zM102 54h0.8v0.8h-0.8zM95.5 55.5h0.8v0.8h-0.8zM85.5 54.5h0.8v0.8h-0.8zM75.5 50.5h0.8v0.8h-0.8zM98.5 55.5h0.8v0.8h-0.8zM92.5 60h0.8v0.8h-0.8zM71 53h0.8v0.8h-0.8zM92 57.5h0.8v0.8h-0.8zM86 60h0.8v0.8h-0.8zM92.5 51.5h0.8v0.8h-0.8zM80 59h0.8v0.8h-0.8zM95 49h0.8v0.8h-0.8zM105 58.5h0.8v0.8h-0.8zM105 54.5h0.8v0.8h-0.8zM86.5 51.5h0.8v0.8h-0.8zM118 55.5h0.8v0.8h-0.8zM107.5 53.5h0.8v0.8h-0.8zM92 49.5h0.8v0.8h-0.8zM86 59.5h0.8v0.8h-0.8zM76 60h0.8v0.8h-0.8zM93.5 52h0.8v0.8h-0.8zM84.5 54.5h0.8v0.8h-0.8zM89.5 54h0.8v0.8h-0.8zM81 55h0.8v0.8h-0.8zM78.5 51h0.8v0.8h-0.8zM89.5 59.5h0.8v0.8h-0.8zM73 56h0.8v0.8h-0.8zM83 52.5h0.8v0.8h-0.8zM99.5 54h0.8v0.8h-0.8zM106.5 53h0.8v0.8h-0.8zM94.5 55h0.8v0.8h-0.8zM81.5 58h0.8v0.8h-0.8zM88.5 58.5h0.8v0.8h-0.8zM89.5 52h0.8v0.8h-0.8zM89 56h0.8v0.8h-0.8zM100.5 52.5h0.8v0.8h-0.8zM89.5 49.5h0.8v0.8h-0.8zM97 52h0.8v0.8h-0.8zM70 56h0.8v0.8h-0.8zM102 50h0.8v0.8h-0.8zM78 53h0.8v0.8h-0.8zM77.5 57.5h0.8v0.8h-0.8zM81 53.5h0.8v0.8h-0.8zM96.5 53h0.8v0.8h-0.8zM95 52.5h0.8v0.8h-0.8zM76.5 49h0.8v0.8h-0.8zM110.5 55h0.8v0.8h-0.8zM92.5 56h0.8v0.8h-0.8zM92 56h0.8v0.8h-0.8zM111 52h0.8v0.8h-0.8zM73 52h0.8v0.8h-0.8zM75.5 59h0.8v0.8h-0.8zM99 52.5h0.8v0.8h-0.8zM74.5 54.5h0.8v0.8h-0.8zM96 52h0.8v0.8h-0.8zM101.5 52h0.8v0.8h-0.8zM87 50.5h0.8v0.8h-0.8zM79.5 61.5h0.8v0.8h-0.8zM99 54.5h0.8v0.8h-0.8zM80.5 49h0.8v0.8h-0.8zM85.5 56h0.8v0.8h-0.8zM89 55.5h0.8v0.8h-0.8zM77.5 55.5h0.8v0.8h-0.8zM89.5 61h0.8v0.8h-0.8zM110.5 55.5h0.8v0.8h-0.8zM81.5 56h0.8v0.8h-0.8zM83.5 53h0.8v0.8h-0.8zM89.5 52h0.8v0.8h-0.8zM96.5 55.5h0.8v0.8h-0.8zM93 55.5h0.8v0.8h-0.8zM82 52.5h0.8v0.8h-0.8zM87.5 54h0.8v0.8h-0.8zM92.5 56h0.8v0.8h-0.8zM75 56.5h0.8v0.8h-0.8zM75 53.5h0.8v0.8h-0.8zM87 48h0.8v0.8h-0.8zM91 56.5h0.8v0.8h-0.8zM88.5 54.5h0.8v0.8h-0.8zM86 52.5h0.8v0.8h-0.8zM87 54h0.8v0.8h-0.8zM91 51.5h0.8v0.8h-0.8zM92.5 56.5h0.8v0.8h-0.8zM88.5 54.5h0.8v0.8h-0.8zM96 49.5h0.8v0.8h-0.8zM95 57h0.8v0.8h-0.8zM93 57.5h0.8v0.8h-0.8zM83 55h0.8v0.8h-0.8zM97 57.5h0.8v0.8h-0.8zM92.5 50h0.8v0.8h-0.8zM96 60.5h0.8v0.8h-0.8zM101 57h0.8v0.8h-0.8zM73 59.5h0.8v0.8h-0.8zM88.5 46.5h0.8v0.8h-0.8zM94 50.5h0.8v0.8h-0.8zM75.5 53.5h0.8v0.8h-0.8zM104 54.5h0.8v0.8h-0.8zM93 62.5h0.8v0.8h-0.8zM107.5 55.5h0.8v0.8h-0.8zM87.5 51h0.8v0.8h-0.8zM82.5 57.5h0.8v0.8h-0.8zM94.5 56.5h0.8v0.8h-0.8zM101 53h0.8v0.8h-0.8zM89.5 59h0.8v0.8h-0.8zM96.5 60h0.8v0.8h-0.8zM94.5 55h0.8v0.8h-0.8zM94 52h0.8v0.8h-0.8zM72 58h0.8v0.8h-0.8zM89.5 57h0.8v0.8h-0.8zM71.5 54.5h0.8v0.8h-0.8zM83.5 52.5h0.8v0.8h-0.8zM65 54.5h0.8v0.8h-0.8zM100 57.5h0.8v0.8h-0.8zM83.5 56h0.8v0.8h-0.8zM88.5 58h0.8v0.8h-0.8zM97.5 62.5h0.8v0.8h-0.8zM102.5 57h0.8v0.8h-0.8zM93.5 59h0.8v0.8h-0.8zM84 56h0.8v0.8h-0.8zM100 63.5h0.8v0.8h-0.8zM88 56h0.8v0.8h-0.8zM92 61h0.8v0.8h-0.8zM89.5 61.5h0.8v0.8h-0.8zM79.5 55.5h0.8v0.8h-0.8zM88 59h0.8v0.8h-0.8zM101.5 50.5h0.8v0.8h-0.8zM80 57.5h0.8v0.8h-0.8zM83 50h0.8v0.8h-0.8zM101.5 58h0.8v0.8h-0.8zM95.5 54h0.8v0.8h-0.8zM101.5 55h0.8v0.8h-0.8zM102 52.5h0.8v0.8h-0.8zM80.5 57h0.8v0.8h-0.8zM82.5 58.5h0.8v0.8h-0.8zM93 52.5h0.8v0.8h-0.8zM91 54.5h0.8v0.8h-0.8zM100 53.5h0.8v0.8h-0.8zM85 60.5h0.8v0.8h-0.8zM114.5 63.5h0.8v0.8h-0.8zM90.5 57h0.8v0.8h-0.8zM107 55.5h0.8v0.8h-0.8zM79.5 56.5h0.8v0.8h-0.8zM95 53h0.8v0.8h-0.8zM72 50.5h0.8v0.8h-0.8zM97.5 53h0.8v0.8h-0.8zM88.5 57h0.8v0.8h-0.8zM97 54.5h0.8v0.8h-0.8zM95.5 52.5h0.8v0.8h-0.8zM86 52h0.8v0.8h-0.8zM102.5 56h0.8v0.8h-0.8zM82 54.5h0.8v0.8h-0.8zM87.5 58.5h0.8v0.8h-0.8zM72.5 52h0.8v0.8h-0.8zM86 65.5h0.8v0.8h-0.8zM100.5 55.5h0.8v0.8h-0.8zM98 64h0.8v0.8h-0.8zM87.5 54.5h0.8v0.8h-0.8zM103.5 58h0.8v0.8h-0.8zM97.5 54h0.8v0.8h-0.8zM111 62.5h0.8v0.8h-0.8zM96 58.5h0.8v0.8h-0.8zM67.5 58.5h0.8v0.8h-0.8zM88 57.5h0.8v0.8h-0.8zM97.5 54.5h0.8v0.8h-0.8zM71.5 57.5h0.8v0.8h-0.8zM82 54.5h0.8v0.8h-0.8zM83.5 54.5h0.8v0.8h-0.8zM64.5 60.5h0.8v0.8h-0.8zM93 60h0.8v0.8h-0.8zM112 56h0.8v0.8h-0.8zM70 52.5h0.8v0.8h-0.8zM76.5 54h0.8v0.8h-0.8zM91 48.5h0.8v0.8h-0.8zM94 50.5h0.8v0.8h-0.8zM93.5 55.5h0.8v0.8h-0.8zM86.5 55.5h0.8v0.8h-0.8zM84 53.5h0.8v0.8h-0.8zM71.5 56h0.8v0.8h-0.8zM110.5 63.5h0.8v0.8h-0.8zM104.5 58.5h0.8v0.8h-0.8zM82.5 61.5h0.8v0.8h-0.8zM89.5 55.5h0.8v0.8h-0.8zM87 56.5h0.8v0.8h-0.8zM85 55.5h0.8v0.8h-0.8zM78 54.5h0.8v0.8h-0.8zM115 55.5h0.8v0.8h-0.8zM87.5 58h0.8v0.8h-0.8zM98 52h0.8v0.8h-0.8zM87.5 59.5h0.8v0.8h-0.8zM93 56.5h0.8v0.8h-0.8zM107 53.5h0.8v0.8h-0.8zM91 54h0.8v0.8h-0.8zM106.5 48.5h0.8v0.8h-0.8zM82.5 54h0.8v0.8h-0.8zM97.5 58.5h0.8v0.8h-0.8zM105.5 50h0.8v0.8h-0.8zM98.5 55h0.8v0.8h-0.8zM82.5 58h0.8v0.8h-0.8zM80 48h0.8v0.8h-0.8zM86 50.5h0.8v0.8h-0.8zM83 57.5h0.8v0.8h-0.8zM93.5 62h0.8v0.8h-0.8zM88 50h0.8v0.8h-0.8zM81.5 52.5h0.8v0.8h-0.8zM76.5 57.5h0.8v0.8h-0.8zM83 48.5h0.8v0.8h-0.8zM97.5 55.5h0.8v0.8h-0.8zM94 56.5h0.8v0.8h-0.8zM97 56h0.8v0.8h-0.8zM103.5 57.5h0.8v0.8h-0.8zM94.5 57.5h0.8v0.8h-0.8zM74 55.5h0.8v0.8h-0.8zM87 57h0.8v0.8h-0.8zM75 62h0.8v0.8h-0.8zM91 51.5h0.8v0.8h-0.8zM71 55h0.8v0.8h-0.8zM89 53.5h0.8v0.8h-0.8zM91 53.5h0.8v0.8h-0.8zM96 53h0.8v0.8h-0.8zM89.5 59.5h0.8v0.8h-0.8zM118.5 52h0.8v0.8h-0.8zM85 53h0.8v0.8h-0.8zM98.5 51.5h0.8v0.8h-0.8zM84.5 56h0.8v0.8h-0.8zM79 52.5h0.8v0.8h-0.8zM85 48h0.8v0.8h-0.8zM74 54.5h0.8v0.8h-0.8zM91.5 55.5h0.8v0.8h-0.8zM70.5 54h0.8v0.8h-0.8zM99 58h0.8v0.8h-0.8zM89 52.5h0.8v0.8h-0.8zM97 54h0.8v0.8h-0.8zM77 53h0.8v0.8h-0.8zM106 57h0.8v0.8h-0.8zM103 54h0.8v0.8h-0.8zM100.5 53.5h0.8v0.8h-0.8zM88.5 65.5h0.8v0.8h-0.8zM98.5 54h0.8v0.8h-0.8zM89 57h0.8v0.8h-0.8zM103.5 54h0.8v0.8h-0.8zM71 55h0.8v0.8h-0.8zM90 56.5h0.8v0.8h-0.8zM104.5 57h0.8v0.8h-0.8zM99 52h0.8v0.8h-0.8zM99.5 64h0.8v0.8h-0.8zM98.5 57h0.8v0.8h-0.8zM91.5 63h0.8v0.8h-0.8zM80 55.5h0.8v0.8h-0.8zM95 59h0.8v0.8h-0.8zM85 57h0.8v0.8h-0.8zM87 56.5h0.8v0.8h-0.8zM88.5 51.5h0.8v0.8h-0.8zM90 59.5h0.8v0.8h-0.8zM79.5 55h0.8v0.8h-0.8zM97.5 52h0.8v0.8h-0.8zM92 52h0.8v0.8h-0.8zM102.5 65h0.8v0.8h-0.8zM112 55h0.8v0.8h-0.8zM98 56.5h0.8v0.8h-0.8zM91 62h0.8v0.8h-0.8zM75.5 60h0.8v0.8h-0.8zM89.5 61.5h0.8v0.8h-0.8zM92 53.5h0.8v0.8h-0.8zM93 59h0.8v0.8h-0.8zM90.5 58h0.8v0.8h-0.8zM84.5 48h0.8v0.8h-0.8zM100 58.5h0.8v0.8h-0.8zM91.5 56.5h0.8v0.8h-0.8zM101.5 54.5h0.8v0.8h-0.8zM82 55.5h0.8v0.8h-0.8zM103 50.5h0.8v0.8h-0.8zM103 53.5h0.8v0.8h-0.8zM78 61h0.8v0.8h-0.8zM89 51h0.8v0.8h-0.8zM86 59.5h0.8v0.8h-0.8zM103 54.5h0.8v0.8h-0.8zM94.5 58.5h0.8v0.8h-0.8zM83 57.5h0.8v0.8h-0.8zM89.5 54h0.8v0.8h-0.8zM84.5 56.5h0.8v0.8h-0.8zM90.5 54h0.8v0.8h-0.8zM85.5 60h0.8v0.8h-0.8zM92.5 59.5h0.8v0.8h-0.8zM103 58h0.8v0.8h-0.8zM115 53h0.8v0.8h-0.8zM99 55h0.8v0.8h-0.8zM110.5 62.5h0.8v0.8h-0.8zM68.5 52.5h0.8v0.8h-0.8zM97.5 59h0.8v0.8h-0.8zM98 55.5h0.8v0.8h-0.8zM95 58.5h0.8v0.8h-0.8zM89 60h0.8v0.8h-0.8zM65 58.5h0.8v0.8h-0.8zM78.5 59.5h0.8v0.8h-0.8zM87.5 52.5h0.8v0.8h-0.8zM94 52.5h0.8v0.8h-0.8zM80 50h0.8v0.8h-0.8zM89.5 58h0.8v0.8h-0.8zM101.5 55.5h0.8v0.8h-0.8zM101.5 56h0.8v0.8h-0.8zM89 58h0.8v0.8h-0.8zM101.5 54.5h0.8v0.8h-0.8zM87.5 55.5h0.8v0.8h-0.8zM91 52.5h0.8v0.8h-0.8zM101.5 54.5h0.8v0.8h-0.8zM95 53h0.8v0.8h-0.8zM94 57.5h0.8v0.8h-0.8zM85.5 63.5h0.8v0.8h-0.8zM94 63h0.8v0.8h-0.8zM100.5 53.5h0.8v0.8h-0.8zM86 57.5h0.8v0.8h-0.8zM90.5 56h0.8v0.8h-0.8zM87 49h0.8v0.8h-0.8zM87.5 47.5h0.8v0.8h-0.8zM94 53h0.8v0.8h-0.8zM82 55h0.8v0.8h-0.8zM93 50.5h0.8v0.8h-0.8zM71 52h0.8v0.8h-0.8zM67.5 52.5h0.8v0.8h-0.8zM107.5 52h0.8v0.8h-0.8zM97 51h0.8v0.8h-0.8zM93.5 55h0.8v0.8h-0.8zM89.5 58h0.8v0.8h-0.8zM109.5 56.5h0.8v0.8h-0.8zM91.5 52.5h0.8v0.8h-0.8zM96.5 55h0.8v0.8h-0.8zM99 56h0.8v0.8h-0.8zM109 48.5h0.8v0.8h-0.8zM86.5 59.5h0.8v0.8h-0.8zM86 53h0.8v0.8h-0.8zM87 51h0.8v0.8h-0.8zM91.5 65.5h0.8v0.8h-0.8zM102.5 52h0.8v0.8h-0.8zM80.5 54.5h0.8v0.8h-0.8zM101 53h0.8v0.8h-0.8zM82.5 59.5h0.8v0.8h-0.8zM99.5 54.5h0.8v0.8h-0.8zM77.5 50h0.8v0.8h-0.8zM82.5 47.5h0.8v0.8h-0.8zM98 53.5h0.8v0.8h-0.8zM95.5 63h0.8v0.8h-0.8zM103 51.5h0.8v0.8h-0.8zM99.5 60.5h0.8v0.8h-0.8zM82 52.5h0.8v0.8h-0.8zM89 50h0.8v0.8h-0.8zM106 47h0.8v0.8h-0.8zM78 55h0.8v0.8h-0.8zM87.5 56.5h0.8v0.8h-0.8zM93 55h0.8v0.8h-0.8zM102.5 48h0.8v0.8h-0.8zM90 53.5h0.8v0.8h-0.8zM91.5 57h0.8v0.8h-0.8zM80 53.5h0.8v0.8h-0.8zM98.5 57.5h0.8v0.8h-0.8zM82.5 64h0.8v0.8h-0.8zM115.5 50.5h0.8v0.8h-0.8zM93.5 65.5h0.8v0.8h-0.8zM98.5 57h0.8v0.8h-0.8zM87.5 54h0.8v0.8h-0.8zM87.5 54h0.8v0.8h-0.8zM98 54.5h0.8v0.8h-0.8zM85 51.5h0.8v0.8h-0.8zM89.5 52.5h0.8v0.8h-0.8zM88 60h0.8v0.8h-0.8zM94 58h0.8v0.8h-0.8zM94 56h0.8v0.8h-0.8zM82.5 87.5h0.8v0.8h-0.8zM77.5 84h0.8v0.8h-0.8zM80 56h0.8v0.8h-0.8zM82.5 90.5h0.8v0.8h-0.8zM79.5 68h0.8v0.8h-0.8zM85 87h0.8v0.8h-0.8zM84 101h0.8v0.8h-0.8zM79 93.5h0.8v0.8h-0.8zM80 83h0.8v0.8h-0.8zM80.5 84h0.8v0.8h-0.8zM84 85.5h0.8v0.8h-0.8zM80.5 80.5h0.8v0.8h-0.8zM82 73.5h0.8v0.8h-0.8zM79.5 83.5h0.8v0.8h-0.8zM79 82.5h0.8v0.8h-0.8zM79 108h0.8v0.8h-0.8zM85 89.5h0.8v0.8h-0.8zM80.5 110.5h0.8v0.8h-0.8zM82 83h0.8v0.8h-0.8zM81.5 87.5h0.8v0.8h-0.8zM85 84h0.8v0.8h-0.8zM87 73.5h0.8v0.8h-0.8zM83 72h0.8v0.8h-0.8zM86.5 80h0.8v0.8h-0.8zM80.5 95h0.8v0.8h-0.8zM84.5 70.5h0.8v0.8h-0.8zM80 67.5h0.8v0.8h-0.8zM81 83h0.8v0.8h-0.8zM80 76h0.8v0.8h-0.8zM79.5 75h0.8v0.8h-0.8zM82.5 102h0.8v0.8h-0.8zM75 82.5h0.8v0.8h-0.8zM79.5 90h0.8v0.8h-0.8zM78 82h0.8v0.8h-0.8zM77.5 92.5h0.8v0.8h-0.8zM81 82h0.8v0.8h-0.8zM82 81h0.8v0.8h-0.8zM76 91h0.8v0.8h-0.8zM81.5 82h0.8v0.8h-0.8zM84 98.5h0.8v0.8h-0.8zM77.5 74.5h0.8v0.8h-0.8zM85.5 101h0.8v0.8h-0.8zM78.5 70h0.8v0.8h-0.8zM79 78h0.8v0.8h-0.8zM76 84.5h0.8v0.8h-0.8zM77 69.5h0.8v0.8h-0.8zM83.5 76h0.8v0.8h-0.8zM80.5 91.5h0.8v0.8h-0.8zM83 80h0.8v0.8h-0.8zM81 74h0.8v0.8h-0.8zM86 92h0.8v0.8h-0.8zM77.5 84h0.8v0.8h-0.8zM83 90h0.8v0.8h-0.8zM86.5 100.5h0.8v0.8h-0.8zM79 83h0.8v0.8h-0.8zM77 87h0.8v0.8h-0.8zM81.5 116.5h0.8v0.8h-0.8zM81 59h0.8v0.8h-0.8zM79 85.5h0.8v0.8h-0.8zM77 73.5h0.8v0.8h-0.8zM79.5 88h0.8v0.8h-0.8zM80.5 73.5h0.8v0.8h-0.8zM83 77.5h0.8v0.8h-0.8zM79.5 67.5h0.8v0.8h-0.8zM78.5 92h0.8v0.8h-0.8zM76 83h0.8v0.8h-0.8zM83 79.5h0.8v0.8h-0.8zM81.5 70.5h0.8v0.8h-0.8zM84.5 97h0.8v0.8h-0.8zM81.5 63h0.8v0.8h-0.8zM77.5 95.5h0.8v0.8h-0.8zM86 87.5h0.8v0.8h-0.8zM84.5 76.5h0.8v0.8h-0.8zM80 84h0.8v0.8h-0.8zM82 65.5h0.8v0.8h-0.8zM83.5 100h0.8v0.8h-0.8zM77.5 67.5h0.8v0.8h-0.8zM82 76h0.8v0.8h-0.8zM73.5 93.5h0.8v0.8h-0.8zM81.5 78.5h0.8v0.8h-0.8zM87 85.5h0.8v0.8h-0.8zM78.5 85h0.8v0.8h-0.8zM77.5 75h0.8v0.8h-0.8zM82 77.5h0.8v0.8h-0.8zM79.5 104h0.8v0.8h-0.8zM83.5 93.5h0.8v0.8h-0.8zM82.5 90h0.8v0.8h-0.8zM85 84h0.8v0.8h-0.8zM86.5 72.5h0.8v0.8h-0.8zM80 67.5h0.8v0.8h-0.8zM80 90h0.8v0.8h-0.8zM85 76h0.8v0.8h-0.8zM81 79.5h0.8v0.8h-0.8zM78.5 69.5h0.8v0.8h-0.8zM81 63h0.8v0.8h-0.8zM81 84.5h0.8v0.8h-0.8zM79 72h0.8v0.8h-0.8zM76.5 106.5h0.8v0.8h-0.8zM77 102.5h0.8v0.8h-0.8zM82.5 79.5h0.8v0.8h-0.8zM77.5 96.5h0.8v0.8h-0.8zM86 73h0.8v0.8h-0.8zM80 96.5h0.8v0.8h-0.8zM82 108h0.8v0.8h-0.8zM79 90.5h0.8v0.8h-0.8zM77 109h0.8v0.8h-0.8zM78.5 57.5h0.8v0.8h-0.8zM80.5 82.5h0.8v0.8h-0.8zM86.5 80h0.8v0.8h-0.8zM81 91h0.8v0.8h-0.8zM85.5 83h0.8v0.8h-0.8zM84 90h0.8v0.8h-0.8zM80 85h0.8v0.8h-0.8zM81 73h0.8v0.8h-0.8zM84.5 67.5h0.8v0.8h-0.8zM84.5 95.5h0.8v0.8h-0.8zM80.5 75h0.8v0.8h-0.8zM80 89.5h0.8v0.8h-0.8zM83 87.5h0.8v0.8h-0.8zM84 77.5h0.8v0.8h-0.8zM81.5 65h0.8v0.8h-0.8zM83 86h0.8v0.8h-0.8zM79.5 98h0.8v0.8h-0.8zM83 50h0.8v0.8h-0.8zM81 66.5h0.8v0.8h-0.8zM84 114h0.8v0.8h-0.8zM79 85h0.8v0.8h-0.8zM80 88h0.8v0.8h-0.8zM82.5 99.5h0.8v0.8h-0.8zM78 103h0.8v0.8h-0.8zM100.5 109.5h0.8v0.8h-0.8zM96.5 110h0.8v0.8h-0.8zM96.5 110h0.8v0.8h-0.8zM91 106h0.8v0.8h-0.8zM91.5 106h0.8v0.8h-0.8zM95.5 110h0.8v0.8h-0.8zM86.5 111h0.8v0.8h-0.8zM99.5 110h0.8v0.8h-0.8zM103.5 113.5h0.8v0.8h-0.8zM89 112h0.8v0.8h-0.8zM97 110.5h0.8v0.8h-0.8zM99.5 108.5h0.8v0.8h-0.8zM92 108h0.8v0.8h-0.8zM91 109.5h0.8v0.8h-0.8zM87.5 108h0.8v0.8h-0.8zM98 109.5h0.8v0.8h-0.8zM97 106h0.8v0.8h-0.8zM91 108.5h0.8v0.8h-0.8zM95 108.5h0.8v0.8h-0.8zM99.5 109.5h0.8v0.8h-0.8zM95 110h0.8v0.8h-0.8zM98.5 109h0.8v0.8h-0.8zM100.5 110.5h0.8v0.8h-0.8zM96 110h0.8v0.8h-0.8zM97.5 111.5h0.8v0.8h-0.8zM99.5 110.5h0.8v0.8h-0.8zM99.5 110h0.8v0.8h-0.8zM101.5 109.5h0.8v0.8h-0.8zM84.5 112.5h0.8v0.8h-0.8zM95.5 107.5h0.8v0.8h-0.8zM94 108h0.8v0.8h-0.8zM105.5 110.5h0.8v0.8h-0.8zM87 111h0.8v0.8h-0.8zM93 113.5h0.8v0.8h-0.8zM89.5 105.5h0.8v0.8h-0.8zM95.5 109h0.8v0.8h-0.8zM93 105.5h0.8v0.8h-0.8zM97 113h0.8v0.8h-0.8zM85.5 112h0.8v0.8h-0.8zM92 114.5h0.8v0.8h-0.8zM97 109.5h0.8v0.8h-0.8zM100.5 111h0.8v0.8h-0.8zM92 111h0.8v0.8h-0.8zM92.5 106.5h0.8v0.8h-0.8zM105 109h0.8v0.8h-0.8zM92 110.5h0.8v0.8h-0.8zM87 107h0.8v0.8h-0.8zM92.5 109h0.8v0.8h-0.8zM95.5 112h0.8v0.8h-0.8zM92.5 110.5h0.8v0.8h-0.8zM98 107.5h0.8v0.8h-0.8zM96 108h0.8v0.8h-0.8zM100.5 110.5h0.8v0.8h-0.8zM95 107.5h0.8v0.8h-0.8zM95.5 108.5h0.8v0.8h-0.8zM98.5 109.5h0.8v0.8h-0.8zM91 111.5h0.8v0.8h-0.8zM98.5 108.5h0.8v0.8h-0.8zM101 109h0.8v0.8h-0.8zM93.5 110h0.8v0.8h-0.8zM91 109h0.8v0.8h-0.8zM94 112.5h0.8v0.8h-0.8zM102.5 109.5h0.8v0.8h-0.8zM103 109.5h0.8v0.8h-0.8zM97 111.5h0.8v0.8h-0.8zM96.5 114.5h0.8v0.8h-0.8zM96 107.5h0.8v0.8h-0.8zM101.5 109h0.8v0.8h-0.8zM93.5 104h0.8v0.8h-0.8zM100 111.5h0.8v0.8h-0.8zM99 111.5h0.8v0.8h-0.8zM103.5 109.5h0.8v0.8h-0.8zM99.5 108.5h0.8v0.8h-0.8zM93 112h0.8v0.8h-0.8zM97 107.5h0.8v0.8h-0.8zM97 109.5h0.8v0.8h-0.8zM91 110.5h0.8v0.8h-0.8zM93 107h0.8v0.8h-0.8zM89.5 113h0.8v0.8h-0.8zM87.5 110h0.8v0.8h-0.8zM98 111h0.8v0.8h-0.8zM89 109h0.8v0.8h-0.8zM95.5 111.5h0.8v0.8h-0.8zM92 107.5h0.8v0.8h-0.8zM100 112h0.8v0.8h-0.8zM97 108.5h0.8v0.8h-0.8zM97 110h0.8v0.8h-0.8zM99 107.5h0.8v0.8h-0.8zM95.5 109.5h0.8v0.8h-0.8zM89.5 110h0.8v0.8h-0.8zM95 109h0.8v0.8h-0.8zM97 107h0.8v0.8h-0.8zM94.5 110.5h0.8v0.8h-0.8zM96.5 112h0.8v0.8h-0.8zM89 107h0.8v0.8h-0.8zM96 110.5h0.8v0.8h-0.8zM105.5 111h0.8v0.8h-0.8zM90.5 111.5h0.8v0.8h-0.8zM91 107h0.8v0.8h-0.8zM108 110.5h0.8v0.8h-0.8zM98.5 111h0.8v0.8h-0.8zM104 110.5h0.8v0.8h-0.8zM101 108h0.8v0.8h-0.8zM88 112.5h0.8v0.8h-0.8zM102.5 111h0.8v0.8h-0.8zM96 110h0.8v0.8h-0.8zM91.5 112.5h0.8v0.8h-0.8zM98.5 111h0.8v0.8h-0.8zM97 112h0.8v0.8h-0.8zM97.5 111h0.8v0.8h-0.8zM89 111h0.8v0.8h-0.8zM106 109h0.8v0.8h-0.8zM94.5 111.5h0.8v0.8h-0.8zM100 111h0.8v0.8h-0.8zM87 111h0.8v0.8h-0.8zM89 108h0.8v0.8h-0.8zM97.5 109h0.8v0.8h-0.8zM99 116h0.8v0.8h-0.8zM99 111h0.8v0.8h-0.8zM90.5 108.5h0.8v0.8h-0.8zM89.5 109h0.8v0.8h-0.8zM89.5 108.5h0.8v0.8h-0.8zM94 108h0.8v0.8h-0.8zM88 107h0.8v0.8h-0.8zM97.5 110h0.8v0.8h-0.8zM100 112h0.8v0.8h-0.8zM93.5 111h0.8v0.8h-0.8zM88 114h0.8v0.8h-0.8zM101 109.5h0.8v0.8h-0.8zM89 110.5h0.8v0.8h-0.8zM85.5 108.5h0.8v0.8h-0.8zM98.5 110h0.8v0.8h-0.8zM92.5 111.5h0.8v0.8h-0.8zM90 110.5h0.8v0.8h-0.8zM92.5 108h0.8v0.8h-0.8zM97.5 108h0.8v0.8h-0.8zM104.5 108.5h0.8v0.8h-0.8zM105 107.5h0.8v0.8h-0.8zM98 107.5h0.8v0.8h-0.8zM88.5 110h0.8v0.8h-0.8zM98.5 107.5h0.8v0.8h-0.8zM101 108.5h0.8v0.8h-0.8zM95.5 110.5h0.8v0.8h-0.8zM98 106.5h0.8v0.8h-0.8zM103 111h0.8v0.8h-0.8zM93 108h0.8v0.8h-0.8zM86.5 107h0.8v0.8h-0.8zM97.5 109h0.8v0.8h-0.8zM89.5 109h0.8v0.8h-0.8zM103 109h0.8v0.8h-0.8zM92 112.5h0.8v0.8h-0.8zM97.5 110h0.8v0.8h-0.8zM92 107h0.8v0.8h-0.8zM89 109h0.8v0.8h-0.8zM94 110.5h0.8v0.8h-0.8zM98 110h0.8v0.8h-0.8zM96 108h0.8v0.8h-0.8zM84 109h0.8v0.8h-0.8zM90 108.5h0.8v0.8h-0.8zM93.5 107.5h0.8v0.8h-0.8zM89.5 109.5h0.8v0.8h-0.8zM95.5 108.5h0.8v0.8h-0.8zM97.5 109.5h0.8v0.8h-0.8zM90 110h0.8v0.8h-0.8zM104.5 108.5h0.8v0.8h-0.8zM101 112.5h0.8v0.8h-0.8zM102.5 108h0.8v0.8h-0.8zM105 110h0.8v0.8h-0.8zM93.5 109.5h0.8v0.8h-0.8zM98 110h0.8v0.8h-0.8zM94 112h0.8v0.8h-0.8zM91.5 108h0.8v0.8h-0.8zM99 111h0.8v0.8h-0.8zM100.5 108h0.8v0.8h-0.8zM100.5 110.5h0.8v0.8h-0.8zM104 107.5h0.8v0.8h-0.8zM96 109.5h0.8v0.8h-0.8zM87 108.5h0.8v0.8h-0.8zM100.5 109h0.8v0.8h-0.8zM91.5 111.5h0.8v0.8h-0.8zM100 111.5h0.8v0.8h-0.8zM91 109.5h0.8v0.8h-0.8zM100 108.5h0.8v0.8h-0.8zM91.5 111.5h0.8v0.8h-0.8zM103 107.5h0.8v0.8h-0.8zM82 107h0.8v0.8h-0.8zM90 109.5h0.8v0.8h-0.8zM98 109.5h0.8v0.8h-0.8zM91.5 110h0.8v0.8h-0.8zM90 109.5h0.8v0.8h-0.8zM92 115h0.8v0.8h-0.8zM99 108h0.8v0.8h-0.8zM90 109h0.8v0.8h-0.8zM87 108.5h0.8v0.8h-0.8zM91.5 111.5h0.8v0.8h-0.8zM93 108.5h0.8v0.8h-0.8zM88.5 107.5h0.8v0.8h-0.8zM94.5 109.5h0.8v0.8h-0.8zM100.5 108.5h0.8v0.8h-0.8zM100.5 110.5h0.8v0.8h-0.8zM106 91.5h0.8v0.8h-0.8zM109 92.5h0.8v0.8h-0.8zM105.5 69h0.8v0.8h-0.8zM107 91.5h0.8v0.8h-0.8zM107 85.5h0.8v0.8h-0.8zM106 97h0.8v0.8h-0.8zM107.5 91h0.8v0.8h-0.8zM105.5 84h0.8v0.8h-0.8zM108 80h0.8v0.8h-0.8zM105 86.5h0.8v0.8h-0.8zM110 92h0.8v0.8h-0.8zM110.5 88.5h0.8v0.8h-0.8zM107 76h0.8v0.8h-0.8zM106.5 104.5h0.8v0.8h-0.8zM108 97.5h0.8v0.8h-0.8zM109 90h0.8v0.8h-0.8zM107 91h0.8v0.8h-0.8zM109 94.5h0.8v0.8h-0.8zM108.5 91.5h0.8v0.8h-0.8zM106 87.5h0.8v0.8h-0.8zM105.5 100h0.8v0.8h-0.8zM103.5 88h0.8v0.8h-0.8zM112.5 86.5h0.8v0.8h-0.8zM105 90h0.8v0.8h-0.8zM110 88.5h0.8v0.8h-0.8zM108.5 91h0.8v0.8h-0.8zM107 121.5h0.8v0.8h-0.8zM107.5 84.5h0.8v0.8h-0.8zM106.5 94h0.8v0.8h-0.8zM108.5 97.5h0.8v0.8h-0.8zM108 75.5h0.8v0.8h-0.8zM108.5 87h0.8v0.8h-0.8zM107 75h0.8v0.8h-0.8zM106.5 82.5h0.8v0.8h-0.8zM107.5 75.5h0.8v0.8h-0.8zM107.5 91h0.8v0.8h-0.8zM105.5 84h0.8v0.8h-0.8zM106 99h0.8v0.8h-0.8zM102.5 86.5h0.8v0.8h-0.8zM104 85.5h0.8v0.8h-0.8zM109 83.5h0.8v0.8h-0.8zM108 81.5h0.8v0.8h-0.8zM111.5 99h0.8v0.8h-0.8zM110 76.5h0.8v0.8h-0.8zM105.5 101h0.8v0.8h-0.8zM107 87.5h0.8v0.8h-0.8zM108 77.5h0.8v0.8h-0.8zM109 90h0.8v0.8h-0.8zM108.5 83.5h0.8v0.8h-0.8zM108.5 83h0.8v0.8h-0.8zM109.5 101.5h0.8v0.8h-0.8zM109.5 95h0.8v0.8h-0.8zM109 63h0.8v0.8h-0.8zM109 87.5h0.8v0.8h-0.8zM107.5 87h0.8v0.8h-0.8zM104.5 84.5h0.8v0.8h-0.8zM109 104h0.8v0.8h-0.8zM106.5 81h0.8v0.8h-0.8zM110.5 81h0.8v0.8h-0.8zM111.5 90.5h0.8v0.8h-0.8zM105.5 100h0.8v0.8h-0.8zM111 75.5h0.8v0.8h-0.8zM110.5 87h0.8v0.8h-0.8zM110.5 86h0.8v0.8h-0.8zM104.5 95h0.8v0.8h-0.8zM109.5 111h0.8v0.8h-0.8zM111 97h0.8v0.8h-0.8zM107 85h0.8v0.8h-0.8zM107 81.5h0.8v0.8h-0.8zM107 64.5h0.8v0.8h-0.8zM108 89.5h0.8v0.8h-0.8zM112.5 97.5h0.8v0.8h-0.8zM106.5 95.5h0.8v0.8h-0.8zM105 84h0.8v0.8h-0.8zM104 104.5h0.8v0.8h-0.8zM108.5 78h0.8v0.8h-0.8zM107.5 99.5h0.8v0.8h-0.8zM108.5 94h0.8v0.8h-0.8zM106 83.5h0.8v0.8h-0.8zM107.5 99h0.8v0.8h-0.8zM106 79h0.8v0.8h-0.8zM110 80.5h0.8v0.8h-0.8zM109.5 92.5h0.8v0.8h-0.8zM109.5 107.5h0.8v0.8h-0.8zM109 98h0.8v0.8h-0.8zM105.5 83h0.8v0.8h-0.8zM109 105.5h0.8v0.8h-0.8zM110.5 113h0.8v0.8h-0.8zM108 92h0.8v0.8h-0.8zM109.5 90h0.8v0.8h-0.8zM105.5 56.5h0.8v0.8h-0.8zM98.5 48h0.8v0.8h-0.8zM105 58.5h0.8v0.8h-0.8zM95 47.5h0.8v0.8h-0.8zM101 56h0.8v0.8h-0.8zM97.5 53h0.8v0.8h-0.8zM99.5 61.5h0.8v0.8h-0.8zM102 49h0.8v0.8h-0.8zM99 55h0.8v0.8h-0.8zM102.5 44.5h0.8v0.8h-0.8zM101 43h0.8v0.8h-0.8zM97.5 43.5h0.8v0.8h-0.8zM95.5 46.5h0.8v0.8h-0.8zM97 52.5h0.8v0.8h-0.8zM103 48.5h0.8v0.8h-0.8zM96.5 54h0.8v0.8h-0.8zM93 40h0.8v0.8h-0.8zM103 53h0.8v0.8h-0.8zM104 48.5h0.8v0.8h-0.8zM96 47h0.8v0.8h-0.8zM102.5 46h0.8v0.8h-0.8zM98 43h0.8v0.8h-0.8zM96.5 54h0.8v0.8h-0.8zM102 44h0.8v0.8h-0.8zM96.5 47h0.8v0.8h-0.8zM102.5 44h0.8v0.8h-0.8zM100 39h0.8v0.8h-0.8zM96 52h0.8v0.8h-0.8zM103.5 44h0.8v0.8h-0.8zM97.5 54h0.8v0.8h-0.8zM99 47h0.8v0.8h-0.8zM102 51h0.8v0.8h-0.8zM104.5 54h0.8v0.8h-0.8zM98.5 49h0.8v0.8h-0.8zM100 43h0.8v0.8h-0.8zM97 54.5h0.8v0.8h-0.8zM95 55h0.8v0.8h-0.8zM101.5 49h0.8v0.8h-0.8zM102 52h0.8v0.8h-0.8zM104.5 48h0.8v0.8h-0.8zM99.5 48.5h0.8v0.8h-0.8zM107 54.5h0.8v0.8h-0.8zM97 48h0.8v0.8h-0.8zM98 50h0.8v0.8h-0.8zM101 61.5h0.8v0.8h-0.8zM94 55h0.8v0.8h-0.8zM102 46.5h0.8v0.8h-0.8zM100 47.5h0.8v0.8h-0.8zM100.5 55h0.8v0.8h-0.8zM95 56.5h0.8v0.8h-0.8zM99 57.5h0.8v0.8h-0.8zM102 56h0.8v0.8h-0.8zM102.5 55.5h0.8v0.8h-0.8zM100.5 45.5h0.8v0.8h-0.8zM102.5 53.5h0.8v0.8h-0.8zM107.5 40h0.8v0.8h-0.8zM99.5 55h0.8v0.8h-0.8zM96 48.5h0.8v0.8h-0.8zM108 57h0.8v0.8h-0.8zM97.5 57h0.8v0.8h-0.8zM104.5 53.5h0.8v0.8h-0.8zM101.5 51h0.8v0.8h-0.8zM97.5 47.5h0.8v0.8h-0.8zM103 50.5h0.8v0.8h-0.8zM107 48h0.8v0.8h-0.8zM92 48h0.8v0.8h-0.8zM101.5 52h0.8v0.8h-0.8zM100.5 45.5h0.8v0.8h-0.8zM105.5 46.5h0.8v0.8h-0.8zM103 48.5h0.8v0.8h-0.8zM96 57h0.8v0.8h-0.8zM91.5 45.5h0.8v0.8h-0.8zM102 48h0.8v0.8h-0.8zM103 49.5h0.8v0.8h-0.8zM99 60.5h0.8v0.8h-0.8zM99.5 49h0.8v0.8h-0.8zM96.5 46h0.8v0.8h-0.8zM102.5 52.5h0.8v0.8h-0.8zM100.5 46.5h0.8v0.8h-0.8zM103 41.5h0.8v0.8h-0.8zM99 48.5h0.8v0.8h-0.8zM97.5 50.5h0.8v0.8h-0.8zM98 46h0.8v0.8h-0.8zM106.5 53.5h0.8v0.8h-0.8zM104.5 50h0.8v0.8h-0.8zM104 54h0.8v0.8h-0.8zM104.5 62h0.8v0.8h-0.8zM99.5 51h0.8v0.8h-0.8zM95.5 50h0.8v0.8h-0.8zM102.5 47h0.8v0.8h-0.8zM104.5 56.5h0.8v0.8h-0.8zM99 57h0.8v0.8h-0.8zM106.5 52.5h0.8v0.8h-0.8zM97 57.5h0.8v0.8h-0.8zM100 48h0.8v0.8h-0.8zM101 47.5h0.8v0.8h-0.8zM104 54h0.8v0.8h-0.8zM105 53h0.8v0.8h-0.8zM97.5 49h0.8v0.8h-0.8zM103.5 48h0.8v0.8h-0.8zM110.5 49h0.8v0.8h-0.8zM98.5 55.5h0.8v0.8h-0.8zM103 50h0.8v0.8h-0.8zM99.5 52h0.8v0.8h-0.8zM103.5 54h0.8v0.8h-0.8zM99.5 52h0.8v0.8h-0.8zM103.5 54h0.8v0.8h-0.8zM89.5 45.5h0.8v0.8h-0.8zM98 49h0.8v0.8h-0.8zM101 54.5h0.8v0.8h-0.8zM102.5 49.5h0.8v0.8h-0.8zM100.5 59h0.8v0.8h-0.8zM98.5 51.5h0.8v0.8h-0.8zM106 51.5h0.8v0.8h-0.8zM93.5 52h0.8v0.8h-0.8zM99 49.5h0.8v0.8h-0.8zM104 52.5h0.8v0.8h-0.8zM99.5 54.5h0.8v0.8h-0.8zM102 50.5h0.8v0.8h-0.8zM101.5 51.5h0.8v0.8h-0.8zM99.5 47.5h0.8v0.8h-0.8zM100.5 45h0.8v0.8h-0.8zM96 56.5h0.8v0.8h-0.8zM99.5 50h0.8v0.8h-0.8zM100 50h0.8v0.8h-0.8zM100.5 50.5h0.8v0.8h-0.8zM97.5 54.5h0.8v0.8h-0.8zM98 55h0.8v0.8h-0.8zM94 44.5h0.8v0.8h-0.8zM104 49.5h0.8v0.8h-0.8zM98 52h0.8v0.8h-0.8zM97 50.5h0.8v0.8h-0.8zM92.5 47.5h0.8v0.8h-0.8zM98 52.5h0.8v0.8h-0.8zM103.5 45.5h0.8v0.8h-0.8zM106 47h0.8v0.8h-0.8zM93.5 38h0.8v0.8h-0.8zM106 49.5h0.8v0.8h-0.8zM98 46.5h0.8v0.8h-0.8zM96.5 57h0.8v0.8h-0.8zM100 59h0.8v0.8h-0.8zM100 38h0.8v0.8h-0.8zM103.5 48h0.8v0.8h-0.8zM99.5 58h0.8v0.8h-0.8zM99.5 56h0.8v0.8h-0.8zM100.5 46h0.8v0.8h-0.8zM102.5 47h0.8v0.8h-0.8zM105 55h0.8v0.8h-0.8zM100.5 53h0.8v0.8h-0.8zM102.5 48.5h0.8v0.8h-0.8zM103.5 49h0.8v0.8h-0.8zM102.5 45h0.8v0.8h-0.8zM101 52h0.8v0.8h-0.8zM97.5 48h0.8v0.8h-0.8zM98.5 53.5h0.8v0.8h-0.8zM98 52h0.8v0.8h-0.8zM106 52h0.8v0.8h-0.8zM95 50.5h0.8v0.8h-0.8zM104 48.5h0.8v0.8h-0.8zM83.5 93.5h0.8v0.8h-0.8zM83 83h0.8v0.8h-0.8zM81.5 83h0.8v0.8h-0.8zM82.5 92.5h0.8v0.8h-0.8zM83 82.5h0.8v0.8h-0.8zM82.5 91h0.8v0.8h-0.8zM80.5 77h0.8v0.8h-0.8zM81.5 83.5h0.8v0.8h-0.8zM82 83h0.8v0.8h-0.8zM81.5 94h0.8v0.8h-0.8zM82.5 66.5h0.8v0.8h-0.8zM82.5 72.5h0.8v0.8h-0.8zM84 80.5h0.8v0.8h-0.8zM82 87h0.8v0.8h-0.8zM82 85.5h0.8v0.8h-0.8zM84 89h0.8v0.8h-0.8zM83 99.5h0.8v0.8h-0.8zM81 106.5h0.8v0.8h-0.8zM83 97.5h0.8v0.8h-0.8zM81.5 96h0.8v0.8h-0.8zM83 80h0.8v0.8h-0.8zM85 93h0.8v0.8h-0.8zM82 88.5h0.8v0.8h-0.8zM83.5 100h0.8v0.8h-0.8zM83 101h0.8v0.8h-0.8zM84 71.5h0.8v0.8h-0.8zM82 75h0.8v0.8h-0.8zM82.5 103.5h0.8v0.8h-0.8zM83 73.5h0.8v0.8h-0.8zM82 98.5h0.8v0.8h-0.8zM81.5 85h0.8v0.8h-0.8zM82.5 64.5h0.8v0.8h-0.8zM83 90.5h0.8v0.8h-0.8zM83 74.5h0.8v0.8h-0.8zM81.5 79h0.8v0.8h-0.8zM82.5 87h0.8v0.8h-0.8zM82.5 107.5h0.8v0.8h-0.8zM84 77.5h0.8v0.8h-0.8zM81.5 107h0.8v0.8h-0.8zM82 103h0.8v0.8h-0.8zM84 79.5h0.8v0.8h-0.8zM82 87h0.8v0.8h-0.8zM81.5 74.5h0.8v0.8h-0.8zM82 96.5h0.8v0.8h-0.8zM82 84h0.8v0.8h-0.8zM82 70h0.8v0.8h-0.8zM84 58h0.8v0.8h-0.8zM81.5 93h0.8v0.8h-0.8zM81 93.5h0.8v0.8h-0.8zM83.5 76h0.8v0.8h-0.8zM82.5 73h0.8v0.8h-0.8zM83 87.5h0.8v0.8h-0.8zM82.5 102.5h0.8v0.8h-0.8zM83 102.5h0.8v0.8h-0.8zM83 72h0.8v0.8h-0.8zM82.5 92h0.8v0.8h-0.8zM80.5 102h0.8v0.8h-0.8zM82.5 90.5h0.8v0.8h-0.8zM81.5 87h0.8v0.8h-0.8zM82.5 82.5h0.8v0.8h-0.8zM82.5 61h0.8v0.8h-0.8zM84 73h0.8v0.8h-0.8zM80 74.5h0.8v0.8h-0.8zM81.5 93h0.8v0.8h-0.8zM81.5 89.5h0.8v0.8h-0.8zM81.5 112.5h0.8v0.8h-0.8zM83 109.5h0.8v0.8h-0.8zM81 94h0.8v0.8h-0.8zM81.5 93h0.8v0.8h-0.8zM83 67h0.8v0.8h-0.8zM81 72h0.8v0.8h-0.8zM80.5 77.5h0.8v0.8h-0.8zM81.5 69h0.8v0.8h-0.8zM82.5 92.5h0.8v0.8h-0.8zM81 79.5h0.8v0.8h-0.8zM82.5 83.5h0.8v0.8h-0.8zM81.5 96h0.8v0.8h-0.8zM83 94.5h0.8v0.8h-0.8zM82 110h0.8v0.8h-0.8zM84 81.5h0.8v0.8h-0.8zM82 100.5h0.8v0.8h-0.8zM81.5 91h0.8v0.8h-0.8zM82.5 77.5h0.8v0.8h-0.8zM82 67.5h0.8v0.8h-0.8zM81.5 62h0.8v0.8h-0.8zM85 104h0.8v0.8h-0.8zM83.5 89.5h0.8v0.8h-0.8zM83.5 101.5h0.8v0.8h-0.8zM83.5 97h0.8v0.8h-0.8zM81.5 91h0.8v0.8h-0.8zM81.5 72h0.8v0.8h-0.8zM81 91h0.8v0.8h-0.8zM83.5 69.5h0.8v0.8h-0.8zM84 103.5h0.8v0.8h-0.8zM82 80.5h0.8v0.8h-0.8zM82 98h0.8v0.8h-0.8zM82 73h0.8v0.8h-0.8zM82.5 61h0.8v0.8h-0.8zM82.5 100h0.8v0.8h-0.8zM82.5 95.5h0.8v0.8h-0.8zM83 94.5h0.8v0.8h-0.8zM82.5 76h0.8v0.8h-0.8zM82 85h0.8v0.8h-0.8zM83.5 105.5h0.8v0.8h-0.8zM83 77h0.8v0.8h-0.8zM81.5 83.5h0.8v0.8h-0.8zM84 90h0.8v0.8h-0.8zM82 77h0.8v0.8h-0.8zM83.5 89.5h0.8v0.8h-0.8zM82 87h0.8v0.8h-0.8zM84 84h0.8v0.8h-0.8zM84 101h0.8v0.8h-0.8zM82.5 96.5h0.8v0.8h-0.8zM82 76h0.8v0.8h-0.8zM82 75h0.8v0.8h-0.8zM83 86h0.8v0.8h-0.8zM83 96h0.8v0.8h-0.8zM79 89.5h0.8v0.8h-0.8zM80.5 88h0.8v0.8h-0.8zM81.5 87.5h0.8v0.8h-0.8zM84 65.5h0.8v0.8h-0.8zM82.5 85h0.8v0.8h-0.8zM80 94h0.8v0.8h-0.8zM82.5 80h0.8v0.8h-0.8zM81.5 124.5h0.8v0.8h-0.8zM82 64.5h0.8v0.8h-0.8zM81.5 81.5h0.8v0.8h-0.8zM82 85h0.8v0.8h-0.8zM81 92.5h0.8v0.8h-0.8zM82 69.5h0.8v0.8h-0.8zM81.5 81.5h0.8v0.8h-0.8zM83 92h0.8v0.8h-0.8zM82 86h0.8v0.8h-0.8zM82.5 110.5h0.8v0.8h-0.8zM81.5 91.5h0.8v0.8h-0.8zM83 74.5h0.8v0.8h-0.8zM82.5 88h0.8v0.8h-0.8zM82 93h0.8v0.8h-0.8zM83.5 99.5h0.8v0.8h-0.8zM82 88.5h0.8v0.8h-0.8zM85 73h0.8v0.8h-0.8zM82.5 96.5h0.8v0.8h-0.8zM82.5 94h0.8v0.8h-0.8zM82.5 95h0.8v0.8h-0.8zM83.5 83.5h0.8v0.8h-0.8zM82.5 85.5h0.8v0.8h-0.8zM82 86h0.8v0.8h-0.8zM81 95h0.8v0.8h-0.8zM84 106.5h0.8v0.8h-0.8zM83.5 74.5h0.8v0.8h-0.8zM84 77.5h0.8v0.8h-0.8zM82 108h0.8v0.8h-0.8zM81 96h0.8v0.8h-0.8zM82.5 84h0.8v0.8h-0.8zM81.5 91h0.8v0.8h-0.8zM82 98.5h0.8v0.8h-0.8zM83.5 69.5h0.8v0.8h-0.8zM81.5 82h0.8v0.8h-0.8zM81 72.5h0.8v0.8h-0.8zM82.5 83.5h0.8v0.8h-0.8zM80.5 79.5h0.8v0.8h-0.8zM83 71.5h0.8v0.8h-0.8zM81.5 105h0.8v0.8h-0.8zM83.5 66.5h0.8v0.8h-0.8zM81 90.5h0.8v0.8h-0.8zM81 83h0.8v0.8h-0.8zM82 92.5h0.8v0.8h-0.8zM79.5 59.5h0.8v0.8h-0.8zM81 98h0.8v0.8h-0.8zM82 65.5h0.8v0.8h-0.8zM97 111h0.8v0.8h-0.8zM93 109h0.8v0.8h-0.8zM97 112h0.8v0.8h-0.8zM95.5 110.5h0.8v0.8h-0.8zM94 108.5h0.8v0.8h-0.8zM89.5 110h0.8v0.8h-0.8zM93 109h0.8v0.8h-0.8zM99.5 110.5h0.8v0.8h-0.8zM99.5 106h0.8v0.8h-0.8zM97.5 108h0.8v0.8h-0.8zM90 107.5h0.8v0.8h-0.8zM101 111.5h0.8v0.8h-0.8zM90.5 107h0.8v0.8h-0.8zM94.5 108.5h0.8v0.8h-0.8zM103.5 106.5h0.8v0.8h-0.8zM84.5 109h0.8v0.8h-0.8zM94.5 110h0.8v0.8h-0.8zM98.5 114h0.8v0.8h-0.8zM92.5 108.5h0.8v0.8h-0.8zM85 110h0.8v0.8h-0.8zM99 109h0.8v0.8h-0.8zM101 109.5h0.8v0.8h-0.8zM103 110h0.8v0.8h-0.8zM88.5 108h0.8v0.8h-0.8zM86 105.5h0.8v0.8h-0.8zM96 111.5h0.8v0.8h-0.8zM105 109.5h0.8v0.8h-0.8zM93 107h0.8v0.8h-0.8zM100 110.5h0.8v0.8h-0.8zM91 111h0.8v0.8h-0.8zM97.5 105.5h0.8v0.8h-0.8zM98.5 110h0.8v0.8h-0.8zM92.5 108.5h0.8v0.8h-0.8zM104 113h0.8v0.8h-0.8zM104.5 107h0.8v0.8h-0.8zM91 111.5h0.8v0.8h-0.8zM88 108h0.8v0.8h-0.8zM84.5 113.5h0.8v0.8h-0.8zM100.5 110.5h0.8v0.8h-0.8zM95.5 108.5h0.8v0.8h-0.8zM92.5 111h0.8v0.8h-0.8zM90.5 112h0.8v0.8h-0.8zM92 107.5h0.8v0.8h-0.8zM101.5 109h0.8v0.8h-0.8zM97.5 108.5h0.8v0.8h-0.8zM82 110.5h0.8v0.8h-0.8zM87 112h0.8v0.8h-0.8zM86 105.5h0.8v0.8h-0.8zM96 110.5h0.8v0.8h-0.8zM95 107h0.8v0.8h-0.8zM99.5 106.5h0.8v0.8h-0.8zM92 108h0.8v0.8h-0.8zM92.5 111.5h0.8v0.8h-0.8zM91 110.5h0.8v0.8h-0.8zM98.5 105.5h0.8v0.8h-0.8zM88 108.5h0.8v0.8h-0.8zM91 110h0.8v0.8h-0.8zM84 111h0.8v0.8h-0.8zM98.5 109h0.8v0.8h-0.8zM87 109.5h0.8v0.8h-0.8zM91.5 110.5h0.8v0.8h-0.8zM94 111h0.8v0.8h-0.8zM92 112.5h0.8v0.8h-0.8zM82 107.5h0.8v0.8h-0.8zM97 106h0.8v0.8h-0.8zM98.5 107h0.8v0.8h-0.8zM95 107.5h0.8v0.8h-0.8zM92 110h0.8v0.8h-0.8zM94 108.5h0.8v0.8h-0.8zM106.5 109.5h0.8v0.8h-0.8zM89 111.5h0.8v0.8h-0.8zM99 112h0.8v0.8h-0.8zM104.5 107.5h0.8v0.8h-0.8zM100.5 112h0.8v0.8h-0.8zM94.5 110h0.8v0.8h-0.8zM78 108h0.8v0.8h-0.8zM104.5 105.5h0.8v0.8h-0.8zM91.5 110h0.8v0.8h-0.8zM97.5 113h0.8v0.8h-0.8zM85 109.5h0.8v0.8h-0.8zM99 106.5h0.8v0.8h-0.8zM94.5 113.5h0.8v0.8h-0.8zM101.5 110.5h0.8v0.8h-0.8zM80 109h0.8v0.8h-0.8zM96.5 109h0.8v0.8h-0.8zM94 116.5h0.8v0.8h-0.8zM93.5 107.5h0.8v0.8h-0.8zM96 109h0.8v0.8h-0.8zM93 109.5h0.8v0.8h-0.8zM99 110h0.8v0.8h-0.8zM88 109h0.8v0.8h-0.8zM97 108.5h0.8v0.8h-0.8zM101 111h0.8v0.8h-0.8zM89 110h0.8v0.8h-0.8zM105.5 113h0.8v0.8h-0.8zM94 111.5h0.8v0.8h-0.8zM91 106.5h0.8v0.8h-0.8zM97.5 110h0.8v0.8h-0.8zM97.5 109.5h0.8v0.8h-0.8zM96.5 108.5h0.8v0.8h-0.8zM97 111.5h0.8v0.8h-0.8zM94 111.5h0.8v0.8h-0.8zM85 108h0.8v0.8h-0.8zM102.5 113.5h0.8v0.8h-0.8zM96 109.5h0.8v0.8h-0.8zM87.5 110.5h0.8v0.8h-0.8zM99 106h0.8v0.8h-0.8zM97.5 110.5h0.8v0.8h-0.8zM97 107h0.8v0.8h-0.8zM97.5 106h0.8v0.8h-0.8zM102.5 110h0.8v0.8h-0.8zM88 112.5h0.8v0.8h-0.8zM101 108h0.8v0.8h-0.8zM106.5 107.5h0.8v0.8h-0.8zM96 112h0.8v0.8h-0.8zM82 111.5h0.8v0.8h-0.8zM94 109.5h0.8v0.8h-0.8zM88.5 110h0.8v0.8h-0.8zM88.5 107.5h0.8v0.8h-0.8zM92 107h0.8v0.8h-0.8zM103 106.5h0.8v0.8h-0.8zM90.5 109h0.8v0.8h-0.8zM94.5 111h0.8v0.8h-0.8zM99 109h0.8v0.8h-0.8zM92.5 109.5h0.8v0.8h-0.8zM99 111h0.8v0.8h-0.8zM91.5 105h0.8v0.8h-0.8zM106.5 111.5h0.8v0.8h-0.8zM96 110h0.8v0.8h-0.8zM91.5 107.5h0.8v0.8h-0.8zM92.5 109h0.8v0.8h-0.8zM91 106.5h0.8v0.8h-0.8zM93 111h0.8v0.8h-0.8zM92 109.5h0.8v0.8h-0.8zM83 109h0.8v0.8h-0.8zM94 107h0.8v0.8h-0.8zM85 110.5h0.8v0.8h-0.8zM90 110.5h0.8v0.8h-0.8zM92 111h0.8v0.8h-0.8zM92.5 106h0.8v0.8h-0.8zM94 109h0.8v0.8h-0.8zM98 108.5h0.8v0.8h-0.8zM92.5 111.5h0.8v0.8h-0.8zM101 111h0.8v0.8h-0.8zM100 110.5h0.8v0.8h-0.8zM98.5 111.5h0.8v0.8h-0.8zM96.5 109.5h0.8v0.8h-0.8zM95.5 115h0.8v0.8h-0.8zM94.5 109h0.8v0.8h-0.8zM92.5 109.5h0.8v0.8h-0.8zM96 107h0.8v0.8h-0.8zM83.5 110h0.8v0.8h-0.8zM85.5 110h0.8v0.8h-0.8zM95.5 112h0.8v0.8h-0.8zM103.5 110.5h0.8v0.8h-0.8zM91.5 107h0.8v0.8h-0.8zM90 109.5h0.8v0.8h-0.8zM83 109.5h0.8v0.8h-0.8zM94.5 111h0.8v0.8h-0.8zM92.5 109.5h0.8v0.8h-0.8zM90.5 108.5h0.8v0.8h-0.8zM84.5 110h0.8v0.8h-0.8zM103 110h0.8v0.8h-0.8zM96.5 107.5h0.8v0.8h-0.8zM102.5 108h0.8v0.8h-0.8zM99 109.5h0.8v0.8h-0.8zM89 112h0.8v0.8h-0.8zM94.5 110h0.8v0.8h-0.8zM97 109.5h0.8v0.8h-0.8zM92.5 110.5h0.8v0.8h-0.8zM92.5 109.5h0.8v0.8h-0.8zM91 106h0.8v0.8h-0.8zM91 108.5h0.8v0.8h-0.8zM94.5 112h0.8v0.8h-0.8zM85 110h0.8v0.8h-0.8zM82.5 107h0.8v0.8h-0.8zM91.5 104.5h0.8v0.8h-0.8zM84.5 110h0.8v0.8h-0.8zM95 109h0.8v0.8h-0.8zM90 114h0.8v0.8h-0.8zM93.5 107.5h0.8v0.8h-0.8zM103.5 111h0.8v0.8h-0.8zM92.5 112h0.8v0.8h-0.8zM95.5 111h0.8v0.8h-0.8zM96 107h0.8v0.8h-0.8zM100 110h0.8v0.8h-0.8zM89 108h0.8v0.8h-0.8zM100 108.5h0.8v0.8h-0.8zM95 111h0.8v0.8h-0.8zM95 106h0.8v0.8h-0.8zM98 111.5h0.8v0.8h-0.8zM99.5 113h0.8v0.8h-0.8zM96.5 111h0.8v0.8h-0.8zM103 109h0.8v0.8h-0.8zM104 113.5h0.8v0.8h-0.8zM99 113.5h0.8v0.8h-0.8zM99 107.5h0.8v0.8h-0.8zM101 110h0.8v0.8h-0.8zM97 110h0.8v0.8h-0.8zM102 110.5h0.8v0.8h-0.8z"/>
</g>
<defs><linearGradient id="bg1" x1="0" y1="0" x2="0" y2="1"><stop offset="0" stop-color="#939393"/><stop offset="0.55" stop-color="#b0b0b0"/><stop offset="1" stop-color="#dadada"/></linearGradient><linearGradient id="bg2" x1="0" y1="0" x2="0" y2="1"><stop offset="0" stop-color="#a2a2a2"/><stop offset="1" stop-color="#dedede"/></linearGradient></defs>
<g stroke-linejoin="round">
<path d="M117 60 C112 63.5 108.5 70 106.5 80" fill="none" stroke="#333" stroke-width="0.9"/>
<path d="M84.6 67.8 C86.5 64.5 89.5 62 93.5 60.4 L107 54.5 C110 53.5 112 55 110 57 L106 61 L105.5 84 C105.3 94 103 103 97.5 107.8 C95 109.6 92 109.5 90 107 C87 103 84.8 96 83.7 88 C83 82 82.8 76 83 73 C83.1 71 83.6 69.2 84.4 67.8 Z" fill="url(#bg1)" stroke="#2a2a2a" stroke-width="0.9"/>
<path d="M91 61.8 L107 55 C109 54.5 109.8 55.5 108.5 56.6 L105 59.5 C101 60.5 96 61.5 91 61.8 Z" fill="#eeeeee"/>
<path d="M85.8 69 C87.5 65.5 92 62.8 97 61.6 L103.8 61.6 C104.6 64 104.4 76 104.2 85 C104 94 102 101.5 97.5 105.8 C95 107.8 92.5 107.5 91 105.5 C88.5 102 86.5 96 85.5 88 C84.9 82 85 75 85.8 69 Z" fill="none" stroke="#fafafa" stroke-width="1.1"/>
<path d="M87.9 71.5 C89 67.5 93.5 64.8 101.5 63.8 C102.5 69 102.4 78 102.2 86 C102 94 100.3 100 97 103.3 C95 105 93 104.7 92 103 C90 99.5 88.8 94 88.3 88 C87.9 82 87.8 76 87.9 71.5 Z" fill="url(#bg2)" stroke="#777" stroke-width="0.45"/>
<path d="M91 72 C91.5 68 97 66.5 99.5 68 C100 75 99.8 85 99.3 92 C98.8 97 97 100 95.3 100 C94 99.5 93 96 92.3 91 C91.4 85 91.1 78 91 72 Z" fill="#c2c2c2" stroke="#8a8a8a" stroke-width="0.4"/>
<path d="M94.8 72 C95.2 69.5 97.4 69.5 97.6 72 L97.2 90 C96.9 93 95.6 93 95.3 90 Z" fill="#e6e6e6"/>
<path d="M106.2 57.5 C107.5 51 115 44.5 122.5 42.2 C128.5 40.5 131.5 42.5 130.5 46.5 C129.3 51 122.5 56 115.5 58.3 C110.5 60 106 60 106.2 57.5 Z" fill="#c4c4c4" stroke="#666" stroke-width="0.5"/>
<path fill="#7a7a7a" d="M112.5 48h0.8v0.8h-0.8zM110 55h0.8v0.8h-0.8zM114.5 54.5h0.8v0.8h-0.8zM119.5 54h0.8v0.8h-0.8zM115 48h0.8v0.8h-0.8zM103 52.5h0.8v0.8h-0.8zM130 57.5h0.8v0.8h-0.8zM108 50h0.8v0.8h-0.8zM122.5 49.5h0.8v0.8h-0.8zM114.5 52h0.8v0.8h-0.8zM107 54h0.8v0.8h-0.8zM128.5 51.5h0.8v0.8h-0.8zM117.5 48.5h0.8v0.8h-0.8zM124.5 51.5h0.8v0.8h-0.8zM121 44.5h0.8v0.8h-0.8zM123.5 51h0.8v0.8h-0.8zM111.5 47h0.8v0.8h-0.8zM123.5 48.5h0.8v0.8h-0.8zM126 45.5h0.8v0.8h-0.8zM113.5 50h0.8v0.8h-0.8zM110 49.5h0.8v0.8h-0.8zM114 49.5h0.8v0.8h-0.8zM124.5 40.5h0.8v0.8h-0.8zM117.5 47h0.8v0.8h-0.8zM130 44.5h0.8v0.8h-0.8zM118 53.5h0.8v0.8h-0.8zM118.5 47h0.8v0.8h-0.8zM131 46h0.8v0.8h-0.8zM133.5 46.5h0.8v0.8h-0.8zM124.5 46.5h0.8v0.8h-0.8zM113 55.5h0.8v0.8h-0.8zM121 51h0.8v0.8h-0.8zM117.5 46.5h0.8v0.8h-0.8zM113.5 55.5h0.8v0.8h-0.8zM127.5 43h0.8v0.8h-0.8zM125 52.5h0.8v0.8h-0.8zM112.5 51h0.8v0.8h-0.8zM113.5 57.5h0.8v0.8h-0.8zM120 46.5h0.8v0.8h-0.8zM107 54.5h0.8v0.8h-0.8zM125.5 44h0.8v0.8h-0.8zM117.5 53h0.8v0.8h-0.8zM110.5 54h0.8v0.8h-0.8zM121.5 44h0.8v0.8h-0.8zM114 53h0.8v0.8h-0.8zM118 48.5h0.8v0.8h-0.8zM121 49h0.8v0.8h-0.8zM111.5 50h0.8v0.8h-0.8zM124.5 51.5h0.8v0.8h-0.8zM127 41h0.8v0.8h-0.8zM128.5 47.5h0.8v0.8h-0.8zM120 51h0.8v0.8h-0.8zM128.5 52.5h0.8v0.8h-0.8zM113 55h0.8v0.8h-0.8zM118 49h0.8v0.8h-0.8zM129 47.5h0.8v0.8h-0.8zM111.5 52h0.8v0.8h-0.8zM118 43h0.8v0.8h-0.8zM125 45.5h0.8v0.8h-0.8zM121 49.5h0.8v0.8h-0.8zM132 42.5h0.8v0.8h-0.8zM120 56.5h0.8v0.8h-0.8zM114.5 49h0.8v0.8h-0.8zM111.5 58h0.8v0.8h-0.8zM122 49.5h0.8v0.8h-0.8zM120 48h0.8v0.8h-0.8zM112 49h0.8v0.8h-0.8zM122.5 48h0.8v0.8h-0.8zM129 40h0.8v0.8h-0.8zM114 47h0.8v0.8h-0.8zM126.5 39.5h0.8v0.8h-0.8zM127.5 51.5h0.8v0.8h-0.8zM119.5 52h0.8v0.8h-0.8zM103.5 55.5h0.8v0.8h-0.8zM108 56h0.8v0.8h-0.8zM118 46h0.8v0.8h-0.8zM126.5 46.5h0.8v0.8h-0.8zM114.5 49h0.8v0.8h-0.8zM108.5 54h0.8v0.8h-0.8zM132.5 38.5h0.8v0.8h-0.8zM121 45.5h0.8v0.8h-0.8zM125.5 47.5h0.8v0.8h-0.8zM114 43.5h0.8v0.8h-0.8zM118 55.5h0.8v0.8h-0.8zM119 52h0.8v0.8h-0.8zM112 44h0.8v0.8h-0.8zM123 48.5h0.8v0.8h-0.8zM114.5 50h0.8v0.8h-0.8zM120 45.5h0.8v0.8h-0.8zM121.5 47h0.8v0.8h-0.8zM102.5 57.5h0.8v0.8h-0.8zM113.5 48h0.8v0.8h-0.8zM121 45.5h0.8v0.8h-0.8zM125 51h0.8v0.8h-0.8zM117 43h0.8v0.8h-0.8zM116 55h0.8v0.8h-0.8zM116 47h0.8v0.8h-0.8zM119.5 51h0.8v0.8h-0.8zM122.5 50.5h0.8v0.8h-0.8zM113 51h0.8v0.8h-0.8zM117.5 50h0.8v0.8h-0.8zM104.5 56h0.8v0.8h-0.8zM113 59h0.8v0.8h-0.8zM133.5 49h0.8v0.8h-0.8zM124 44h0.8v0.8h-0.8zM125.5 44.5h0.8v0.8h-0.8zM122 43.5h0.8v0.8h-0.8zM116 53h0.8v0.8h-0.8zM131.5 42h0.8v0.8h-0.8zM140.5 50.5h0.8v0.8h-0.8zM110.5 54h0.8v0.8h-0.8zM112.5 52h0.8v0.8h-0.8zM115.5 51h0.8v0.8h-0.8zM128 49h0.8v0.8h-0.8zM121 48h0.8v0.8h-0.8zM120.5 49h0.8v0.8h-0.8zM123.5 47h0.8v0.8h-0.8zM120 42.5h0.8v0.8h-0.8zM128.5 52.5h0.8v0.8h-0.8zM118 43h0.8v0.8h-0.8zM128 42.5h0.8v0.8h-0.8zM98 59.5h0.8v0.8h-0.8zM124.5 48h0.8v0.8h-0.8zM129 46.5h0.8v0.8h-0.8zM116.5 41.5h0.8v0.8h-0.8zM112 54h0.8v0.8h-0.8zM122 42.5h0.8v0.8h-0.8zM116 53h0.8v0.8h-0.8zM102 49h0.8v0.8h-0.8zM118.5 51h0.8v0.8h-0.8zM111.5 42.5h0.8v0.8h-0.8zM117 44h0.8v0.8h-0.8zM123.5 46h0.8v0.8h-0.8zM122.5 50.5h0.8v0.8h-0.8zM117.5 54h0.8v0.8h-0.8zM129 45.5h0.8v0.8h-0.8zM127.5 41.5h0.8v0.8h-0.8zM126.5 46.5h0.8v0.8h-0.8zM112.5 52.5h0.8v0.8h-0.8zM114.5 49h0.8v0.8h-0.8zM122 52.5h0.8v0.8h-0.8zM117.5 50.5h0.8v0.8h-0.8zM109.5 55h0.8v0.8h-0.8zM129 47.5h0.8v0.8h-0.8zM121.5 45.5h0.8v0.8h-0.8zM112.5 52.5h0.8v0.8h-0.8zM107.5 49.5h0.8v0.8h-0.8zM124 42h0.8v0.8h-0.8zM129 37h0.8v0.8h-0.8zM120 43h0.8v0.8h-0.8zM118.5 44.5h0.8v0.8h-0.8zM119.5 48.5h0.8v0.8h-0.8zM117.5 52.5h0.8v0.8h-0.8zM128.5 41h0.8v0.8h-0.8zM125.5 46h0.8v0.8h-0.8zM123.5 57h0.8v0.8h-0.8zM103 55h0.8v0.8h-0.8zM106 54.5h0.8v0.8h-0.8zM125.5 64h0.8v0.8h-0.8zM125.5 54h0.8v0.8h-0.8zM127.5 42.5h0.8v0.8h-0.8zM126 53.5h0.8v0.8h-0.8zM121 49h0.8v0.8h-0.8zM120 41.5h0.8v0.8h-0.8zM114.5 53.5h0.8v0.8h-0.8zM121.5 43.5h0.8v0.8h-0.8zM117 50h0.8v0.8h-0.8zM119.5 52h0.8v0.8h-0.8zM120.5 49h0.8v0.8h-0.8zM107.5 50.5h0.8v0.8h-0.8zM118.5 42h0.8v0.8h-0.8zM120 45.5h0.8v0.8h-0.8zM115 54.5h0.8v0.8h-0.8zM113 48.5h0.8v0.8h-0.8zM115 52h0.8v0.8h-0.8zM118.5 48h0.8v0.8h-0.8zM125 44h0.8v0.8h-0.8zM105 63.5h0.8v0.8h-0.8zM111.5 53h0.8v0.8h-0.8zM107.5 50h0.8v0.8h-0.8zM117.5 54h0.8v0.8h-0.8zM124 43.5h0.8v0.8h-0.8zM122 45.5h0.8v0.8h-0.8zM120.5 49h0.8v0.8h-0.8zM122.5 44.5h0.8v0.8h-0.8zM119 50.5h0.8v0.8h-0.8zM118.5 45.5h0.8v0.8h-0.8zM130.5 41h0.8v0.8h-0.8zM125 47h0.8v0.8h-0.8zM123.5 36.5h0.8v0.8h-0.8zM133 40.5h0.8v0.8h-0.8zM111 54h0.8v0.8h-0.8zM136 42.5h0.8v0.8h-0.8zM109.5 52h0.8v0.8h-0.8zM125.5 39h0.8v0.8h-0.8zM117.5 48.5h0.8v0.8h-0.8zM134 39.5h0.8v0.8h-0.8zM127 41.5h0.8v0.8h-0.8zM115.5 55.5h0.8v0.8h-0.8zM120 40.5h0.8v0.8h-0.8zM125 49h0.8v0.8h-0.8zM115.5 52h0.8v0.8h-0.8zM120 46h0.8v0.8h-0.8zM114 49h0.8v0.8h-0.8zM114.5 45h0.8v0.8h-0.8zM116 43.5h0.8v0.8h-0.8zM119.5 48.5h0.8v0.8h-0.8zM113.5 56h0.8v0.8h-0.8zM135.5 46.5h0.8v0.8h-0.8zM112 59h0.8v0.8h-0.8zM120.5 48h0.8v0.8h-0.8zM115 51h0.8v0.8h-0.8zM130 45.5h0.8v0.8h-0.8zM115 48h0.8v0.8h-0.8zM117.5 52.5h0.8v0.8h-0.8zM130 38h0.8v0.8h-0.8zM118.5 47.5h0.8v0.8h-0.8zM114.5 53.5h0.8v0.8h-0.8zM120 41.5h0.8v0.8h-0.8zM114.5 57.5h0.8v0.8h-0.8zM122.5 49.5h0.8v0.8h-0.8zM115 49.5h0.8v0.8h-0.8zM121.5 45.5h0.8v0.8h-0.8zM111.5 53h0.8v0.8h-0.8zM123.5 42h0.8v0.8h-0.8zM128 47.5h0.8v0.8h-0.8zM113 52.5h0.8v0.8h-0.8zM120 51.5h0.8v0.8h-0.8zM121 41.5h0.8v0.8h-0.8zM112 58h0.8v0.8h-0.8zM121 50h0.8v0.8h-0.8zM124.5 53.5h0.8v0.8h-0.8zM113 57.5h0.8v0.8h-0.8zM115 55h0.8v0.8h-0.8zM126 39h0.8v0.8h-0.8zM121.5 46.5h0.8v0.8h-0.8zM117.5 50.5h0.8v0.8h-0.8zM110 49.5h0.8v0.8h-0.8zM125.5 49.5h0.8v0.8h-0.8zM112.5 46h0.8v0.8h-0.8zM137.5 44h0.8v0.8h-0.8zM119.5 44h0.8v0.8h-0.8zM115.5 52h0.8v0.8h-0.8zM115.5 58.5h0.8v0.8h-0.8zM121 50h0.8v0.8h-0.8zM110.5 49.5h0.8v0.8h-0.8zM114.5 53h0.8v0.8h-0.8zM117 49h0.8v0.8h-0.8zM122 48.5h0.8v0.8h-0.8zM129 42.5h0.8v0.8h-0.8zM112 53h0.8v0.8h-0.8zM128 41.5h0.8v0.8h-0.8zM119 47.5h0.8v0.8h-0.8zM122.5 48.5h0.8v0.8h-0.8zM113 51h0.8v0.8h-0.8zM128 49.5h0.8v0.8h-0.8zM127.5 48.5h0.8v0.8h-0.8zM116 49h0.8v0.8h-0.8zM123.5 41h0.8v0.8h-0.8z"/>
<ellipse cx="119.3" cy="50.6" rx="9.6" ry="4.4" transform="rotate(-32 119.3 50.6)" fill="#5c5c5c"/>
<path fill="#1c1c1c" d="M117 47.5h0.9v0.9h-0.9zM117 50h0.9v0.9h-0.9zM115.5 54.5h0.9v0.9h-0.9zM116 51.5h0.9v0.9h-0.9zM117.5 50h0.9v0.9h-0.9zM124.5 46h0.9v0.9h-0.9zM119 47.5h0.9v0.9h-0.9zM117.5 51h0.9v0.9h-0.9zM117.5 50h0.9v0.9h-0.9zM121.5 53h0.9v0.9h-0.9zM119 50.5h0.9v0.9h-0.9zM120.5 56h0.9v0.9h-0.9zM126 47.5h0.9v0.9h-0.9zM121.5 47.5h0.9v0.9h-0.9zM119 51h0.9v0.9h-0.9zM119 48.5h0.9v0.9h-0.9zM117 53h0.9v0.9h-0.9zM118.5 46h0.9v0.9h-0.9zM121 52.5h0.9v0.9h-0.9zM117 52.5h0.9v0.9h-0.9zM115 55.5h0.9v0.9h-0.9zM114 51h0.9v0.9h-0.9zM121 55.5h0.9v0.9h-0.9zM115.5 49.5h0.9v0.9h-0.9zM121.5 49.5h0.9v0.9h-0.9zM124.5 44h0.9v0.9h-0.9zM113 53.5h0.9v0.9h-0.9zM121.5 50h0.9v0.9h-0.9zM122 45h0.9v0.9h-0.9zM116 52h0.9v0.9h-0.9zM123 49h0.9v0.9h-0.9zM116.5 49.5h0.9v0.9h-0.9zM124 50h0.9v0.9h-0.9zM129.5 43.5h0.9v0.9h-0.9zM124.5 44.5h0.9v0.9h-0.9zM116.5 50.5h0.9v0.9h-0.9zM116.5 50h0.9v0.9h-0.9zM117.5 51.5h0.9v0.9h-0.9zM118.5 52.5h0.9v0.9h-0.9zM119 50.5h0.9v0.9h-0.9zM125.5 47.5h0.9v0.9h-0.9zM120 50h0.9v0.9h-0.9zM120.5 51.5h0.9v0.9h-0.9zM117.5 54.5h0.9v0.9h-0.9zM126.5 48.5h0.9v0.9h-0.9zM116 49h0.9v0.9h-0.9zM118 51.5h0.9v0.9h-0.9zM122.5 48h0.9v0.9h-0.9zM120 54h0.9v0.9h-0.9zM118 54h0.9v0.9h-0.9zM121.5 46h0.9v0.9h-0.9zM120 49h0.9v0.9h-0.9zM114 49.5h0.9v0.9h-0.9zM114 55h0.9v0.9h-0.9zM118.5 52h0.9v0.9h-0.9zM115 52.5h0.9v0.9h-0.9zM116.5 48.5h0.9v0.9h-0.9zM113.5 55h0.9v0.9h-0.9zM119 48.5h0.9v0.9h-0.9zM120 52h0.9v0.9h-0.9zM125.5 44.5h0.9v0.9h-0.9zM124 52.5h0.9v0.9h-0.9zM121.5 53h0.9v0.9h-0.9zM111 59h0.9v0.9h-0.9zM117.5 47h0.9v0.9h-0.9zM123.5 50.5h0.9v0.9h-0.9zM125.5 49.5h0.9v0.9h-0.9zM118.5 49h0.9v0.9h-0.9zM117.5 51.5h0.9v0.9h-0.9zM120.5 48.5h0.9v0.9h-0.9zM120.5 52h0.9v0.9h-0.9zM123 53.5h0.9v0.9h-0.9zM126.5 43h0.9v0.9h-0.9zM116 49.5h0.9v0.9h-0.9zM115.5 54h0.9v0.9h-0.9zM114.5 51h0.9v0.9h-0.9zM119.5 52.5h0.9v0.9h-0.9zM117.5 50.5h0.9v0.9h-0.9zM123.5 49h0.9v0.9h-0.9zM122 51h0.9v0.9h-0.9zM116 53h0.9v0.9h-0.9zM118 53.5h0.9v0.9h-0.9zM121.5 46.5h0.9v0.9h-0.9zM123.5 45h0.9v0.9h-0.9zM124 48h0.9v0.9h-0.9zM115 50.5h0.9v0.9h-0.9zM118.5 51h0.9v0.9h-0.9zM117.5 53h0.9v0.9h-0.9zM114 54h0.9v0.9h-0.9zM117.5 47h0.9v0.9h-0.9zM119.5 47.5h0.9v0.9h-0.9zM109 55.5h0.9v0.9h-0.9zM119.5 52.5h0.9v0.9h-0.9zM119 54h0.9v0.9h-0.9zM126 49h0.9v0.9h-0.9zM125 48h0.9v0.9h-0.9zM118 53h0.9v0.9h-0.9zM123.5 48.5h0.9v0.9h-0.9zM117 48.5h0.9v0.9h-0.9zM122.5 49.5h0.9v0.9h-0.9zM114.5 53.5h0.9v0.9h-0.9zM122 48.5h0.9v0.9h-0.9zM123.5 50h0.9v0.9h-0.9zM113.5 53.5h0.9v0.9h-0.9zM122.5 51h0.9v0.9h-0.9zM123 43.5h0.9v0.9h-0.9zM120 52h0.9v0.9h-0.9zM126 50.5h0.9v0.9h-0.9zM115.5 52h0.9v0.9h-0.9zM116.5 54.5h0.9v0.9h-0.9zM115.5 55.5h0.9v0.9h-0.9zM123.5 49h0.9v0.9h-0.9zM110.5 54.5h0.9v0.9h-0.9zM121 46h0.9v0.9h-0.9zM118.5 51h0.9v0.9h-0.9zM123 49h0.9v0.9h-0.9zM120 49h0.9v0.9h-0.9zM119.5 50h0.9v0.9h-0.9zM122 48.5h0.9v0.9h-0.9zM121.5 45h0.9v0.9h-0.9zM124 47h0.9v0.9h-0.9zM124 48h0.9v0.9h-0.9zM124.5 51h0.9v0.9h-0.9zM117.5 52h0.9v0.9h-0.9zM119 51h0.9v0.9h-0.9zM113 54h0.9v0.9h-0.9zM117.5 49.5h0.9v0.9h-0.9zM117 48h0.9v0.9h-0.9zM125.5 48h0.9v0.9h-0.9zM125.5 44.5h0.9v0.9h-0.9zM115.5 53.5h0.9v0.9h-0.9zM113.5 55h0.9v0.9h-0.9zM116.5 51.5h0.9v0.9h-0.9zM120.5 50h0.9v0.9h-0.9zM127.5 47h0.9v0.9h-0.9zM115.5 55.5h0.9v0.9h-0.9zM114.5 54h0.9v0.9h-0.9zM113.5 52h0.9v0.9h-0.9zM124 46.5h0.9v0.9h-0.9zM116.5 51h0.9v0.9h-0.9zM120 53.5h0.9v0.9h-0.9zM113.5 51h0.9v0.9h-0.9zM120 46h0.9v0.9h-0.9zM119.5 53.5h0.9v0.9h-0.9zM119 49.5h0.9v0.9h-0.9zM115.5 50.5h0.9v0.9h-0.9zM117.5 52h0.9v0.9h-0.9zM125 49h0.9v0.9h-0.9zM116.5 50.5h0.9v0.9h-0.9zM120 45.5h0.9v0.9h-0.9zM117.5 51h0.9v0.9h-0.9zM114 51.5h0.9v0.9h-0.9zM119 46.5h0.9v0.9h-0.9zM115 51.5h0.9v0.9h-0.9zM118 48h0.9v0.9h-0.9zM123 47.5h0.9v0.9h-0.9zM118 50.5h0.9v0.9h-0.9zM115.5 50.5h0.9v0.9h-0.9zM124 48h0.9v0.9h-0.9zM120 52.5h0.9v0.9h-0.9zM117 53.5h0.9v0.9h-0.9zM118.5 49h0.9v0.9h-0.9zM120.5 46h0.9v0.9h-0.9zM121 47.5h0.9v0.9h-0.9zM122.5 52h0.9v0.9h-0.9zM121 48h0.9v0.9h-0.9zM118.5 50h0.9v0.9h-0.9zM113.5 51.5h0.9v0.9h-0.9zM120 51.5h0.9v0.9h-0.9zM112.5 54.5h0.9v0.9h-0.9zM121.5 49.5h0.9v0.9h-0.9zM116.5 54.5h0.9v0.9h-0.9zM115 54.5h0.9v0.9h-0.9zM123 43h0.9v0.9h-0.9zM120.5 50.5h0.9v0.9h-0.9zM119 48.5h0.9v0.9h-0.9zM116.5 49h0.9v0.9h-0.9zM120.5 51h0.9v0.9h-0.9zM115.5 50.5h0.9v0.9h-0.9zM117.5 51.5h0.9v0.9h-0.9zM119.5 50h0.9v0.9h-0.9zM118 48h0.9v0.9h-0.9zM109.5 58h0.9v0.9h-0.9zM123 44.5h0.9v0.9h-0.9zM117 52.5h0.9v0.9h-0.9zM123.5 49.5h0.9v0.9h-0.9zM124 47.5h0.9v0.9h-0.9zM121 50h0.9v0.9h-0.9zM119 53.5h0.9v0.9h-0.9zM122.5 50.5h0.9v0.9h-0.9zM119 53h0.9v0.9h-0.9zM115.5 53.5h0.9v0.9h-0.9zM108 55h0.9v0.9h-0.9zM121.5 48h0.9v0.9h-0.9zM118 47h0.9v0.9h-0.9zM125.5 48h0.9v0.9h-0.9zM119.5 51.5h0.9v0.9h-0.9zM122 52h0.9v0.9h-0.9zM118.5 47.5h0.9v0.9h-0.9zM119.5 53.5h0.9v0.9h-0.9zM121 48.5h0.9v0.9h-0.9zM121.5 49h0.9v0.9h-0.9zM119.5 46h0.9v0.9h-0.9zM116.5 54h0.9v0.9h-0.9zM118.5 51.5h0.9v0.9h-0.9zM126 45h0.9v0.9h-0.9zM119.5 49h0.9v0.9h-0.9zM116.5 52h0.9v0.9h-0.9zM111.5 50.5h0.9v0.9h-0.9zM124 47h0.9v0.9h-0.9zM123.5 48h0.9v0.9h-0.9zM120.5 51.5h0.9v0.9h-0.9zM120.5 46.5h0.9v0.9h-0.9zM122.5 46h0.9v0.9h-0.9zM122.5 54.5h0.9v0.9h-0.9zM121 53h0.9v0.9h-0.9zM118.5 52.5h0.9v0.9h-0.9zM120 51h0.9v0.9h-0.9zM115 51h0.9v0.9h-0.9zM118.5 47h0.9v0.9h-0.9zM116.5 53.5h0.9v0.9h-0.9zM116 50.5h0.9v0.9h-0.9zM115 53.5h0.9v0.9h-0.9zM118 51.5h0.9v0.9h-0.9zM120.5 54h0.9v0.9h-0.9zM115.5 48h0.9v0.9h-0.9zM119.5 50h0.9v0.9h-0.9zM118 47.5h0.9v0.9h-0.9zM123.5 47.5h0.9v0.9h-0.9zM117 48h0.9v0.9h-0.9zM121 49h0.9v0.9h-0.9zM124 46.5h0.9v0.9h-0.9zM114.5 53.5h0.9v0.9h-0.9zM116 53.5h0.9v0.9h-0.9zM115 53h0.9v0.9h-0.9zM118 51h0.9v0.9h-0.9zM116.5 50.5h0.9v0.9h-0.9zM118.5 49.5h0.9v0.9h-0.9zM119.5 49.5h0.9v0.9h-0.9zM110.5 55.5h0.9v0.9h-0.9zM124.5 47.5h0.9v0.9h-0.9zM122 50h0.9v0.9h-0.9zM116 49.5h0.9v0.9h-0.9zM123.5 50.5h0.9v0.9h-0.9zM121.5 50h0.9v0.9h-0.9zM120.5 49.5h0.9v0.9h-0.9zM120 50h0.9v0.9h-0.9zM119.5 48h0.9v0.9h-0.9zM117.5 53h0.9v0.9h-0.9zM115 47h0.9v0.9h-0.9zM117 46h0.9v0.9h-0.9zM127 47h0.9v0.9h-0.9zM121 47.5h0.9v0.9h-0.9zM114.5 53h0.9v0.9h-0.9zM118.5 49h0.9v0.9h-0.9zM120.5 51.5h0.9v0.9h-0.9zM120.5 47.5h0.9v0.9h-0.9zM111 55.5h0.9v0.9h-0.9zM117 53h0.9v0.9h-0.9zM127 49.5h0.9v0.9h-0.9zM121.5 51.5h0.9v0.9h-0.9zM125.5 46.5h0.9v0.9h-0.9zM121 51.5h0.9v0.9h-0.9zM118.5 49.5h0.9v0.9h-0.9zM116.5 52h0.9v0.9h-0.9zM117.5 53.5h0.9v0.9h-0.9zM119.5 53.5h0.9v0.9h-0.9zM122.5 45.5h0.9v0.9h-0.9zM123 47h0.9v0.9h-0.9zM125 48h0.9v0.9h-0.9zM119.5 51.5h0.9v0.9h-0.9zM117.5 52.5h0.9v0.9h-0.9zM120.5 49.5h0.9v0.9h-0.9zM119.5 48h0.9v0.9h-0.9zM120 47h0.9v0.9h-0.9zM122 50h0.9v0.9h-0.9zM121.5 48h0.9v0.9h-0.9zM130.5 43h0.9v0.9h-0.9zM119 49h0.9v0.9h-0.9zM124 46.5h0.9v0.9h-0.9zM122 46.5h0.9v0.9h-0.9zM120 49h0.9v0.9h-0.9zM122.5 48h0.9v0.9h-0.9zM116.5 53h0.9v0.9h-0.9zM114 51.5h0.9v0.9h-0.9zM120 45.5h0.9v0.9h-0.9zM121.5 48h0.9v0.9h-0.9zM116 53h0.9v0.9h-0.9zM121 48h0.9v0.9h-0.9zM119.5 52h0.9v0.9h-0.9zM122 48.5h0.9v0.9h-0.9zM115.5 50.5h0.9v0.9h-0.9zM118 53h0.9v0.9h-0.9zM122 49.5h0.9v0.9h-0.9zM124 46.5h0.9v0.9h-0.9zM117.5 50.5h0.9v0.9h-0.9zM124.5 42.5h0.9v0.9h-0.9zM121 50.5h0.9v0.9h-0.9zM122 54h0.9v0.9h-0.9zM124.5 49h0.9v0.9h-0.9z"/>
<ellipse cx="120.3" cy="50.3" rx="2.6" ry="0.7" transform="rotate(-40 120.3 50.3)" fill="#6a6a6a"/>
</g>
<rect x="68.3" y="61.25" width="37.7" height="49.55" fill="none" stroke="#555" stroke-width="0.8"/>
<path d="M105.8 60.9 L105.5 42.4 L116.2 33.8 L129.4 33.8 L135.2 40.1 L135.2 50.5 L127.1 60.3 Z" fill="none" stroke="#1a1a1a" stroke-width="1"/>
<rect x="52.3" y="33.2" width="98" height="98.3" fill="none" stroke="#000" stroke-width="1.2"/>
<path d="M116.2 33.6 H129.4" stroke="#000" stroke-width="1.8"/>
<path d="M49.3 46.3H52.3" stroke="#000" stroke-width="1"/>
<text x="42.6" y="48.7" font-size="7" text-anchor="end" font-weight="normal" fill="#111" >10</text>
<text x="43.1" y="44.9" font-size="5" text-anchor="start" font-weight="normal" fill="#111" >4</text>
<path d="M49.3 74.1H52.3" stroke="#000" stroke-width="1"/>
<text x="42.6" y="76.5" font-size="7" text-anchor="end" font-weight="normal" fill="#111" >10</text>
<text x="43.1" y="72.7" font-size="5" text-anchor="start" font-weight="normal" fill="#111" >3</text>
<path d="M49.3 103H52.3" stroke="#000" stroke-width="1"/>
<text x="42.6" y="105.4" font-size="7" text-anchor="end" font-weight="normal" fill="#111" >10</text>
<text x="43.1" y="101.6" font-size="5" text-anchor="start" font-weight="normal" fill="#111" >2</text>
<path d="M49.3 124.6H52.3" stroke="#000" stroke-width="1"/>
<text x="41.9" y="127.1" font-size="7" text-anchor="end" font-weight="normal" fill="#111" >0</text>
<path d="M50.7 65.6H52.3M50.7 60.6H52.3M50.7 57.1H52.3M50.7 54.3H52.3M50.7 52.1H52.3M50.7 50.2H52.3M50.7 48.5H52.3M50.7 47.1H52.3M50.7 94.5H52.3M50.7 89.5H52.3M50.7 86H52.3M50.7 83.2H52.3M50.7 81H52.3M50.7 79.1H52.3M50.7 77.4H52.3M50.7 76H52.3M50.7 37.8H52.3M50.3 106H52.3M50.3 108.5H52.3M50.3 110.5H52.3M50.3 112H52.3M50.3 113.3H52.3M50.3 114.5H52.3M50.3 115.7H52.3M50.3 116.9H52.3M50.3 118.1H52.3M50.3 119.3H52.3M50.3 120.5H52.3M50.3 121.7H52.3M50.3 122.9H52.3M50.3 126H52.3M50.3 127.3H52.3M50.3 128.6H52.3M50.3 129.8H52.3" stroke="#000" stroke-width="0.7"/>
<path d="M79.5 131.5V134.5" stroke="#000" stroke-width="1"/>
<text x="82.4" y="144.4" font-size="7" text-anchor="end" font-weight="normal" fill="#111" >10</text>
<text x="82.8" y="141" font-size="5" text-anchor="start" font-weight="normal" fill="#111" >2</text>
<path d="M108.5 131.5V134.5" stroke="#000" stroke-width="1"/>
<text x="111.4" y="144.4" font-size="7" text-anchor="end" font-weight="normal" fill="#111" >10</text>
<text x="111.8" y="141" font-size="5" text-anchor="start" font-weight="normal" fill="#111" >3</text>
<path d="M137.5 131.5V134.5" stroke="#000" stroke-width="1"/>
<text x="140.4" y="144.4" font-size="7" text-anchor="end" font-weight="normal" fill="#111" >10</text>
<text x="140.8" y="141" font-size="5" text-anchor="start" font-weight="normal" fill="#111" >4</text>
<path d="M58.8 131.5V134.5" stroke="#000" stroke-width="1"/>
<text x="58.9" y="144.4" font-size="7" text-anchor="middle" font-weight="normal" fill="#111" >0</text>
<path d="M88.2 131.5V133.1M93.3 131.5V133.1M97 131.5V133.1M99.8 131.5V133.1M102.1 131.5V133.1M104 131.5V133.1M105.7 131.5V133.1M107.2 131.5V133.1M117.2 131.5V133.1M122.3 131.5V133.1M126 131.5V133.1M128.8 131.5V133.1M131.1 131.5V133.1M133 131.5V133.1M134.7 131.5V133.1M136.2 131.5V133.1M146.2 131.5V133.1M53.8 131.5V133.5M55 131.5V133.5M56.2 131.5V133.5M57.4 131.5V133.5M60.2 131.5V133.5M61.4 131.5V133.5M62.6 131.5V133.5M63.8 131.5V133.5M65.2 131.5V133.5M66.8 131.5V133.5M68.6 131.5V133.5M70.8 131.5V133.5M73.4 131.5V133.5M76.3 131.5V133.5" stroke="#000" stroke-width="0.7"/>
<text x="101.3" y="28.1" font-size="9.8" text-anchor="middle" font-weight="normal" fill="#111" >adult</text>
<text x="70.2" y="44" font-size="9.4" text-anchor="start" font-weight="bold" fill="#000" >22.8%</text>
<text x="111.4" y="107.2" font-size="9.4" text-anchor="start" font-weight="bold" fill="#000" >66.9%</text>
<path d="M239.5 56.5 C241 50 248 45 255.5 43.3 C261.5 42.2 265.5 44 264.8 48.3 C264 53 259.5 57.5 253 58.8 C248 59.8 239.2 59.8 239.5 56.5 Z" fill="#c2c2c2"/>
<g filter="url(#sb)">
<path fill="#b0b0b0" d="M205.5 56h0.8v0.8h-0.8zM212 54h0.8v0.8h-0.8zM219 52h0.8v0.8h-0.8zM224.5 61h0.8v0.8h-0.8zM229.5 55h0.8v0.8h-0.8zM193 58.5h0.8v0.8h-0.8zM230 53h0.8v0.8h-0.8zM211 56.5h0.8v0.8h-0.8zM207 57.5h0.8v0.8h-0.8zM203.5 50h0.8v0.8h-0.8zM217 48h0.8v0.8h-0.8zM217 56h0.8v0.8h-0.8zM200.5 58h0.8v0.8h-0.8zM210 56.5h0.8v0.8h-0.8zM219.5 52h0.8v0.8h-0.8zM210.5 46.5h0.8v0.8h-0.8zM208.5 50.5h0.8v0.8h-0.8zM237 58.5h0.8v0.8h-0.8zM200 57.5h0.8v0.8h-0.8zM219.5 52.5h0.8v0.8h-0.8zM222.5 57.5h0.8v0.8h-0.8zM210 53h0.8v0.8h-0.8zM219 50h0.8v0.8h-0.8zM219 53.5h0.8v0.8h-0.8zM208.5 50.5h0.8v0.8h-0.8zM220.5 57.5h0.8v0.8h-0.8zM221 50.5h0.8v0.8h-0.8zM226 54.5h0.8v0.8h-0.8zM224 59h0.8v0.8h-0.8zM206 53.5h0.8v0.8h-0.8zM209.5 50.5h0.8v0.8h-0.8zM241.5 58h0.8v0.8h-0.8zM195.5 56h0.8v0.8h-0.8zM210 59h0.8v0.8h-0.8zM218 53.5h0.8v0.8h-0.8zM218.5 55.5h0.8v0.8h-0.8zM217.5 53h0.8v0.8h-0.8zM215.5 56h0.8v0.8h-0.8zM203.5 54h0.8v0.8h-0.8zM215.5 52h0.8v0.8h-0.8zM226 48.5h0.8v0.8h-0.8zM212.5 50.5h0.8v0.8h-0.8zM223.5 52h0.8v0.8h-0.8zM217.5 55.5h0.8v0.8h-0.8zM197.5 56h0.8v0.8h-0.8zM208 53h0.8v0.8h-0.8zM215.5 57.5h0.8v0.8h-0.8zM226 61.5h0.8v0.8h-0.8zM219 52h0.8v0.8h-0.8zM211 56.5h0.8v0.8h-0.8zM236.5 55.5h0.8v0.8h-0.8zM210 55h0.8v0.8h-0.8zM220 54h0.8v0.8h-0.8zM210.5 58.5h0.8v0.8h-0.8zM217 46h0.8v0.8h-0.8zM241 55h0.8v0.8h-0.8zM202.5 57.5h0.8v0.8h-0.8zM207.5 56.5h0.8v0.8h-0.8zM217.5 49h0.8v0.8h-0.8zM225 48.5h0.8v0.8h-0.8zM233.5 54.5h0.8v0.8h-0.8zM204.5 46.5h0.8v0.8h-0.8zM236.5 60h0.8v0.8h-0.8zM201.5 61h0.8v0.8h-0.8zM219 53h0.8v0.8h-0.8zM216 53h0.8v0.8h-0.8zM234.5 54.5h0.8v0.8h-0.8zM194.5 63h0.8v0.8h-0.8zM227.5 49.5h0.8v0.8h-0.8zM212.5 50h0.8v0.8h-0.8zM217.5 55.5h0.8v0.8h-0.8zM220 51.5h0.8v0.8h-0.8zM207.5 57.5h0.8v0.8h-0.8zM216 63.5h0.8v0.8h-0.8zM207 57.5h0.8v0.8h-0.8zM217.5 51h0.8v0.8h-0.8zM233.5 54.5h0.8v0.8h-0.8zM206 52.5h0.8v0.8h-0.8zM229.5 49h0.8v0.8h-0.8zM233.5 57h0.8v0.8h-0.8zM213.5 59.5h0.8v0.8h-0.8zM238 56.5h0.8v0.8h-0.8zM219 62h0.8v0.8h-0.8zM235 50h0.8v0.8h-0.8zM214.5 53h0.8v0.8h-0.8zM212 47.5h0.8v0.8h-0.8zM228 54.5h0.8v0.8h-0.8zM218 60h0.8v0.8h-0.8zM210 54h0.8v0.8h-0.8zM220.5 52h0.8v0.8h-0.8zM215.5 57h0.8v0.8h-0.8zM217 59.5h0.8v0.8h-0.8zM208 55h0.8v0.8h-0.8zM199.5 53.5h0.8v0.8h-0.8zM208.5 60h0.8v0.8h-0.8zM226 56h0.8v0.8h-0.8zM239.5 60h0.8v0.8h-0.8zM226 51h0.8v0.8h-0.8zM199.5 54h0.8v0.8h-0.8zM212.5 51.5h0.8v0.8h-0.8zM213.5 47h0.8v0.8h-0.8zM235 49h0.8v0.8h-0.8zM209 56.5h0.8v0.8h-0.8zM197 58h0.8v0.8h-0.8zM228.5 52.5h0.8v0.8h-0.8zM204 52h0.8v0.8h-0.8zM194.5 60h0.8v0.8h-0.8zM217.5 51h0.8v0.8h-0.8zM206 56.5h0.8v0.8h-0.8zM235.5 48.5h0.8v0.8h-0.8zM210 46.5h0.8v0.8h-0.8zM225.5 54.5h0.8v0.8h-0.8zM245 53.5h0.8v0.8h-0.8zM211.5 51h0.8v0.8h-0.8zM227.5 47h0.8v0.8h-0.8zM226 55h0.8v0.8h-0.8zM211 50h0.8v0.8h-0.8zM230 62h0.8v0.8h-0.8zM211.5 56.5h0.8v0.8h-0.8zM238.5 51.5h0.8v0.8h-0.8zM214 49h0.8v0.8h-0.8zM215 53.5h0.8v0.8h-0.8zM212 51h0.8v0.8h-0.8zM197.5 48.5h0.8v0.8h-0.8zM205 56.5h0.8v0.8h-0.8zM210.5 50.5h0.8v0.8h-0.8zM225 56.5h0.8v0.8h-0.8zM207.5 51.5h0.8v0.8h-0.8zM225 55.5h0.8v0.8h-0.8zM206.5 55h0.8v0.8h-0.8zM216.5 59h0.8v0.8h-0.8zM206.5 58h0.8v0.8h-0.8zM222.5 49.5h0.8v0.8h-0.8zM230 58h0.8v0.8h-0.8zM200.5 62.5h0.8v0.8h-0.8zM203 50h0.8v0.8h-0.8zM213 57.5h0.8v0.8h-0.8zM224 53.5h0.8v0.8h-0.8zM234 55.5h0.8v0.8h-0.8zM234.5 66h0.8v0.8h-0.8zM211.5 49.5h0.8v0.8h-0.8zM218 54.5h0.8v0.8h-0.8zM201.5 49h0.8v0.8h-0.8zM213.5 53h0.8v0.8h-0.8zM217.5 54h0.8v0.8h-0.8zM220.5 49.5h0.8v0.8h-0.8zM216.5 58.5h0.8v0.8h-0.8zM230.5 56h0.8v0.8h-0.8zM213.5 50.5h0.8v0.8h-0.8zM233.5 56.5h0.8v0.8h-0.8zM206 45.5h0.8v0.8h-0.8zM232.5 55h0.8v0.8h-0.8zM207.5 53h0.8v0.8h-0.8zM250 59.5h0.8v0.8h-0.8zM200 53.5h0.8v0.8h-0.8zM201.5 46.5h0.8v0.8h-0.8zM219 64.5h0.8v0.8h-0.8zM237 54h0.8v0.8h-0.8zM212 55h0.8v0.8h-0.8zM230 47.5h0.8v0.8h-0.8zM193 62.5h0.8v0.8h-0.8zM220.5 61h0.8v0.8h-0.8zM220 60.5h0.8v0.8h-0.8zM209 56h0.8v0.8h-0.8zM237 58.5h0.8v0.8h-0.8zM211 58h0.8v0.8h-0.8zM208.5 47.5h0.8v0.8h-0.8zM223.5 60h0.8v0.8h-0.8zM228 48.5h0.8v0.8h-0.8zM228 57h0.8v0.8h-0.8zM230 58h0.8v0.8h-0.8zM223.5 46.5h0.8v0.8h-0.8zM198 58.5h0.8v0.8h-0.8zM227.5 56h0.8v0.8h-0.8zM214 56h0.8v0.8h-0.8zM210 52.5h0.8v0.8h-0.8zM206 55h0.8v0.8h-0.8zM211.5 58.5h0.8v0.8h-0.8zM226.5 50.5h0.8v0.8h-0.8zM240.5 49h0.8v0.8h-0.8zM223 59h0.8v0.8h-0.8zM230 59.5h0.8v0.8h-0.8zM208 53.5h0.8v0.8h-0.8zM211 60h0.8v0.8h-0.8zM208 59.5h0.8v0.8h-0.8zM224.5 47.5h0.8v0.8h-0.8zM204 52h0.8v0.8h-0.8zM218.5 58.5h0.8v0.8h-0.8zM214.5 58h0.8v0.8h-0.8zM212.5 56h0.8v0.8h-0.8zM212.5 49.5h0.8v0.8h-0.8zM222.5 62.5h0.8v0.8h-0.8zM215.5 50.5h0.8v0.8h-0.8zM206 63h0.8v0.8h-0.8zM216.5 57h0.8v0.8h-0.8zM233 59h0.8v0.8h-0.8zM205 58.5h0.8v0.8h-0.8zM228 56h0.8v0.8h-0.8zM230 51.5h0.8v0.8h-0.8zM216 51.5h0.8v0.8h-0.8zM227 51h0.8v0.8h-0.8zM222 49h0.8v0.8h-0.8zM215.5 52.5h0.8v0.8h-0.8zM215.5 54.5h0.8v0.8h-0.8zM214.5 53h0.8v0.8h-0.8zM190 59h0.8v0.8h-0.8zM209 53h0.8v0.8h-0.8zM206 58.5h0.8v0.8h-0.8zM205 56.5h0.8v0.8h-0.8zM232.5 61.5h0.8v0.8h-0.8zM232.5 57h0.8v0.8h-0.8zM201.5 60h0.8v0.8h-0.8zM232.5 58h0.8v0.8h-0.8zM227.5 54.5h0.8v0.8h-0.8zM210.5 59h0.8v0.8h-0.8zM233.5 49.5h0.8v0.8h-0.8zM229 55h0.8v0.8h-0.8zM228.5 55.5h0.8v0.8h-0.8zM231.5 58.5h0.8v0.8h-0.8zM228.5 48h0.8v0.8h-0.8zM228 54.5h0.8v0.8h-0.8zM202.5 57h0.8v0.8h-0.8zM199.5 58h0.8v0.8h-0.8zM239 52h0.8v0.8h-0.8zM229 56h0.8v0.8h-0.8zM225.5 48h0.8v0.8h-0.8zM225 54.5h0.8v0.8h-0.8zM227 54h0.8v0.8h-0.8zM231.5 55.5h0.8v0.8h-0.8zM226 60h0.8v0.8h-0.8zM219.5 58.5h0.8v0.8h-0.8zM220.5 56.5h0.8v0.8h-0.8zM210.5 57.5h0.8v0.8h-0.8zM233 54h0.8v0.8h-0.8zM227.5 56h0.8v0.8h-0.8zM203 55.5h0.8v0.8h-0.8zM234.5 52h0.8v0.8h-0.8zM194.5 55h0.8v0.8h-0.8zM209 62.5h0.8v0.8h-0.8zM217 54h0.8v0.8h-0.8zM209.5 55.5h0.8v0.8h-0.8zM210 50h0.8v0.8h-0.8zM216.5 50.5h0.8v0.8h-0.8zM234.5 49h0.8v0.8h-0.8zM216.5 51h0.8v0.8h-0.8zM200 61.5h0.8v0.8h-0.8zM190.5 60.5h0.8v0.8h-0.8zM199.5 54.5h0.8v0.8h-0.8zM246.5 45h0.8v0.8h-0.8zM200 60h0.8v0.8h-0.8zM219.5 51.5h0.8v0.8h-0.8zM217 50h0.8v0.8h-0.8zM219 61h0.8v0.8h-0.8zM212.5 55h0.8v0.8h-0.8zM233 63h0.8v0.8h-0.8zM210 55.5h0.8v0.8h-0.8zM210.5 51.5h0.8v0.8h-0.8zM212.5 51.5h0.8v0.8h-0.8zM195.5 45.5h0.8v0.8h-0.8zM208 54.5h0.8v0.8h-0.8zM233 52h0.8v0.8h-0.8zM215.5 57h0.8v0.8h-0.8zM227 53.5h0.8v0.8h-0.8zM217 62.5h0.8v0.8h-0.8zM213 52h0.8v0.8h-0.8zM197 56h0.8v0.8h-0.8zM214 62.5h0.8v0.8h-0.8zM213 57.5h0.8v0.8h-0.8zM229.5 61.5h0.8v0.8h-0.8zM201 61h0.8v0.8h-0.8zM217.5 53.5h0.8v0.8h-0.8zM213.5 52.5h0.8v0.8h-0.8zM224 54.5h0.8v0.8h-0.8zM205.5 54h0.8v0.8h-0.8zM246.5 56h0.8v0.8h-0.8zM212.5 61.5h0.8v0.8h-0.8zM207.5 53.5h0.8v0.8h-0.8zM210.5 53h0.8v0.8h-0.8zM226.5 56.5h0.8v0.8h-0.8zM208 53.5h0.8v0.8h-0.8zM218.5 52.5h0.8v0.8h-0.8zM217 51h0.8v0.8h-0.8zM208 54.5h0.8v0.8h-0.8zM204.5 56h0.8v0.8h-0.8zM215 50h0.8v0.8h-0.8zM209.5 52h0.8v0.8h-0.8zM215.5 54.5h0.8v0.8h-0.8zM215 50.5h0.8v0.8h-0.8zM235.5 58h0.8v0.8h-0.8zM219 58.5h0.8v0.8h-0.8zM234 80h0.8v0.8h-0.8zM244 103h0.8v0.8h-0.8zM223.5 95h0.8v0.8h-0.8zM262.5 92h0.8v0.8h-0.8zM245 106.5h0.8v0.8h-0.8zM239 112h0.8v0.8h-0.8zM233 93h0.8v0.8h-0.8zM234 86.5h0.8v0.8h-0.8zM249.5 76h0.8v0.8h-0.8zM229.5 71h0.8v0.8h-0.8zM230 77.5h0.8v0.8h-0.8zM237.5 82.5h0.8v0.8h-0.8zM220.5 79.5h0.8v0.8h-0.8zM227.5 75.5h0.8v0.8h-0.8zM243 96h0.8v0.8h-0.8zM231.5 64h0.8v0.8h-0.8zM237 62h0.8v0.8h-0.8zM232 85.5h0.8v0.8h-0.8zM221 70h0.8v0.8h-0.8zM219.5 120h0.8v0.8h-0.8zM225.5 81h0.8v0.8h-0.8zM243.5 92h0.8v0.8h-0.8zM244.5 63h0.8v0.8h-0.8zM229 79.5h0.8v0.8h-0.8zM231.5 101.5h0.8v0.8h-0.8zM212 89.5h0.8v0.8h-0.8zM229 96h0.8v0.8h-0.8zM232 75.5h0.8v0.8h-0.8zM217 42h0.8v0.8h-0.8zM243.5 59h0.8v0.8h-0.8zM223.5 113.5h0.8v0.8h-0.8zM223.5 95h0.8v0.8h-0.8zM226.5 96.5h0.8v0.8h-0.8zM230 75.5h0.8v0.8h-0.8zM249 80h0.8v0.8h-0.8zM210 79h0.8v0.8h-0.8zM237 65h0.8v0.8h-0.8zM240.5 97.5h0.8v0.8h-0.8zM260 73.5h0.8v0.8h-0.8zM239 55.5h0.8v0.8h-0.8zM223.5 86.5h0.8v0.8h-0.8zM235.5 83.5h0.8v0.8h-0.8zM228 74h0.8v0.8h-0.8zM223 90h0.8v0.8h-0.8zM237.5 95.5h0.8v0.8h-0.8zM243.5 105h0.8v0.8h-0.8zM203.5 75.5h0.8v0.8h-0.8zM227 73.5h0.8v0.8h-0.8zM244.5 97.5h0.8v0.8h-0.8zM228 86.5h0.8v0.8h-0.8zM247.5 78.5h0.8v0.8h-0.8zM225 100h0.8v0.8h-0.8zM236 109h0.8v0.8h-0.8zM234.5 97.5h0.8v0.8h-0.8zM221.5 68h0.8v0.8h-0.8zM229.5 38.5h0.8v0.8h-0.8zM235.5 101h0.8v0.8h-0.8zM230.5 80.5h0.8v0.8h-0.8zM245 83.5h0.8v0.8h-0.8zM243.5 122.5h0.8v0.8h-0.8zM240 100.5h0.8v0.8h-0.8zM236.5 89h0.8v0.8h-0.8zM233.5 85.5h0.8v0.8h-0.8zM245 56.5h0.8v0.8h-0.8zM225.5 96h0.8v0.8h-0.8zM217.5 82.5h0.8v0.8h-0.8zM219.5 92h0.8v0.8h-0.8zM242 109.5h0.8v0.8h-0.8zM236.5 72h0.8v0.8h-0.8zM233 94.5h0.8v0.8h-0.8zM249.5 47.5h0.8v0.8h-0.8zM234.5 53h0.8v0.8h-0.8zM239.5 92h0.8v0.8h-0.8zM236.5 99.5h0.8v0.8h-0.8zM235 73.5h0.8v0.8h-0.8zM234.5 105h0.8v0.8h-0.8zM227.5 85h0.8v0.8h-0.8zM212 104.5h0.8v0.8h-0.8zM222 71.5h0.8v0.8h-0.8zM223 69.5h0.8v0.8h-0.8zM226 106.5h0.8v0.8h-0.8zM241 109h0.8v0.8h-0.8zM250.5 69h0.8v0.8h-0.8zM236.5 110h0.8v0.8h-0.8zM262.5 60h0.8v0.8h-0.8zM209 92.5h0.8v0.8h-0.8zM224.5 67.5h0.8v0.8h-0.8zM235 71h0.8v0.8h-0.8zM197 84h0.8v0.8h-0.8zM231 95.5h0.8v0.8h-0.8zM243 87.5h0.8v0.8h-0.8zM226 73h0.8v0.8h-0.8zM206 77h0.8v0.8h-0.8zM243.5 95.5h0.8v0.8h-0.8zM258.5 82h0.8v0.8h-0.8zM204 98.5h0.8v0.8h-0.8zM244 64.5h0.8v0.8h-0.8zM206 87h0.8v0.8h-0.8zM239.5 65h0.8v0.8h-0.8zM224.5 71h0.8v0.8h-0.8zM212.5 61.5h0.8v0.8h-0.8zM231.5 78h0.8v0.8h-0.8zM219.5 39.5h0.8v0.8h-0.8zM254.5 68h0.8v0.8h-0.8zM227.5 65h0.8v0.8h-0.8zM234.5 58.5h0.8v0.8h-0.8zM230.5 81h0.8v0.8h-0.8zM242.5 65.5h0.8v0.8h-0.8zM220 80h0.8v0.8h-0.8zM259 59h0.8v0.8h-0.8zM233.5 73h0.8v0.8h-0.8zM233.5 95.5h0.8v0.8h-0.8zM231 88.5h0.8v0.8h-0.8zM233 74h0.8v0.8h-0.8zM226 55.5h0.8v0.8h-0.8zM224 71h0.8v0.8h-0.8zM225.5 97h0.8v0.8h-0.8zM234.5 92.5h0.8v0.8h-0.8zM245 43h0.8v0.8h-0.8zM235.5 83.5h0.8v0.8h-0.8zM227.5 61.5h0.8v0.8h-0.8zM237 104h0.8v0.8h-0.8zM244 82.5h0.8v0.8h-0.8zM238 100h0.8v0.8h-0.8zM255 105h0.8v0.8h-0.8zM231 85.5h0.8v0.8h-0.8zM231.5 88h0.8v0.8h-0.8zM222 97.5h0.8v0.8h-0.8zM219 70.5h0.8v0.8h-0.8zM234 74h0.8v0.8h-0.8zM225.5 48.5h0.8v0.8h-0.8zM240.5 84h0.8v0.8h-0.8zM227 92h0.8v0.8h-0.8zM232 72h0.8v0.8h-0.8zM258 76.5h0.8v0.8h-0.8zM243 115.5h0.8v0.8h-0.8zM220 85.5h0.8v0.8h-0.8zM217.5 102h0.8v0.8h-0.8zM224.5 65h0.8v0.8h-0.8zM248 100h0.8v0.8h-0.8zM216.5 104.5h0.8v0.8h-0.8zM253.5 74.5h0.8v0.8h-0.8zM225 69h0.8v0.8h-0.8zM231 85h0.8v0.8h-0.8zM239.5 85.5h0.8v0.8h-0.8zM208 70h0.8v0.8h-0.8zM249.5 104h0.8v0.8h-0.8zM226.5 81.5h0.8v0.8h-0.8zM226.5 84.5h0.8v0.8h-0.8zM205 99.5h0.8v0.8h-0.8zM219.5 86.5h0.8v0.8h-0.8zM193 88h0.8v0.8h-0.8zM248 45.5h0.8v0.8h-0.8zM251 92h0.8v0.8h-0.8zM218.5 57h0.8v0.8h-0.8zM245.5 88.5h0.8v0.8h-0.8zM237.5 79.5h0.8v0.8h-0.8zM217.5 99h0.8v0.8h-0.8zM215.5 99.5h0.8v0.8h-0.8zM205 68h0.8v0.8h-0.8zM208 106.5h0.8v0.8h-0.8zM204 64.5h0.8v0.8h-0.8zM238.5 88h0.8v0.8h-0.8zM260.5 115.5h0.8v0.8h-0.8zM238 96h0.8v0.8h-0.8zM203 69h0.8v0.8h-0.8zM224.5 81h0.8v0.8h-0.8zM209.5 68h0.8v0.8h-0.8zM217 102.5h0.8v0.8h-0.8zM235 78.5h0.8v0.8h-0.8zM225 89h0.8v0.8h-0.8zM219 79.5h0.8v0.8h-0.8zM204.5 95.5h0.8v0.8h-0.8zM243 90h0.8v0.8h-0.8zM236 90.5h0.8v0.8h-0.8zM258.5 87.5h0.8v0.8h-0.8zM210 66h0.8v0.8h-0.8zM239 102.5h0.8v0.8h-0.8zM240 98.5h0.8v0.8h-0.8zM231.5 58.5h0.8v0.8h-0.8zM219 53h0.8v0.8h-0.8zM223.5 60.5h0.8v0.8h-0.8zM230.5 81h0.8v0.8h-0.8zM201 96.5h0.8v0.8h-0.8zM240 60h0.8v0.8h-0.8zM231 96.5h0.8v0.8h-0.8zM225 98.5h0.8v0.8h-0.8zM231.5 102.5h0.8v0.8h-0.8zM231.5 81h0.8v0.8h-0.8zM236.5 97.5h0.8v0.8h-0.8zM232.5 76h0.8v0.8h-0.8zM217.5 77.5h0.8v0.8h-0.8zM220.5 87.5h0.8v0.8h-0.8zM231.5 82.5h0.8v0.8h-0.8zM229 87h0.8v0.8h-0.8zM251.5 104.5h0.8v0.8h-0.8zM220.5 91h0.8v0.8h-0.8zM224 82h0.8v0.8h-0.8zM225.5 73h0.8v0.8h-0.8zM209 41h0.8v0.8h-0.8zM231.5 104h0.8v0.8h-0.8zM215.5 92.5h0.8v0.8h-0.8zM223 88.5h0.8v0.8h-0.8zM217 79.5h0.8v0.8h-0.8zM227 42.5h0.8v0.8h-0.8zM232 81.5h0.8v0.8h-0.8zM193 95h0.8v0.8h-0.8zM228 87h0.8v0.8h-0.8zM234 76.5h0.8v0.8h-0.8zM213 76h0.8v0.8h-0.8zM222.5 122h0.8v0.8h-0.8zM255.5 75h0.8v0.8h-0.8zM222.5 89h0.8v0.8h-0.8zM237 71.5h0.8v0.8h-0.8zM214 117h0.8v0.8h-0.8zM244 56.5h0.8v0.8h-0.8zM203 69h0.8v0.8h-0.8zM232 93h0.8v0.8h-0.8zM223.5 55.5h0.8v0.8h-0.8zM232 94h0.8v0.8h-0.8zM228.5 75h0.8v0.8h-0.8zM237 82.5h0.8v0.8h-0.8zM212.5 85h0.8v0.8h-0.8zM209.5 100.5h0.8v0.8h-0.8zM235.5 66h0.8v0.8h-0.8zM231.5 105.5h0.8v0.8h-0.8zM197.5 81h0.8v0.8h-0.8zM252.5 56.5h0.8v0.8h-0.8zM226 58.5h0.8v0.8h-0.8zM227.5 41.5h0.8v0.8h-0.8zM205 74h0.8v0.8h-0.8zM230.5 90h0.8v0.8h-0.8zM235 103.5h0.8v0.8h-0.8zM239 96.5h0.8v0.8h-0.8zM214 80.5h0.8v0.8h-0.8zM275 123.5h0.8v0.8h-0.8zM240.5 96.5h0.8v0.8h-0.8zM243 76.5h0.8v0.8h-0.8zM257.5 77h0.8v0.8h-0.8zM227.5 122h0.8v0.8h-0.8zM198 90h0.8v0.8h-0.8zM203 72h0.8v0.8h-0.8zM227 77h0.8v0.8h-0.8zM231 70h0.8v0.8h-0.8zM227 62.5h0.8v0.8h-0.8zM223 59h0.8v0.8h-0.8zM238 60.5h0.8v0.8h-0.8zM239 76h0.8v0.8h-0.8zM224 104.5h0.8v0.8h-0.8zM230 50h0.8v0.8h-0.8zM232.5 76.5h0.8v0.8h-0.8zM208 85h0.8v0.8h-0.8zM224 119h0.8v0.8h-0.8zM222 118h0.8v0.8h-0.8zM249 72.5h0.8v0.8h-0.8zM216.5 107h0.8v0.8h-0.8zM226.5 86.5h0.8v0.8h-0.8zM225 62h0.8v0.8h-0.8zM223 66.5h0.8v0.8h-0.8zM206 78h0.8v0.8h-0.8zM255 112.5h0.8v0.8h-0.8zM227.5 86h0.8v0.8h-0.8zM236 108h0.8v0.8h-0.8zM233.5 75h0.8v0.8h-0.8zM222.5 103.5h0.8v0.8h-0.8zM267.5 72.5h0.8v0.8h-0.8zM198 98h0.8v0.8h-0.8zM227.5 86h0.8v0.8h-0.8zM247 84.5h0.8v0.8h-0.8zM209 48.5h0.8v0.8h-0.8zM228 62.5h0.8v0.8h-0.8zM233 60.5h0.8v0.8h-0.8zM223.5 57h0.8v0.8h-0.8zM223 75.5h0.8v0.8h-0.8zM237.5 107.5h0.8v0.8h-0.8zM226 68h0.8v0.8h-0.8zM258 90h0.8v0.8h-0.8zM237.5 94.5h0.8v0.8h-0.8zM250.5 101.5h0.8v0.8h-0.8zM238.5 97.5h0.8v0.8h-0.8zM216 72.5h0.8v0.8h-0.8zM227 85h0.8v0.8h-0.8zM229 89h0.8v0.8h-0.8zM229 76h0.8v0.8h-0.8zM204.5 98.5h0.8v0.8h-0.8zM237.5 68h0.8v0.8h-0.8zM236 90.5h0.8v0.8h-0.8zM229.5 50.5h0.8v0.8h-0.8zM210.5 72.5h0.8v0.8h-0.8zM253 68h0.8v0.8h-0.8zM223.5 63.5h0.8v0.8h-0.8zM221 89.5h0.8v0.8h-0.8zM238.5 84h0.8v0.8h-0.8zM219.5 101h0.8v0.8h-0.8zM243 46h0.8v0.8h-0.8zM226 103.5h0.8v0.8h-0.8zM218.5 78h0.8v0.8h-0.8zM243 78.5h0.8v0.8h-0.8zM210.5 71h0.8v0.8h-0.8zM208.5 93.5h0.8v0.8h-0.8zM203 101.5h0.8v0.8h-0.8zM204 84.5h0.8v0.8h-0.8zM206.5 78h0.8v0.8h-0.8zM244 103.5h0.8v0.8h-0.8zM248 82h0.8v0.8h-0.8zM230 87.5h0.8v0.8h-0.8zM238 76.5h0.8v0.8h-0.8zM245 89.5h0.8v0.8h-0.8zM246 92h0.8v0.8h-0.8zM239 70.5h0.8v0.8h-0.8zM222.5 60.5h0.8v0.8h-0.8zM224 80.5h0.8v0.8h-0.8zM241 61h0.8v0.8h-0.8zM277 81.5h0.8v0.8h-0.8zM247.5 102h0.8v0.8h-0.8zM191 79h0.8v0.8h-0.8zM250.5 40h0.8v0.8h-0.8zM240 67h0.8v0.8h-0.8zM221.5 87.5h0.8v0.8h-0.8zM200.5 87h0.8v0.8h-0.8zM219 70h0.8v0.8h-0.8zM233.5 93.5h0.8v0.8h-0.8zM228 70.5h0.8v0.8h-0.8zM232.5 111h0.8v0.8h-0.8zM231.5 99.5h0.8v0.8h-0.8zM225 129h0.8v0.8h-0.8zM204 94h0.8v0.8h-0.8zM236.5 88.5h0.8v0.8h-0.8zM212 63h0.8v0.8h-0.8zM225 85h0.8v0.8h-0.8zM210.5 64h0.8v0.8h-0.8zM237 102h0.8v0.8h-0.8zM220 71h0.8v0.8h-0.8zM217.5 128h0.8v0.8h-0.8zM236 82h0.8v0.8h-0.8zM243.5 124.5h0.8v0.8h-0.8zM246 57.5h0.8v0.8h-0.8zM227 76h0.8v0.8h-0.8zM223.5 61.5h0.8v0.8h-0.8zM222.5 64h0.8v0.8h-0.8zM233.5 84h0.8v0.8h-0.8zM207 52.5h0.8v0.8h-0.8zM221 95h0.8v0.8h-0.8zM236 82h0.8v0.8h-0.8zM217.5 77h0.8v0.8h-0.8zM210 75.5h0.8v0.8h-0.8zM239 80h0.8v0.8h-0.8zM227.5 81h0.8v0.8h-0.8zM231 76h0.8v0.8h-0.8zM228 102h0.8v0.8h-0.8zM241 89h0.8v0.8h-0.8zM248.5 87.5h0.8v0.8h-0.8zM213.5 51.5h0.8v0.8h-0.8zM218 82h0.8v0.8h-0.8zM234.5 102.5h0.8v0.8h-0.8zM220 68.5h0.8v0.8h-0.8zM240 104.5h0.8v0.8h-0.8zM221 89.5h0.8v0.8h-0.8zM249 89h0.8v0.8h-0.8zM227.5 46h0.8v0.8h-0.8zM248.5 95h0.8v0.8h-0.8zM230.5 75h0.8v0.8h-0.8zM209.5 81.5h0.8v0.8h-0.8zM227 103h0.8v0.8h-0.8zM210 109.5h0.8v0.8h-0.8zM229 104.5h0.8v0.8h-0.8zM214 89.5h0.8v0.8h-0.8zM247 85.5h0.8v0.8h-0.8zM206.5 77.5h0.8v0.8h-0.8zM236.5 58h0.8v0.8h-0.8zM206.5 87.5h0.8v0.8h-0.8zM214 95.5h0.8v0.8h-0.8zM210.5 50h0.8v0.8h-0.8zM216.5 110h0.8v0.8h-0.8zM215.5 83h0.8v0.8h-0.8zM232 66h0.8v0.8h-0.8zM245 86.5h0.8v0.8h-0.8zM235 53h0.8v0.8h-0.8zM225.5 79h0.8v0.8h-0.8zM239.5 110h0.8v0.8h-0.8zM224.5 78.5h0.8v0.8h-0.8zM235 111h0.8v0.8h-0.8zM216 94.5h0.8v0.8h-0.8zM224.5 77.5h0.8v0.8h-0.8zM240.5 69h0.8v0.8h-0.8zM212.5 95.5h0.8v0.8h-0.8zM228 78.5h0.8v0.8h-0.8zM226.5 92.5h0.8v0.8h-0.8zM223 97h0.8v0.8h-0.8zM234.5 110h0.8v0.8h-0.8zM247.5 99h0.8v0.8h-0.8zM225.5 85.5h0.8v0.8h-0.8zM225 93.5h0.8v0.8h-0.8zM249 59h0.8v0.8h-0.8zM216 76.5h0.8v0.8h-0.8zM213.5 60.5h0.8v0.8h-0.8zM220.5 106.5h0.8v0.8h-0.8zM239.5 84h0.8v0.8h-0.8zM229 53.5h0.8v0.8h-0.8zM239 91h0.8v0.8h-0.8zM212.5 87h0.8v0.8h-0.8zM225.5 74h0.8v0.8h-0.8zM213.5 71.5h0.8v0.8h-0.8zM214.5 91.5h0.8v0.8h-0.8zM234 89h0.8v0.8h-0.8zM226 76h0.8v0.8h-0.8zM259 50h0.8v0.8h-0.8zM246.5 90h0.8v0.8h-0.8zM229.5 74.5h0.8v0.8h-0.8zM225.5 62h0.8v0.8h-0.8zM207.5 81.5h0.8v0.8h-0.8zM203.5 98.5h0.8v0.8h-0.8zM205.5 88.5h0.8v0.8h-0.8zM231.5 85.5h0.8v0.8h-0.8zM235 97h0.8v0.8h-0.8zM241.5 115.5h0.8v0.8h-0.8zM229 99h0.8v0.8h-0.8zM204 81h0.8v0.8h-0.8zM210.5 108.5h0.8v0.8h-0.8zM263.5 93.5h0.8v0.8h-0.8zM209 81.5h0.8v0.8h-0.8zM229 87h0.8v0.8h-0.8zM245 100.5h0.8v0.8h-0.8zM189 108h0.8v0.8h-0.8zM221 73.5h0.8v0.8h-0.8zM250 79h0.8v0.8h-0.8zM208 59.5h0.8v0.8h-0.8zM229.5 100h0.8v0.8h-0.8zM251 80.5h0.8v0.8h-0.8zM221.5 113h0.8v0.8h-0.8zM222 110h0.8v0.8h-0.8zM232 88h0.8v0.8h-0.8zM225 89h0.8v0.8h-0.8zM221.5 71.5h0.8v0.8h-0.8zM226.5 72h0.8v0.8h-0.8zM233 85h0.8v0.8h-0.8zM224.5 80h0.8v0.8h-0.8zM225 115h0.8v0.8h-0.8zM228.5 73h0.8v0.8h-0.8zM224 95.5h0.8v0.8h-0.8zM225.5 81h0.8v0.8h-0.8zM225 86.5h0.8v0.8h-0.8zM234.5 91.5h0.8v0.8h-0.8zM204 64.5h0.8v0.8h-0.8zM189 98h0.8v0.8h-0.8zM245.5 107h0.8v0.8h-0.8zM231 104h0.8v0.8h-0.8zM228 81.5h0.8v0.8h-0.8zM205.5 69.5h0.8v0.8h-0.8zM220 100h0.8v0.8h-0.8zM253.5 75h0.8v0.8h-0.8zM234 88.5h0.8v0.8h-0.8zM217 52.5h0.8v0.8h-0.8zM217.5 57.5h0.8v0.8h-0.8zM224 81h0.8v0.8h-0.8zM226 80.5h0.8v0.8h-0.8zM236 67h0.8v0.8h-0.8zM242 53.5h0.8v0.8h-0.8zM229.5 90.5h0.8v0.8h-0.8zM216.5 55h0.8v0.8h-0.8zM238 71.5h0.8v0.8h-0.8zM240.5 97.5h0.8v0.8h-0.8zM228.5 83.5h0.8v0.8h-0.8zM243.5 90.5h0.8v0.8h-0.8zM214.5 86.5h0.8v0.8h-0.8zM237 87h0.8v0.8h-0.8zM231.5 81h0.8v0.8h-0.8zM227 66.5h0.8v0.8h-0.8zM207 103.5h0.8v0.8h-0.8zM219 87.5h0.8v0.8h-0.8zM206 86.5h0.8v0.8h-0.8zM213.5 66h0.8v0.8h-0.8zM242.5 104h0.8v0.8h-0.8zM197 88h0.8v0.8h-0.8zM241.5 61.5h0.8v0.8h-0.8zM239 74h0.8v0.8h-0.8zM213.5 77h0.8v0.8h-0.8zM221.5 58.5h0.8v0.8h-0.8zM262 75.5h0.8v0.8h-0.8zM217.5 99h0.8v0.8h-0.8zM227.5 107.5h0.8v0.8h-0.8zM224.5 90h0.8v0.8h-0.8zM230 86.5h0.8v0.8h-0.8zM225.5 81.5h0.8v0.8h-0.8zM253.5 71.5h0.8v0.8h-0.8zM220.5 77.5h0.8v0.8h-0.8zM237 90.5h0.8v0.8h-0.8zM242.5 59.5h0.8v0.8h-0.8zM232.5 80.5h0.8v0.8h-0.8zM224.5 86.5h0.8v0.8h-0.8zM199.5 88.5h0.8v0.8h-0.8zM230.5 58h0.8v0.8h-0.8zM227 111h0.8v0.8h-0.8zM223 94h0.8v0.8h-0.8zM225 69h0.8v0.8h-0.8zM215 76.5h0.8v0.8h-0.8zM248 98h0.8v0.8h-0.8zM218 101.5h0.8v0.8h-0.8zM226.5 71h0.8v0.8h-0.8zM235 67h0.8v0.8h-0.8zM205 106.5h0.8v0.8h-0.8zM201.5 93h0.8v0.8h-0.8zM206 83h0.8v0.8h-0.8zM225.5 75.5h0.8v0.8h-0.8zM196 81.5h0.8v0.8h-0.8zM228 67.5h0.8v0.8h-0.8zM227.5 101h0.8v0.8h-0.8zM224.5 113.5h0.8v0.8h-0.8zM220.5 114.5h0.8v0.8h-0.8zM238 129h0.8v0.8h-0.8zM240.5 115h0.8v0.8h-0.8zM245.5 105h0.8v0.8h-0.8zM242.5 108h0.8v0.8h-0.8zM225.5 119.5h0.8v0.8h-0.8zM234 121h0.8v0.8h-0.8zM217.5 113.5h0.8v0.8h-0.8zM226.5 110h0.8v0.8h-0.8zM213 118.5h0.8v0.8h-0.8zM234 105h0.8v0.8h-0.8zM218.5 106h0.8v0.8h-0.8zM245.5 111h0.8v0.8h-0.8zM228.5 115.5h0.8v0.8h-0.8zM232 113.5h0.8v0.8h-0.8zM239 114h0.8v0.8h-0.8zM240.5 103.5h0.8v0.8h-0.8zM232.5 109.5h0.8v0.8h-0.8zM233 111.5h0.8v0.8h-0.8zM225.5 109.5h0.8v0.8h-0.8zM241 108h0.8v0.8h-0.8zM219.5 116h0.8v0.8h-0.8zM241.5 110h0.8v0.8h-0.8zM233 106h0.8v0.8h-0.8zM230 119.5h0.8v0.8h-0.8zM240 113h0.8v0.8h-0.8zM229 101h0.8v0.8h-0.8zM235 115h0.8v0.8h-0.8zM242.5 126h0.8v0.8h-0.8zM235.5 118.5h0.8v0.8h-0.8zM221 120h0.8v0.8h-0.8zM240.5 121.5h0.8v0.8h-0.8zM238.5 115h0.8v0.8h-0.8zM246.5 107.5h0.8v0.8h-0.8zM238.5 119.5h0.8v0.8h-0.8zM224.5 104h0.8v0.8h-0.8zM236.5 113h0.8v0.8h-0.8zM238 116.5h0.8v0.8h-0.8zM224.5 114.5h0.8v0.8h-0.8zM243 109.5h0.8v0.8h-0.8zM229.5 104.5h0.8v0.8h-0.8zM240 125.5h0.8v0.8h-0.8zM218.5 117.5h0.8v0.8h-0.8zM241 108.5h0.8v0.8h-0.8zM228.5 105h0.8v0.8h-0.8zM224.5 113h0.8v0.8h-0.8zM238.5 113h0.8v0.8h-0.8zM240.5 113.5h0.8v0.8h-0.8zM221 122h0.8v0.8h-0.8zM243.5 107.5h0.8v0.8h-0.8zM249.5 115.5h0.8v0.8h-0.8zM233.5 125h0.8v0.8h-0.8zM208 101h0.8v0.8h-0.8zM239 110.5h0.8v0.8h-0.8zM223 122.5h0.8v0.8h-0.8zM237 103.5h0.8v0.8h-0.8zM226 118h0.8v0.8h-0.8zM249.5 98.5h0.8v0.8h-0.8zM234.5 109.5h0.8v0.8h-0.8zM215 111h0.8v0.8h-0.8zM216.5 108.5h0.8v0.8h-0.8zM248 115.5h0.8v0.8h-0.8zM240 116.5h0.8v0.8h-0.8zM235.5 119h0.8v0.8h-0.8zM221 110h0.8v0.8h-0.8zM240.5 107h0.8v0.8h-0.8zM228 120.5h0.8v0.8h-0.8zM247.5 108h0.8v0.8h-0.8zM224.5 116h0.8v0.8h-0.8zM235 107.5h0.8v0.8h-0.8zM238 116h0.8v0.8h-0.8zM245.5 118h0.8v0.8h-0.8zM243 107.5h0.8v0.8h-0.8zM235.5 113h0.8v0.8h-0.8zM227 114h0.8v0.8h-0.8zM235 112h0.8v0.8h-0.8zM227.5 118h0.8v0.8h-0.8zM217 118h0.8v0.8h-0.8zM232.5 114h0.8v0.8h-0.8zM209 124h0.8v0.8h-0.8zM215.5 106.5h0.8v0.8h-0.8zM238.5 108h0.8v0.8h-0.8zM228.5 97h0.8v0.8h-0.8zM228 114h0.8v0.8h-0.8zM239 110.5h0.8v0.8h-0.8zM234.5 115.5h0.8v0.8h-0.8zM226 107h0.8v0.8h-0.8zM251.5 106.5h0.8v0.8h-0.8zM244.5 113h0.8v0.8h-0.8zM247 108h0.8v0.8h-0.8zM237.5 114.5h0.8v0.8h-0.8zM230 114.5h0.8v0.8h-0.8zM225 112h0.8v0.8h-0.8zM228.5 117.5h0.8v0.8h-0.8zM231.5 103h0.8v0.8h-0.8zM229 111.5h0.8v0.8h-0.8zM223.5 121.5h0.8v0.8h-0.8zM236.5 118h0.8v0.8h-0.8zM225 109.5h0.8v0.8h-0.8zM242.5 102.5h0.8v0.8h-0.8zM236 113h0.8v0.8h-0.8zM227.5 113h0.8v0.8h-0.8zM222 114h0.8v0.8h-0.8zM220.5 103.5h0.8v0.8h-0.8zM246 107.5h0.8v0.8h-0.8zM211.5 119h0.8v0.8h-0.8zM225 88h0.8v0.8h-0.8zM232 118.5h0.8v0.8h-0.8zM236 124h0.8v0.8h-0.8zM231 116.5h0.8v0.8h-0.8zM222.5 113.5h0.8v0.8h-0.8zM247.5 116h0.8v0.8h-0.8zM234 98.5h0.8v0.8h-0.8zM229 103.5h0.8v0.8h-0.8zM240 107h0.8v0.8h-0.8zM236 105.5h0.8v0.8h-0.8zM251 104.5h0.8v0.8h-0.8zM234.5 106.5h0.8v0.8h-0.8zM238.5 119h0.8v0.8h-0.8zM241 99h0.8v0.8h-0.8zM234.5 97.5h0.8v0.8h-0.8zM251 113h0.8v0.8h-0.8zM228 117h0.8v0.8h-0.8zM237.5 104h0.8v0.8h-0.8zM248.5 110.5h0.8v0.8h-0.8zM215 122h0.8v0.8h-0.8zM247.5 121h0.8v0.8h-0.8zM238 106h0.8v0.8h-0.8zM241.5 125h0.8v0.8h-0.8zM240.5 123.5h0.8v0.8h-0.8zM225 119.5h0.8v0.8h-0.8zM242 102h0.8v0.8h-0.8zM216.5 107.5h0.8v0.8h-0.8zM233.5 115.5h0.8v0.8h-0.8zM230.5 112h0.8v0.8h-0.8zM231.5 113h0.8v0.8h-0.8zM238.5 116h0.8v0.8h-0.8zM232 114h0.8v0.8h-0.8zM228 118h0.8v0.8h-0.8zM227.5 124h0.8v0.8h-0.8zM232.5 114.5h0.8v0.8h-0.8zM225 110h0.8v0.8h-0.8zM234 112.5h0.8v0.8h-0.8zM226.5 104.5h0.8v0.8h-0.8zM233 113.5h0.8v0.8h-0.8zM238 121h0.8v0.8h-0.8zM272.5 128h0.8v0.8h-0.8zM208 117.5h0.8v0.8h-0.8zM234 75h0.8v0.8h-0.8zM255.5 85h0.8v0.8h-0.8zM217.5 78h0.8v0.8h-0.8zM231 48.5h0.8v0.8h-0.8zM188.5 127h0.8v0.8h-0.8zM251 56h0.8v0.8h-0.8zM201 55h0.8v0.8h-0.8zM210 44.5h0.8v0.8h-0.8zM207 124.5h0.8v0.8h-0.8zM254.5 122h0.8v0.8h-0.8zM223.5 95h0.8v0.8h-0.8zM281.5 84.5h0.8v0.8h-0.8zM262.5 90h0.8v0.8h-0.8zM274.5 69.5h0.8v0.8h-0.8zM251.5 119.5h0.8v0.8h-0.8zM207.5 87.5h0.8v0.8h-0.8zM216.5 116h0.8v0.8h-0.8zM220.5 100.5h0.8v0.8h-0.8zM204.5 99h0.8v0.8h-0.8zM230.5 98.5h0.8v0.8h-0.8zM261.5 108.5h0.8v0.8h-0.8zM235.5 112h0.8v0.8h-0.8zM201 99.5h0.8v0.8h-0.8zM256 65h0.8v0.8h-0.8zM278.5 59.5h0.8v0.8h-0.8zM231 53h0.8v0.8h-0.8zM198.5 116h0.8v0.8h-0.8zM256 80.5h0.8v0.8h-0.8zM237.5 34h0.8v0.8h-0.8zM263.5 91.5h0.8v0.8h-0.8zM244 117h0.8v0.8h-0.8zM269.5 122h0.8v0.8h-0.8zM186.5 124h0.8v0.8h-0.8zM248 117.5h0.8v0.8h-0.8zM243.5 51h0.8v0.8h-0.8zM260.5 83.5h0.8v0.8h-0.8zM206 102h0.8v0.8h-0.8zM242 96h0.8v0.8h-0.8zM211 68.5h0.8v0.8h-0.8zM258 37.5h0.8v0.8h-0.8zM192.5 119.5h0.8v0.8h-0.8zM200.5 108.5h0.8v0.8h-0.8zM276.5 117h0.8v0.8h-0.8zM256.5 71h0.8v0.8h-0.8zM209.5 58h0.8v0.8h-0.8zM215.5 115h0.8v0.8h-0.8zM227 97h0.8v0.8h-0.8zM207.5 98h0.8v0.8h-0.8zM198.5 37.5h0.8v0.8h-0.8zM279 44.5h0.8v0.8h-0.8zM205.5 108h0.8v0.8h-0.8zM257.5 119h0.8v0.8h-0.8zM254.5 68h0.8v0.8h-0.8zM256.5 117.5h0.8v0.8h-0.8zM214.5 51h0.8v0.8h-0.8zM206.5 89.5h0.8v0.8h-0.8zM245 67.5h0.8v0.8h-0.8zM281.5 85.5h0.8v0.8h-0.8zM222.5 53h0.8v0.8h-0.8zM206 71h0.8v0.8h-0.8zM234.5 78.5h0.8v0.8h-0.8zM203.5 89.5h0.8v0.8h-0.8zM218.5 53.5h0.8v0.8h-0.8zM256.5 92h0.8v0.8h-0.8zM208.5 54.5h0.8v0.8h-0.8zM228.5 127.5h0.8v0.8h-0.8zM247.5 57h0.8v0.8h-0.8zM200.5 44.5h0.8v0.8h-0.8zM199 60h0.8v0.8h-0.8zM278.5 88.5h0.8v0.8h-0.8zM269 77h0.8v0.8h-0.8zM271 97.5h0.8v0.8h-0.8zM240.5 44.5h0.8v0.8h-0.8zM234 73.5h0.8v0.8h-0.8zM195.5 87.5h0.8v0.8h-0.8zM208.5 127.5h0.8v0.8h-0.8zM196 119h0.8v0.8h-0.8zM236.5 89h0.8v0.8h-0.8zM227.5 63h0.8v0.8h-0.8zM201.5 45h0.8v0.8h-0.8zM194.5 94.5h0.8v0.8h-0.8zM240.5 88h0.8v0.8h-0.8zM198.5 79.5h0.8v0.8h-0.8zM186 103h0.8v0.8h-0.8zM207 78.5h0.8v0.8h-0.8zM263 109h0.8v0.8h-0.8zM249 61.5h0.8v0.8h-0.8zM235 65.5h0.8v0.8h-0.8zM207 121.5h0.8v0.8h-0.8zM230.5 89.5h0.8v0.8h-0.8zM186 125.5h0.8v0.8h-0.8zM216.5 40h0.8v0.8h-0.8zM231.5 123h0.8v0.8h-0.8zM194 39.5h0.8v0.8h-0.8zM241.5 106h0.8v0.8h-0.8zM228 89.5h0.8v0.8h-0.8zM190.5 45.5h0.8v0.8h-0.8zM199.5 63h0.8v0.8h-0.8zM232.5 80h0.8v0.8h-0.8zM272 87.5h0.8v0.8h-0.8zM190.5 81h0.8v0.8h-0.8zM239.5 36.5h0.8v0.8h-0.8zM212.5 129.5h0.8v0.8h-0.8zM222.5 68h0.8v0.8h-0.8zM274.5 103.5h0.8v0.8h-0.8zM246 123h0.8v0.8h-0.8zM212.5 127.5h0.8v0.8h-0.8zM229 51.5h0.8v0.8h-0.8z"/>
<path fill="#8a8a8a" d="M223.5 76h0.8v0.8h-0.8zM226.5 63h0.8v0.8h-0.8zM223 64.5h0.8v0.8h-0.8zM221.5 79.5h0.8v0.8h-0.8zM217 82.5h0.8v0.8h-0.8zM225.5 83h0.8v0.8h-0.8zM232 89.5h0.8v0.8h-0.8zM230 82.5h0.8v0.8h-0.8zM223.5 80.5h0.8v0.8h-0.8zM217.5 70h0.8v0.8h-0.8zM231 72.5h0.8v0.8h-0.8zM228.5 59.5h0.8v0.8h-0.8zM235.5 65.5h0.8v0.8h-0.8zM228 73h0.8v0.8h-0.8zM232 68.5h0.8v0.8h-0.8zM216.5 48.5h0.8v0.8h-0.8zM222.5 57.5h0.8v0.8h-0.8zM229 92h0.8v0.8h-0.8zM207 56.5h0.8v0.8h-0.8zM227 89.5h0.8v0.8h-0.8zM227 77.5h0.8v0.8h-0.8zM229 80.5h0.8v0.8h-0.8zM238 81h0.8v0.8h-0.8zM215 67h0.8v0.8h-0.8zM226.5 62.5h0.8v0.8h-0.8zM222.5 66.5h0.8v0.8h-0.8zM219 82.5h0.8v0.8h-0.8zM221.5 59h0.8v0.8h-0.8zM219 73.5h0.8v0.8h-0.8zM241.5 76.5h0.8v0.8h-0.8zM236.5 79.5h0.8v0.8h-0.8zM207.5 78h0.8v0.8h-0.8zM218 55.5h0.8v0.8h-0.8zM216 96.5h0.8v0.8h-0.8zM212 65h0.8v0.8h-0.8zM234 82h0.8v0.8h-0.8zM211 72h0.8v0.8h-0.8zM220.5 70.5h0.8v0.8h-0.8zM231 65.5h0.8v0.8h-0.8zM222 92.5h0.8v0.8h-0.8zM210 68.5h0.8v0.8h-0.8zM228.5 57h0.8v0.8h-0.8zM219.5 56h0.8v0.8h-0.8zM226 65h0.8v0.8h-0.8zM231 86.5h0.8v0.8h-0.8zM225 68h0.8v0.8h-0.8zM227 74h0.8v0.8h-0.8zM215 87h0.8v0.8h-0.8zM226.5 83.5h0.8v0.8h-0.8zM214 84.5h0.8v0.8h-0.8zM241.5 81h0.8v0.8h-0.8zM213 73.5h0.8v0.8h-0.8zM224 76h0.8v0.8h-0.8zM223 79.5h0.8v0.8h-0.8zM221 76h0.8v0.8h-0.8zM219 74.5h0.8v0.8h-0.8zM232.5 66.5h0.8v0.8h-0.8zM230 61.5h0.8v0.8h-0.8zM221.5 70h0.8v0.8h-0.8zM235 63h0.8v0.8h-0.8zM234.5 54h0.8v0.8h-0.8zM223.5 85h0.8v0.8h-0.8zM230.5 60h0.8v0.8h-0.8zM215 84.5h0.8v0.8h-0.8zM214.5 80.5h0.8v0.8h-0.8zM220.5 73h0.8v0.8h-0.8zM243.5 93.5h0.8v0.8h-0.8zM231.5 55h0.8v0.8h-0.8zM227.5 74h0.8v0.8h-0.8zM224 90.5h0.8v0.8h-0.8zM211 77.5h0.8v0.8h-0.8zM225.5 63h0.8v0.8h-0.8zM238.5 56.5h0.8v0.8h-0.8zM225 74h0.8v0.8h-0.8zM207 54.5h0.8v0.8h-0.8zM217 83.5h0.8v0.8h-0.8zM232.5 81h0.8v0.8h-0.8zM226.5 44h0.8v0.8h-0.8zM226.5 66.5h0.8v0.8h-0.8zM234 91h0.8v0.8h-0.8zM243 82.5h0.8v0.8h-0.8zM231 59.5h0.8v0.8h-0.8zM225.5 57h0.8v0.8h-0.8zM232 57.5h0.8v0.8h-0.8zM223 62h0.8v0.8h-0.8zM221 79h0.8v0.8h-0.8zM220 76h0.8v0.8h-0.8zM216.5 91.5h0.8v0.8h-0.8zM219.5 86.5h0.8v0.8h-0.8zM242 41h0.8v0.8h-0.8zM216.5 70.5h0.8v0.8h-0.8zM234 66.5h0.8v0.8h-0.8zM227.5 63.5h0.8v0.8h-0.8zM229 57h0.8v0.8h-0.8zM209 97h0.8v0.8h-0.8zM226 61h0.8v0.8h-0.8zM242.5 87h0.8v0.8h-0.8zM234 67.5h0.8v0.8h-0.8zM229.5 79.5h0.8v0.8h-0.8zM211 81h0.8v0.8h-0.8zM223 90h0.8v0.8h-0.8zM235 64.5h0.8v0.8h-0.8zM219.5 75.5h0.8v0.8h-0.8zM230 67.5h0.8v0.8h-0.8zM223.5 81h0.8v0.8h-0.8zM228 88.5h0.8v0.8h-0.8zM226.5 61h0.8v0.8h-0.8zM210 83.5h0.8v0.8h-0.8zM222 68.5h0.8v0.8h-0.8zM222 52h0.8v0.8h-0.8zM221.5 38.5h0.8v0.8h-0.8zM221.5 61h0.8v0.8h-0.8zM239.5 79h0.8v0.8h-0.8zM223 75h0.8v0.8h-0.8zM230.5 63h0.8v0.8h-0.8zM222.5 68h0.8v0.8h-0.8zM245 74h0.8v0.8h-0.8zM208.5 83.5h0.8v0.8h-0.8zM245.5 60h0.8v0.8h-0.8zM253 72h0.8v0.8h-0.8zM232.5 65.5h0.8v0.8h-0.8zM222.5 56.5h0.8v0.8h-0.8zM216 44h0.8v0.8h-0.8zM234 57.5h0.8v0.8h-0.8zM227.5 77h0.8v0.8h-0.8zM219 73.5h0.8v0.8h-0.8zM223.5 66h0.8v0.8h-0.8zM225 73.5h0.8v0.8h-0.8zM216 55.5h0.8v0.8h-0.8zM217.5 74.5h0.8v0.8h-0.8zM236 92.5h0.8v0.8h-0.8zM227 85.5h0.8v0.8h-0.8zM225.5 87.5h0.8v0.8h-0.8zM225.5 78h0.8v0.8h-0.8zM222 72.5h0.8v0.8h-0.8zM240 56.5h0.8v0.8h-0.8zM224.5 65h0.8v0.8h-0.8zM232.5 97h0.8v0.8h-0.8zM222 35.5h0.8v0.8h-0.8zM229.5 81h0.8v0.8h-0.8zM210.5 69.5h0.8v0.8h-0.8zM224 41.5h0.8v0.8h-0.8zM230 78.5h0.8v0.8h-0.8zM226.5 58.5h0.8v0.8h-0.8zM218.5 64h0.8v0.8h-0.8zM228.5 59.5h0.8v0.8h-0.8zM236.5 78h0.8v0.8h-0.8zM206.5 95.5h0.8v0.8h-0.8zM225.5 65.5h0.8v0.8h-0.8zM225.5 48h0.8v0.8h-0.8zM226 39.5h0.8v0.8h-0.8zM216 91h0.8v0.8h-0.8zM235 68h0.8v0.8h-0.8zM216.5 85h0.8v0.8h-0.8zM224 75.5h0.8v0.8h-0.8zM229.5 58h0.8v0.8h-0.8zM231 44h0.8v0.8h-0.8zM236.5 51.5h0.8v0.8h-0.8zM219 63.5h0.8v0.8h-0.8zM230.5 82.5h0.8v0.8h-0.8zM227.5 80h0.8v0.8h-0.8zM228.5 71.5h0.8v0.8h-0.8zM208.5 41.5h0.8v0.8h-0.8zM205 72h0.8v0.8h-0.8zM222.5 70.5h0.8v0.8h-0.8zM226 69.5h0.8v0.8h-0.8zM216 52h0.8v0.8h-0.8zM208.5 89h0.8v0.8h-0.8zM232 54h0.8v0.8h-0.8zM222 78.5h0.8v0.8h-0.8zM237.5 64.5h0.8v0.8h-0.8zM225.5 88h0.8v0.8h-0.8zM210 62.5h0.8v0.8h-0.8zM224 62.5h0.8v0.8h-0.8zM242 84h0.8v0.8h-0.8zM226 59.5h0.8v0.8h-0.8zM231.5 81h0.8v0.8h-0.8zM220 66.5h0.8v0.8h-0.8zM212 71.5h0.8v0.8h-0.8zM231.5 86h0.8v0.8h-0.8zM229 83.5h0.8v0.8h-0.8zM219.5 66h0.8v0.8h-0.8zM234.5 78.5h0.8v0.8h-0.8zM217.5 79h0.8v0.8h-0.8zM231 82h0.8v0.8h-0.8zM225 65.5h0.8v0.8h-0.8zM227.5 95.5h0.8v0.8h-0.8zM225.5 63.5h0.8v0.8h-0.8zM227 55.5h0.8v0.8h-0.8zM226 68.5h0.8v0.8h-0.8zM232 73.5h0.8v0.8h-0.8zM233 103.5h0.8v0.8h-0.8zM222.5 61h0.8v0.8h-0.8zM228 71h0.8v0.8h-0.8zM225.5 64h0.8v0.8h-0.8zM229 73.5h0.8v0.8h-0.8zM206 69h0.8v0.8h-0.8zM227 88.5h0.8v0.8h-0.8zM219.5 61.5h0.8v0.8h-0.8zM234 64h0.8v0.8h-0.8zM225 78.5h0.8v0.8h-0.8zM230.5 72.5h0.8v0.8h-0.8zM215 86h0.8v0.8h-0.8zM220.5 65h0.8v0.8h-0.8zM241 84h0.8v0.8h-0.8zM215.5 66h0.8v0.8h-0.8zM222 62h0.8v0.8h-0.8zM208 83h0.8v0.8h-0.8zM230.5 75.5h0.8v0.8h-0.8zM221 75h0.8v0.8h-0.8zM229.5 58h0.8v0.8h-0.8zM221.5 64.5h0.8v0.8h-0.8zM230 76h0.8v0.8h-0.8zM213.5 64h0.8v0.8h-0.8zM239 59h0.8v0.8h-0.8zM225.5 64h0.8v0.8h-0.8zM234.5 71.5h0.8v0.8h-0.8zM220.5 56.5h0.8v0.8h-0.8zM222 83.5h0.8v0.8h-0.8zM255.5 58.5h0.8v0.8h-0.8zM263 72h0.8v0.8h-0.8zM241.5 77h0.8v0.8h-0.8zM245 68h0.8v0.8h-0.8zM245 74h0.8v0.8h-0.8zM246 54h0.8v0.8h-0.8zM254.5 68.5h0.8v0.8h-0.8zM260 82h0.8v0.8h-0.8zM255 77.5h0.8v0.8h-0.8zM261 71h0.8v0.8h-0.8zM242 79.5h0.8v0.8h-0.8zM227.5 70.5h0.8v0.8h-0.8zM252 70h0.8v0.8h-0.8zM260.5 84h0.8v0.8h-0.8zM251 70h0.8v0.8h-0.8zM259 66.5h0.8v0.8h-0.8zM246.5 84.5h0.8v0.8h-0.8zM255 100.5h0.8v0.8h-0.8zM248.5 52h0.8v0.8h-0.8zM255.5 90.5h0.8v0.8h-0.8zM248.5 94.5h0.8v0.8h-0.8zM265 67h0.8v0.8h-0.8zM246 59.5h0.8v0.8h-0.8zM254.5 84h0.8v0.8h-0.8zM255 60h0.8v0.8h-0.8zM243.5 57.5h0.8v0.8h-0.8zM236.5 58.5h0.8v0.8h-0.8zM237 73h0.8v0.8h-0.8zM253.5 83h0.8v0.8h-0.8zM250 66.5h0.8v0.8h-0.8zM250 82h0.8v0.8h-0.8zM247.5 75.5h0.8v0.8h-0.8zM247.5 68.5h0.8v0.8h-0.8zM250.5 61h0.8v0.8h-0.8zM258.5 55.5h0.8v0.8h-0.8zM254 58h0.8v0.8h-0.8zM262.5 86h0.8v0.8h-0.8zM243.5 69.5h0.8v0.8h-0.8zM240.5 74.5h0.8v0.8h-0.8zM253.5 106.5h0.8v0.8h-0.8zM238.5 90.5h0.8v0.8h-0.8zM245 78.5h0.8v0.8h-0.8zM257 81.5h0.8v0.8h-0.8zM253.5 72.5h0.8v0.8h-0.8zM250 77h0.8v0.8h-0.8zM260 57h0.8v0.8h-0.8zM246 59.5h0.8v0.8h-0.8zM242 65h0.8v0.8h-0.8zM259 101.5h0.8v0.8h-0.8zM261 60.5h0.8v0.8h-0.8zM250.5 61h0.8v0.8h-0.8zM253.5 90.5h0.8v0.8h-0.8zM255 85.5h0.8v0.8h-0.8zM249 50.5h0.8v0.8h-0.8zM233.5 74h0.8v0.8h-0.8zM254.5 90.5h0.8v0.8h-0.8zM247 76h0.8v0.8h-0.8zM252 88h0.8v0.8h-0.8zM249.5 61.5h0.8v0.8h-0.8zM259 80h0.8v0.8h-0.8zM253 59.5h0.8v0.8h-0.8zM250 54h0.8v0.8h-0.8zM233.5 72h0.8v0.8h-0.8zM246.5 82h0.8v0.8h-0.8zM262 74.5h0.8v0.8h-0.8zM264.5 67.5h0.8v0.8h-0.8zM256.5 59.5h0.8v0.8h-0.8zM251 71h0.8v0.8h-0.8zM248.5 82.5h0.8v0.8h-0.8zM234.5 76.5h0.8v0.8h-0.8zM243.5 76.5h0.8v0.8h-0.8zM253 70.5h0.8v0.8h-0.8zM247 61h0.8v0.8h-0.8zM254.5 66.5h0.8v0.8h-0.8zM253.5 57.5h0.8v0.8h-0.8zM261 62.5h0.8v0.8h-0.8zM259.5 69.5h0.8v0.8h-0.8zM254.5 73h0.8v0.8h-0.8zM255.5 75h0.8v0.8h-0.8zM260.5 83.5h0.8v0.8h-0.8zM255.5 95.5h0.8v0.8h-0.8zM244.5 91h0.8v0.8h-0.8zM250.5 57h0.8v0.8h-0.8zM254 72.5h0.8v0.8h-0.8zM264 69h0.8v0.8h-0.8zM250.5 78h0.8v0.8h-0.8zM234.5 81.5h0.8v0.8h-0.8zM242 92.5h0.8v0.8h-0.8zM263.5 75h0.8v0.8h-0.8zM237 77h0.8v0.8h-0.8zM251.5 84h0.8v0.8h-0.8zM247.5 60.5h0.8v0.8h-0.8zM249 63.5h0.8v0.8h-0.8zM264.5 66.5h0.8v0.8h-0.8zM244.5 74.5h0.8v0.8h-0.8zM240 69.5h0.8v0.8h-0.8zM249 69h0.8v0.8h-0.8zM248 90.5h0.8v0.8h-0.8zM253.5 58.5h0.8v0.8h-0.8zM246.5 84h0.8v0.8h-0.8zM244.5 76h0.8v0.8h-0.8zM250 81.5h0.8v0.8h-0.8zM248.5 73.5h0.8v0.8h-0.8zM243 79.5h0.8v0.8h-0.8zM242.5 96.5h0.8v0.8h-0.8zM250 72h0.8v0.8h-0.8zM256.5 74h0.8v0.8h-0.8zM250.5 74.5h0.8v0.8h-0.8zM244 63.5h0.8v0.8h-0.8zM244.5 89h0.8v0.8h-0.8zM245 70h0.8v0.8h-0.8zM246.5 83.5h0.8v0.8h-0.8zM266 63.5h0.8v0.8h-0.8zM254.5 76.5h0.8v0.8h-0.8zM247.5 81h0.8v0.8h-0.8zM239.5 85h0.8v0.8h-0.8zM252 62.5h0.8v0.8h-0.8zM263 85.5h0.8v0.8h-0.8zM259.5 57h0.8v0.8h-0.8zM248 68.5h0.8v0.8h-0.8zM255 91.5h0.8v0.8h-0.8zM234.5 75h0.8v0.8h-0.8zM249 87.5h0.8v0.8h-0.8zM249.5 59.5h0.8v0.8h-0.8zM248.5 62.5h0.8v0.8h-0.8zM243.5 75.5h0.8v0.8h-0.8zM246 78.5h0.8v0.8h-0.8zM237.5 103.5h0.8v0.8h-0.8zM260.5 84h0.8v0.8h-0.8zM239.5 48.5h0.8v0.8h-0.8zM243 72h0.8v0.8h-0.8zM268.5 91h0.8v0.8h-0.8zM245.5 90h0.8v0.8h-0.8zM260 75h0.8v0.8h-0.8zM260 79h0.8v0.8h-0.8zM244.5 60.5h0.8v0.8h-0.8zM249 87h0.8v0.8h-0.8zM239 55h0.8v0.8h-0.8zM254.5 41.5h0.8v0.8h-0.8zM265 69.5h0.8v0.8h-0.8zM256 98h0.8v0.8h-0.8zM238 62h0.8v0.8h-0.8zM268.5 71.5h0.8v0.8h-0.8zM249 78h0.8v0.8h-0.8zM258.5 91.5h0.8v0.8h-0.8zM251 71h0.8v0.8h-0.8zM249.5 78.5h0.8v0.8h-0.8zM260.5 76.5h0.8v0.8h-0.8zM265 64.5h0.8v0.8h-0.8zM254.5 96.5h0.8v0.8h-0.8zM260.5 79h0.8v0.8h-0.8zM243 66.5h0.8v0.8h-0.8zM248.5 79h0.8v0.8h-0.8zM248 57h0.8v0.8h-0.8zM244 81.5h0.8v0.8h-0.8zM257 58h0.8v0.8h-0.8zM247 54.5h0.8v0.8h-0.8zM245.5 118.5h0.8v0.8h-0.8zM250.5 71h0.8v0.8h-0.8zM245 60h0.8v0.8h-0.8zM235 74.5h0.8v0.8h-0.8zM247.5 93h0.8v0.8h-0.8zM236.5 80.5h0.8v0.8h-0.8zM261 51h0.8v0.8h-0.8zM255.5 55h0.8v0.8h-0.8zM254.5 93h0.8v0.8h-0.8zM250 78.5h0.8v0.8h-0.8zM244.5 78.5h0.8v0.8h-0.8zM259.5 73h0.8v0.8h-0.8zM249 80h0.8v0.8h-0.8zM256.5 55h0.8v0.8h-0.8zM250.5 66.5h0.8v0.8h-0.8zM254 87.5h0.8v0.8h-0.8zM252.5 91h0.8v0.8h-0.8zM242 70h0.8v0.8h-0.8zM242 75.5h0.8v0.8h-0.8zM251 72.5h0.8v0.8h-0.8zM240 74h0.8v0.8h-0.8zM246.5 82.5h0.8v0.8h-0.8zM248 89.5h0.8v0.8h-0.8zM252 52h0.8v0.8h-0.8zM248.5 57.5h0.8v0.8h-0.8zM258 92.5h0.8v0.8h-0.8zM250 80.5h0.8v0.8h-0.8zM238 47.5h0.8v0.8h-0.8zM245.5 72h0.8v0.8h-0.8zM237.5 76h0.8v0.8h-0.8zM252.5 83h0.8v0.8h-0.8zM262.5 85h0.8v0.8h-0.8zM247 76.5h0.8v0.8h-0.8zM255 62h0.8v0.8h-0.8zM261 86h0.8v0.8h-0.8zM248 67h0.8v0.8h-0.8zM257.5 97h0.8v0.8h-0.8zM258 77.5h0.8v0.8h-0.8zM256 64h0.8v0.8h-0.8zM256 56h0.8v0.8h-0.8zM253.5 82h0.8v0.8h-0.8zM237.5 98.5h0.8v0.8h-0.8zM242.5 57h0.8v0.8h-0.8zM247 52h0.8v0.8h-0.8zM249 62.5h0.8v0.8h-0.8zM263 54.5h0.8v0.8h-0.8zM259 50h0.8v0.8h-0.8zM252 47.5h0.8v0.8h-0.8zM256.5 48h0.8v0.8h-0.8zM248 43h0.8v0.8h-0.8zM249.5 52.5h0.8v0.8h-0.8zM247.5 52h0.8v0.8h-0.8zM248.5 44.5h0.8v0.8h-0.8zM242 48h0.8v0.8h-0.8zM248.5 48.5h0.8v0.8h-0.8zM259.5 41h0.8v0.8h-0.8zM234 58h0.8v0.8h-0.8zM247 49.5h0.8v0.8h-0.8zM276 49h0.8v0.8h-0.8zM258 52h0.8v0.8h-0.8zM253.5 53h0.8v0.8h-0.8zM245 47.5h0.8v0.8h-0.8zM249.5 58h0.8v0.8h-0.8zM264 42h0.8v0.8h-0.8zM261.5 45h0.8v0.8h-0.8zM260.5 44.5h0.8v0.8h-0.8zM259.5 46h0.8v0.8h-0.8zM248.5 49.5h0.8v0.8h-0.8zM252 46h0.8v0.8h-0.8zM241.5 61h0.8v0.8h-0.8zM245 41.5h0.8v0.8h-0.8zM227 42h0.8v0.8h-0.8zM248 57h0.8v0.8h-0.8zM236.5 52h0.8v0.8h-0.8zM236.5 59.5h0.8v0.8h-0.8zM255 49.5h0.8v0.8h-0.8zM265.5 53h0.8v0.8h-0.8zM259.5 43.5h0.8v0.8h-0.8zM238 48h0.8v0.8h-0.8zM238.5 62.5h0.8v0.8h-0.8zM250 50h0.8v0.8h-0.8zM256 58h0.8v0.8h-0.8zM248 56h0.8v0.8h-0.8zM254 47.5h0.8v0.8h-0.8zM236 58.5h0.8v0.8h-0.8zM244 49h0.8v0.8h-0.8zM253.5 49h0.8v0.8h-0.8zM260.5 43h0.8v0.8h-0.8zM253.5 50h0.8v0.8h-0.8zM252.5 52h0.8v0.8h-0.8zM251 55.5h0.8v0.8h-0.8zM243 44h0.8v0.8h-0.8zM253 55h0.8v0.8h-0.8zM246 47.5h0.8v0.8h-0.8zM248.5 51h0.8v0.8h-0.8zM250.5 51h0.8v0.8h-0.8zM238.5 61h0.8v0.8h-0.8zM255.5 43.5h0.8v0.8h-0.8zM264 47.5h0.8v0.8h-0.8zM262.5 39.5h0.8v0.8h-0.8zM266 45h0.8v0.8h-0.8zM234.5 58.5h0.8v0.8h-0.8zM247.5 45h0.8v0.8h-0.8zM246.5 40.5h0.8v0.8h-0.8zM256.5 46.5h0.8v0.8h-0.8zM251 56.5h0.8v0.8h-0.8zM251 46h0.8v0.8h-0.8zM243 51.5h0.8v0.8h-0.8zM260 43.5h0.8v0.8h-0.8zM243.5 56.5h0.8v0.8h-0.8zM252 49h0.8v0.8h-0.8zM268 37.5h0.8v0.8h-0.8zM250.5 40h0.8v0.8h-0.8zM249.5 52.5h0.8v0.8h-0.8zM259.5 40h0.8v0.8h-0.8zM260 50.5h0.8v0.8h-0.8zM254 61h0.8v0.8h-0.8zM250 45h0.8v0.8h-0.8zM252.5 39h0.8v0.8h-0.8zM266.5 49.5h0.8v0.8h-0.8zM249 53h0.8v0.8h-0.8zM259 56.5h0.8v0.8h-0.8zM244 44.5h0.8v0.8h-0.8zM233 53.5h0.8v0.8h-0.8zM237.5 52.5h0.8v0.8h-0.8zM254.5 46h0.8v0.8h-0.8zM245 57.5h0.8v0.8h-0.8zM250 50.5h0.8v0.8h-0.8zM258 40.5h0.8v0.8h-0.8zM247 63.5h0.8v0.8h-0.8zM248.5 44.5h0.8v0.8h-0.8zM248.5 47h0.8v0.8h-0.8zM240 50.5h0.8v0.8h-0.8zM251 49h0.8v0.8h-0.8zM253.5 39.5h0.8v0.8h-0.8zM239.5 57h0.8v0.8h-0.8zM249.5 56h0.8v0.8h-0.8zM252 41.5h0.8v0.8h-0.8zM254.5 43h0.8v0.8h-0.8zM255.5 54h0.8v0.8h-0.8zM270 43h0.8v0.8h-0.8zM258 48.5h0.8v0.8h-0.8zM254.5 35h0.8v0.8h-0.8zM248.5 51.5h0.8v0.8h-0.8zM254.5 44h0.8v0.8h-0.8zM260.5 52h0.8v0.8h-0.8zM251.5 48h0.8v0.8h-0.8zM248.5 50.5h0.8v0.8h-0.8zM264 53h0.8v0.8h-0.8zM246 46h0.8v0.8h-0.8zM246 56h0.8v0.8h-0.8zM254 50h0.8v0.8h-0.8zM256 49.5h0.8v0.8h-0.8zM249 44.5h0.8v0.8h-0.8zM246 51.5h0.8v0.8h-0.8zM254.5 46.5h0.8v0.8h-0.8zM249.5 56.5h0.8v0.8h-0.8zM247.5 51.5h0.8v0.8h-0.8zM247.5 46h0.8v0.8h-0.8zM237.5 50.5h0.8v0.8h-0.8zM245.5 55.5h0.8v0.8h-0.8zM240.5 50.5h0.8v0.8h-0.8zM257 47h0.8v0.8h-0.8zM257 51.5h0.8v0.8h-0.8zM236 51.5h0.8v0.8h-0.8zM245 58h0.8v0.8h-0.8zM251 51.5h0.8v0.8h-0.8zM266 43h0.8v0.8h-0.8zM252.5 51h0.8v0.8h-0.8zM251 55.5h0.8v0.8h-0.8zM260 51.5h0.8v0.8h-0.8zM251.5 47.5h0.8v0.8h-0.8zM248 48.5h0.8v0.8h-0.8zM237.5 55h0.8v0.8h-0.8zM258.5 47h0.8v0.8h-0.8zM247 50.5h0.8v0.8h-0.8zM254 50h0.8v0.8h-0.8zM266 40h0.8v0.8h-0.8zM255.5 51.5h0.8v0.8h-0.8zM251.5 48h0.8v0.8h-0.8zM241.5 49h0.8v0.8h-0.8zM259.5 54h0.8v0.8h-0.8zM246.5 53h0.8v0.8h-0.8zM257.5 52.5h0.8v0.8h-0.8zM254 50.5h0.8v0.8h-0.8zM257.5 41h0.8v0.8h-0.8zM249.5 40.5h0.8v0.8h-0.8zM233 50.5h0.8v0.8h-0.8zM238.5 55.5h0.8v0.8h-0.8zM259.5 45h0.8v0.8h-0.8zM250 48.5h0.8v0.8h-0.8zM249.5 50.5h0.8v0.8h-0.8zM254 46h0.8v0.8h-0.8zM244 49h0.8v0.8h-0.8zM257.5 45h0.8v0.8h-0.8zM263.5 44h0.8v0.8h-0.8zM261.5 40h0.8v0.8h-0.8zM246 53h0.8v0.8h-0.8zM255.5 47h0.8v0.8h-0.8zM269 44h0.8v0.8h-0.8zM253 45.5h0.8v0.8h-0.8zM267 48.5h0.8v0.8h-0.8zM252.5 40.5h0.8v0.8h-0.8zM254 46h0.8v0.8h-0.8zM256 52h0.8v0.8h-0.8zM245 52h0.8v0.8h-0.8zM259 47.5h0.8v0.8h-0.8zM247 45h0.8v0.8h-0.8zM243.5 45h0.8v0.8h-0.8zM260 47h0.8v0.8h-0.8zM241 52.5h0.8v0.8h-0.8zM235.5 37.5h0.8v0.8h-0.8zM263.5 51h0.8v0.8h-0.8zM237.5 49.5h0.8v0.8h-0.8zM252.5 46.5h0.8v0.8h-0.8zM243 49h0.8v0.8h-0.8zM248.5 47h0.8v0.8h-0.8zM253 47.5h0.8v0.8h-0.8zM245 51h0.8v0.8h-0.8zM239 60h0.8v0.8h-0.8zM236 53.5h0.8v0.8h-0.8zM255 50h0.8v0.8h-0.8zM255.5 54h0.8v0.8h-0.8zM241.5 51.5h0.8v0.8h-0.8zM252 46.5h0.8v0.8h-0.8zM248 56.5h0.8v0.8h-0.8zM244.5 49h0.8v0.8h-0.8zM248.5 49h0.8v0.8h-0.8zM252.5 47.5h0.8v0.8h-0.8zM254.5 48.5h0.8v0.8h-0.8zM257.5 54h0.8v0.8h-0.8zM246.5 59h0.8v0.8h-0.8zM248.5 53.5h0.8v0.8h-0.8zM252 47.5h0.8v0.8h-0.8zM236.5 61.5h0.8v0.8h-0.8zM243.5 47.5h0.8v0.8h-0.8zM260.5 46.5h0.8v0.8h-0.8zM270 51.5h0.8v0.8h-0.8zM257.5 48.5h0.8v0.8h-0.8zM256 41h0.8v0.8h-0.8zM253 49.5h0.8v0.8h-0.8zM247.5 51.5h0.8v0.8h-0.8zM240 57h0.8v0.8h-0.8zM260.5 39.5h0.8v0.8h-0.8zM254.5 55.5h0.8v0.8h-0.8zM253.5 43h0.8v0.8h-0.8zM244 55.5h0.8v0.8h-0.8zM265.5 39h0.8v0.8h-0.8zM250.5 45.5h0.8v0.8h-0.8zM249 51h0.8v0.8h-0.8zM250 46h0.8v0.8h-0.8zM269 43h0.8v0.8h-0.8zM251 54.5h0.8v0.8h-0.8zM251 48h0.8v0.8h-0.8zM258 42h0.8v0.8h-0.8zM259 52h0.8v0.8h-0.8zM256.5 46.5h0.8v0.8h-0.8zM248.5 41h0.8v0.8h-0.8zM250.5 50.5h0.8v0.8h-0.8zM259 47.5h0.8v0.8h-0.8zM246.5 46.5h0.8v0.8h-0.8zM251 50h0.8v0.8h-0.8zM261.5 46h0.8v0.8h-0.8zM247 50h0.8v0.8h-0.8zM246.5 49h0.8v0.8h-0.8zM230 47.5h0.8v0.8h-0.8zM241.5 54.5h0.8v0.8h-0.8zM250.5 50h0.8v0.8h-0.8zM259.5 41h0.8v0.8h-0.8zM261.5 48h0.8v0.8h-0.8zM247 57.5h0.8v0.8h-0.8zM237.5 47.5h0.8v0.8h-0.8zM250 51.5h0.8v0.8h-0.8zM246.5 40h0.8v0.8h-0.8zM248.5 49.5h0.8v0.8h-0.8zM274.5 48.5h0.8v0.8h-0.8zM250.5 44h0.8v0.8h-0.8zM252.5 43h0.8v0.8h-0.8zM253.5 50h0.8v0.8h-0.8zM248 51h0.8v0.8h-0.8zM247.5 47.5h0.8v0.8h-0.8zM265 47.5h0.8v0.8h-0.8zM247.5 46.5h0.8v0.8h-0.8zM253.5 51h0.8v0.8h-0.8zM260.5 53.5h0.8v0.8h-0.8zM253.5 43h0.8v0.8h-0.8zM270 49h0.8v0.8h-0.8zM260 53h0.8v0.8h-0.8zM238 51h0.8v0.8h-0.8zM248.5 56h0.8v0.8h-0.8zM240.5 50.5h0.8v0.8h-0.8zM265 48h0.8v0.8h-0.8zM250.5 58.5h0.8v0.8h-0.8zM240.5 54.5h0.8v0.8h-0.8zM250 52h0.8v0.8h-0.8zM247.5 46h0.8v0.8h-0.8zM251 42.5h0.8v0.8h-0.8zM255 46h0.8v0.8h-0.8zM258.5 44.5h0.8v0.8h-0.8zM246 52.5h0.8v0.8h-0.8zM258.5 36.5h0.8v0.8h-0.8zM253 51.5h0.8v0.8h-0.8zM238 49h0.8v0.8h-0.8zM255.5 43.5h0.8v0.8h-0.8zM248 58.5h0.8v0.8h-0.8zM242 47.5h0.8v0.8h-0.8zM230 50h0.8v0.8h-0.8zM243 60h0.8v0.8h-0.8zM259.5 40h0.8v0.8h-0.8zM269 47.5h0.8v0.8h-0.8zM250.5 53h0.8v0.8h-0.8zM253.5 44.5h0.8v0.8h-0.8zM235 49.5h0.8v0.8h-0.8zM250.5 47.5h0.8v0.8h-0.8zM246 55.5h0.8v0.8h-0.8zM243.5 56h0.8v0.8h-0.8zM247 51h0.8v0.8h-0.8zM241.5 52h0.8v0.8h-0.8zM242 43h0.8v0.8h-0.8zM251 49h0.8v0.8h-0.8zM258.5 48h0.8v0.8h-0.8zM241.5 49h0.8v0.8h-0.8zM228.5 50.5h0.8v0.8h-0.8zM264 52.5h0.8v0.8h-0.8zM258 48.5h0.8v0.8h-0.8zM256.5 49.5h0.8v0.8h-0.8zM235 49.5h0.8v0.8h-0.8zM263 51h0.8v0.8h-0.8zM252.5 47h0.8v0.8h-0.8zM247 47.5h0.8v0.8h-0.8zM240.5 42.5h0.8v0.8h-0.8zM251.5 46.5h0.8v0.8h-0.8zM251.5 57.5h0.8v0.8h-0.8zM255 44.5h0.8v0.8h-0.8zM254 40.5h0.8v0.8h-0.8zM260.5 47.5h0.8v0.8h-0.8zM250 52h0.8v0.8h-0.8zM263 43h0.8v0.8h-0.8zM245.5 61h0.8v0.8h-0.8zM253.5 55.5h0.8v0.8h-0.8zM246 52.5h0.8v0.8h-0.8zM246.5 53.5h0.8v0.8h-0.8zM248 46.5h0.8v0.8h-0.8zM264.5 46.5h0.8v0.8h-0.8zM233.5 53.5h0.8v0.8h-0.8zM241.5 46h0.8v0.8h-0.8zM245.5 48.5h0.8v0.8h-0.8zM250 45.5h0.8v0.8h-0.8zM234.5 51.5h0.8v0.8h-0.8zM256.5 40.5h0.8v0.8h-0.8zM257 49.5h0.8v0.8h-0.8zM247.5 51.5h0.8v0.8h-0.8zM244 49h0.8v0.8h-0.8zM243 54h0.8v0.8h-0.8zM262 42.5h0.8v0.8h-0.8zM258 36h0.8v0.8h-0.8zM242 46.5h0.8v0.8h-0.8zM265 42h0.8v0.8h-0.8zM255 37.5h0.8v0.8h-0.8zM253 51.5h0.8v0.8h-0.8zM247 36.5h0.8v0.8h-0.8zM253.5 52h0.8v0.8h-0.8zM263 47.5h0.8v0.8h-0.8zM236.5 52.5h0.8v0.8h-0.8zM257.5 43h0.8v0.8h-0.8zM255 45.5h0.8v0.8h-0.8zM253 52h0.8v0.8h-0.8zM249 64h0.8v0.8h-0.8zM253 50h0.8v0.8h-0.8zM244.5 51.5h0.8v0.8h-0.8zM246.5 43h0.8v0.8h-0.8zM238.5 54.5h0.8v0.8h-0.8zM246.5 37h0.8v0.8h-0.8zM232 53.5h0.8v0.8h-0.8zM251.5 52h0.8v0.8h-0.8zM241 55h0.8v0.8h-0.8zM247.5 47.5h0.8v0.8h-0.8zM251 54h0.8v0.8h-0.8zM257 51.5h0.8v0.8h-0.8zM244.5 49.5h0.8v0.8h-0.8zM240 49.5h0.8v0.8h-0.8zM247 48h0.8v0.8h-0.8zM257.5 49h0.8v0.8h-0.8zM257.5 47.5h0.8v0.8h-0.8zM260.5 46.5h0.8v0.8h-0.8zM260 48.5h0.8v0.8h-0.8zM257 46.5h0.8v0.8h-0.8zM238.5 45.5h0.8v0.8h-0.8zM268.5 45.5h0.8v0.8h-0.8zM254.5 47h0.8v0.8h-0.8zM251 63.5h0.8v0.8h-0.8zM241.5 51.5h0.8v0.8h-0.8zM249 44h0.8v0.8h-0.8zM239 49h0.8v0.8h-0.8zM247.5 47.5h0.8v0.8h-0.8zM256.5 41.5h0.8v0.8h-0.8zM256.5 54.5h0.8v0.8h-0.8zM257 41.5h0.8v0.8h-0.8zM227 60.5h0.8v0.8h-0.8zM254.5 45h0.8v0.8h-0.8zM261.5 43.5h0.8v0.8h-0.8zM250.5 44h0.8v0.8h-0.8zM253 46h0.8v0.8h-0.8zM248 55.5h0.8v0.8h-0.8zM250.5 41.5h0.8v0.8h-0.8zM258 51h0.8v0.8h-0.8zM243.5 49.5h0.8v0.8h-0.8zM251 47.5h0.8v0.8h-0.8zM253 51.5h0.8v0.8h-0.8zM249.5 60h0.8v0.8h-0.8zM244 48.5h0.8v0.8h-0.8zM271.5 54.5h0.8v0.8h-0.8zM251 48h0.8v0.8h-0.8zM243.5 57h0.8v0.8h-0.8zM251.5 44.5h0.8v0.8h-0.8zM256.5 54h0.8v0.8h-0.8zM260 57.5h0.8v0.8h-0.8zM261.5 48h0.8v0.8h-0.8zM251.5 51.5h0.8v0.8h-0.8zM262.5 49.5h0.8v0.8h-0.8zM260.5 47h0.8v0.8h-0.8zM259.5 52.5h0.8v0.8h-0.8zM247.5 43.5h0.8v0.8h-0.8zM266.5 47h0.8v0.8h-0.8zM247.5 51h0.8v0.8h-0.8zM246.5 42h0.8v0.8h-0.8zM247.5 43h0.8v0.8h-0.8zM252.5 48h0.8v0.8h-0.8zM260.5 45.5h0.8v0.8h-0.8zM254 46.5h0.8v0.8h-0.8zM246 43.5h0.8v0.8h-0.8zM260 47h0.8v0.8h-0.8zM246.5 51.5h0.8v0.8h-0.8zM246.5 47h0.8v0.8h-0.8zM255 54h0.8v0.8h-0.8zM246.5 43h0.8v0.8h-0.8zM248.5 59h0.8v0.8h-0.8zM245.5 56.5h0.8v0.8h-0.8zM250 53h0.8v0.8h-0.8zM248 42h0.8v0.8h-0.8zM250.5 60h0.8v0.8h-0.8zM250.5 52h0.8v0.8h-0.8zM248 49.5h0.8v0.8h-0.8zM254.5 50.5h0.8v0.8h-0.8zM270 43h0.8v0.8h-0.8zM248.5 46.5h0.8v0.8h-0.8zM237.5 45h0.8v0.8h-0.8zM254 38.5h0.8v0.8h-0.8zM264.5 49h0.8v0.8h-0.8zM247 44.5h0.8v0.8h-0.8zM251.5 49h0.8v0.8h-0.8zM259.5 42.5h0.8v0.8h-0.8zM247.5 50h0.8v0.8h-0.8zM248 47h0.8v0.8h-0.8zM234 46h0.8v0.8h-0.8zM245 50h0.8v0.8h-0.8zM263 57h0.8v0.8h-0.8zM266.5 46.5h0.8v0.8h-0.8zM267 43.5h0.8v0.8h-0.8zM250 61h0.8v0.8h-0.8zM241.5 50h0.8v0.8h-0.8zM251 56.5h0.8v0.8h-0.8zM247 54h0.8v0.8h-0.8zM246 44.5h0.8v0.8h-0.8zM253.5 49h0.8v0.8h-0.8zM240 48h0.8v0.8h-0.8zM245.5 55.5h0.8v0.8h-0.8zM255.5 49h0.8v0.8h-0.8zM254.5 45.5h0.8v0.8h-0.8zM254.5 45h0.8v0.8h-0.8zM238.5 49.5h0.8v0.8h-0.8zM253 49h0.8v0.8h-0.8zM258 38.5h0.8v0.8h-0.8zM249.5 51.5h0.8v0.8h-0.8zM243 52.5h0.8v0.8h-0.8zM246 45h0.8v0.8h-0.8zM258.5 39.5h0.8v0.8h-0.8zM259 44.5h0.8v0.8h-0.8zM241.5 47.5h0.8v0.8h-0.8zM243.5 47h0.8v0.8h-0.8zM250.5 39.5h0.8v0.8h-0.8zM263 49.5h0.8v0.8h-0.8zM261.5 41h0.8v0.8h-0.8zM230.5 52.5h0.8v0.8h-0.8zM250 51h0.8v0.8h-0.8zM246.5 50h0.8v0.8h-0.8zM250 41.5h0.8v0.8h-0.8zM265 39h0.8v0.8h-0.8zM255 53.5h0.8v0.8h-0.8zM244.5 51h0.8v0.8h-0.8zM264.5 43.5h0.8v0.8h-0.8zM260.5 47.5h0.8v0.8h-0.8zM254 51.5h0.8v0.8h-0.8zM249 48.5h0.8v0.8h-0.8zM260 47.5h0.8v0.8h-0.8zM253.5 42h0.8v0.8h-0.8zM253 54.5h0.8v0.8h-0.8zM259.5 48h0.8v0.8h-0.8zM246 47.5h0.8v0.8h-0.8zM257 54.5h0.8v0.8h-0.8zM253.5 55h0.8v0.8h-0.8zM250.5 55.5h0.8v0.8h-0.8zM243 52.5h0.8v0.8h-0.8zM243 55h0.8v0.8h-0.8zM254.5 43h0.8v0.8h-0.8zM244 49h0.8v0.8h-0.8zM237 48.5h0.8v0.8h-0.8zM245 55h0.8v0.8h-0.8zM262.5 43.5h0.8v0.8h-0.8zM249 51h0.8v0.8h-0.8zM246.5 49h0.8v0.8h-0.8zM258.5 48h0.8v0.8h-0.8zM249.5 46.5h0.8v0.8h-0.8zM263 42.5h0.8v0.8h-0.8zM250.5 44h0.8v0.8h-0.8zM246 51h0.8v0.8h-0.8zM248.5 52.5h0.8v0.8h-0.8zM250 42.5h0.8v0.8h-0.8zM232.5 59.5h0.8v0.8h-0.8zM248 57.5h0.8v0.8h-0.8zM250 45.5h0.8v0.8h-0.8zM255.5 46.5h0.8v0.8h-0.8zM250 44.5h0.8v0.8h-0.8zM258 52.5h0.8v0.8h-0.8zM249 58.5h0.8v0.8h-0.8zM246.5 51.5h0.8v0.8h-0.8zM234.5 44.5h0.8v0.8h-0.8zM271 50h0.8v0.8h-0.8zM258.5 38h0.8v0.8h-0.8zM253.5 50.5h0.8v0.8h-0.8zM252 50h0.8v0.8h-0.8zM243 50.5h0.8v0.8h-0.8zM241 50.5h0.8v0.8h-0.8zM253 44.5h0.8v0.8h-0.8zM248 48h0.8v0.8h-0.8zM252.5 53h0.8v0.8h-0.8zM253.5 50h0.8v0.8h-0.8zM238 51h0.8v0.8h-0.8zM257 43h0.8v0.8h-0.8zM246 45.5h0.8v0.8h-0.8zM262 43.5h0.8v0.8h-0.8zM245.5 54h0.8v0.8h-0.8zM261 48.5h0.8v0.8h-0.8zM260 47.5h0.8v0.8h-0.8zM249.5 47.5h0.8v0.8h-0.8zM246 47.5h0.8v0.8h-0.8zM254 47.5h0.8v0.8h-0.8zM252.5 51.5h0.8v0.8h-0.8zM248.5 43h0.8v0.8h-0.8zM242.5 46h0.8v0.8h-0.8zM235 54.5h0.8v0.8h-0.8zM239 46.5h0.8v0.8h-0.8zM243 56h0.8v0.8h-0.8zM250 54.5h0.8v0.8h-0.8zM249.5 47.5h0.8v0.8h-0.8zM257 50h0.8v0.8h-0.8zM250.5 44h0.8v0.8h-0.8zM245.5 45h0.8v0.8h-0.8zM249 50h0.8v0.8h-0.8zM266 51.5h0.8v0.8h-0.8zM258 51.5h0.8v0.8h-0.8zM257 61h0.8v0.8h-0.8z"/>
<path fill="#505050" d="M262 51h0.8v0.8h-0.8zM253 48.5h0.8v0.8h-0.8zM257 46.5h0.8v0.8h-0.8zM251.5 45.5h0.8v0.8h-0.8zM256.5 46.5h0.8v0.8h-0.8zM255.5 46h0.8v0.8h-0.8zM240 53h0.8v0.8h-0.8zM256.5 43h0.8v0.8h-0.8zM244.5 49.5h0.8v0.8h-0.8zM247.5 45h0.8v0.8h-0.8zM262 47h0.8v0.8h-0.8zM245.5 45.5h0.8v0.8h-0.8zM254.5 52h0.8v0.8h-0.8zM256.5 49h0.8v0.8h-0.8zM245 51h0.8v0.8h-0.8zM243 56h0.8v0.8h-0.8zM252.5 42.5h0.8v0.8h-0.8zM239.5 53.5h0.8v0.8h-0.8zM251 47.5h0.8v0.8h-0.8zM256 51.5h0.8v0.8h-0.8zM251.5 43.5h0.8v0.8h-0.8zM248.5 45.5h0.8v0.8h-0.8zM246 50.5h0.8v0.8h-0.8zM248.5 46h0.8v0.8h-0.8zM249.5 46.5h0.8v0.8h-0.8zM253.5 46.5h0.8v0.8h-0.8zM252.5 47h0.8v0.8h-0.8zM255 46.5h0.8v0.8h-0.8zM250 47h0.8v0.8h-0.8zM250 44h0.8v0.8h-0.8zM266.5 41h0.8v0.8h-0.8zM250.5 47h0.8v0.8h-0.8zM247.5 50h0.8v0.8h-0.8zM247 48.5h0.8v0.8h-0.8zM241 49h0.8v0.8h-0.8zM244.5 55h0.8v0.8h-0.8zM241.5 48.5h0.8v0.8h-0.8zM252.5 51h0.8v0.8h-0.8zM239 48.5h0.8v0.8h-0.8zM251.5 49h0.8v0.8h-0.8zM240.5 47h0.8v0.8h-0.8zM245 52h0.8v0.8h-0.8zM250.5 50h0.8v0.8h-0.8zM249.5 48.5h0.8v0.8h-0.8zM254 46.5h0.8v0.8h-0.8zM251 45.5h0.8v0.8h-0.8zM247 50.5h0.8v0.8h-0.8zM248.5 47h0.8v0.8h-0.8zM255 48h0.8v0.8h-0.8zM249.5 46.5h0.8v0.8h-0.8zM258 52h0.8v0.8h-0.8zM244 46.5h0.8v0.8h-0.8zM245 48h0.8v0.8h-0.8zM241.5 48.5h0.8v0.8h-0.8zM256 48.5h0.8v0.8h-0.8zM260 47h0.8v0.8h-0.8zM248 52h0.8v0.8h-0.8zM246.5 49h0.8v0.8h-0.8zM244 53.5h0.8v0.8h-0.8zM256 45h0.8v0.8h-0.8zM248.5 49h0.8v0.8h-0.8zM252 50h0.8v0.8h-0.8zM251 49h0.8v0.8h-0.8zM241 51h0.8v0.8h-0.8zM240.5 56h0.8v0.8h-0.8zM259.5 47h0.8v0.8h-0.8zM258.5 50.5h0.8v0.8h-0.8zM255 42.5h0.8v0.8h-0.8zM247 43.5h0.8v0.8h-0.8zM244.5 47h0.8v0.8h-0.8zM250.5 49h0.8v0.8h-0.8zM244.5 49.5h0.8v0.8h-0.8zM252 47.5h0.8v0.8h-0.8zM247.5 43h0.8v0.8h-0.8zM248 51h0.8v0.8h-0.8zM250.5 44.5h0.8v0.8h-0.8zM249 49.5h0.8v0.8h-0.8zM245 52h0.8v0.8h-0.8zM245 49h0.8v0.8h-0.8zM251.5 53.5h0.8v0.8h-0.8zM248 47.5h0.8v0.8h-0.8zM254.5 45.5h0.8v0.8h-0.8zM249.5 43h0.8v0.8h-0.8zM252 47.5h0.8v0.8h-0.8zM243.5 54h0.8v0.8h-0.8zM248.5 48.5h0.8v0.8h-0.8zM241 47.5h0.8v0.8h-0.8zM245.5 46h0.8v0.8h-0.8zM254 49h0.8v0.8h-0.8zM245 46h0.8v0.8h-0.8zM247 46.5h0.8v0.8h-0.8zM251.5 48.5h0.8v0.8h-0.8zM247.5 49.5h0.8v0.8h-0.8zM258 50h0.8v0.8h-0.8zM247.5 51h0.8v0.8h-0.8zM248 46.5h0.8v0.8h-0.8zM258.5 46.5h0.8v0.8h-0.8zM251.5 49h0.8v0.8h-0.8zM248.5 46h0.8v0.8h-0.8zM262 46.5h0.8v0.8h-0.8zM252.5 50h0.8v0.8h-0.8zM258 45h0.8v0.8h-0.8zM253.5 46.5h0.8v0.8h-0.8zM254 46.5h0.8v0.8h-0.8zM265 42.5h0.8v0.8h-0.8zM253.5 48.5h0.8v0.8h-0.8zM249 51h0.8v0.8h-0.8zM249.5 47.5h0.8v0.8h-0.8zM249.5 46.5h0.8v0.8h-0.8zM258 47h0.8v0.8h-0.8zM255 43h0.8v0.8h-0.8zM251.5 46h0.8v0.8h-0.8zM251.5 51h0.8v0.8h-0.8zM251.5 47.5h0.8v0.8h-0.8zM258 48h0.8v0.8h-0.8zM260 40h0.8v0.8h-0.8zM252 46.5h0.8v0.8h-0.8zM245 50.5h0.8v0.8h-0.8zM241.5 45.5h0.8v0.8h-0.8zM244.5 49.5h0.8v0.8h-0.8zM261 42.5h0.8v0.8h-0.8zM241.5 46.5h0.8v0.8h-0.8zM248 48.5h0.8v0.8h-0.8zM250 44.5h0.8v0.8h-0.8zM244 45h0.8v0.8h-0.8zM250 44.5h0.8v0.8h-0.8zM234 56.5h0.8v0.8h-0.8zM253.5 48h0.8v0.8h-0.8zM251.5 45h0.8v0.8h-0.8zM256 43.5h0.8v0.8h-0.8zM262 45h0.8v0.8h-0.8zM239.5 54h0.8v0.8h-0.8zM262 43.5h0.8v0.8h-0.8zM256.5 45.5h0.8v0.8h-0.8zM244.5 44h0.8v0.8h-0.8zM257.5 44.5h0.8v0.8h-0.8zM251.5 45h0.8v0.8h-0.8zM245.5 52.5h0.8v0.8h-0.8zM247.5 48h0.8v0.8h-0.8zM242.5 51.5h0.8v0.8h-0.8zM254.5 45.5h0.8v0.8h-0.8zM248 46h0.8v0.8h-0.8zM258.5 44h0.8v0.8h-0.8zM250.5 52.5h0.8v0.8h-0.8zM247.5 45h0.8v0.8h-0.8zM244.5 49.5h0.8v0.8h-0.8zM261.5 45h0.8v0.8h-0.8zM249.5 50.5h0.8v0.8h-0.8zM257.5 44h0.8v0.8h-0.8zM260 47h0.8v0.8h-0.8zM251 42h0.8v0.8h-0.8zM252.5 51h0.8v0.8h-0.8zM250.5 54h0.8v0.8h-0.8zM250 46h0.8v0.8h-0.8zM254 47.5h0.8v0.8h-0.8zM255.5 46h0.8v0.8h-0.8zM258 44.5h0.8v0.8h-0.8zM250 45h0.8v0.8h-0.8zM245.5 50.5h0.8v0.8h-0.8zM246 48.5h0.8v0.8h-0.8zM249 49.5h0.8v0.8h-0.8zM255.5 48.5h0.8v0.8h-0.8zM257 46.5h0.8v0.8h-0.8zM245.5 46h0.8v0.8h-0.8zM247.5 47h0.8v0.8h-0.8zM240.5 56h0.8v0.8h-0.8zM239 53h0.8v0.8h-0.8zM253.5 46.5h0.8v0.8h-0.8zM266.5 43h0.8v0.8h-0.8zM247 54h0.8v0.8h-0.8zM244 46.5h0.8v0.8h-0.8zM243.5 49h0.8v0.8h-0.8zM251 49h0.8v0.8h-0.8zM241 52.5h0.8v0.8h-0.8zM263.5 42h0.8v0.8h-0.8zM250 50h0.8v0.8h-0.8zM257.5 44h0.8v0.8h-0.8zM243.5 48h0.8v0.8h-0.8zM258 48h0.8v0.8h-0.8zM235 48h0.8v0.8h-0.8zM241.5 47.5h0.8v0.8h-0.8zM253 48h0.8v0.8h-0.8zM263 46h0.8v0.8h-0.8zM252 51h0.8v0.8h-0.8zM243.5 47h0.8v0.8h-0.8zM251.5 50.5h0.8v0.8h-0.8zM241 54h0.8v0.8h-0.8zM255.5 45.5h0.8v0.8h-0.8zM251 47.5h0.8v0.8h-0.8zM251.5 50h0.8v0.8h-0.8zM246 52.5h0.8v0.8h-0.8zM256.5 48.5h0.8v0.8h-0.8zM236.5 48h0.8v0.8h-0.8zM254 45.5h0.8v0.8h-0.8zM245.5 48h0.8v0.8h-0.8zM241.5 50.5h0.8v0.8h-0.8zM245.5 48.5h0.8v0.8h-0.8zM252.5 44.5h0.8v0.8h-0.8zM255.5 41h0.8v0.8h-0.8zM265 40h0.8v0.8h-0.8zM254.5 49h0.8v0.8h-0.8zM251 50h0.8v0.8h-0.8zM248.5 44.5h0.8v0.8h-0.8zM253.5 50h0.8v0.8h-0.8zM245.5 45.5h0.8v0.8h-0.8zM247 50.5h0.8v0.8h-0.8zM253 50h0.8v0.8h-0.8zM254 48.5h0.8v0.8h-0.8zM239.5 57.5h0.8v0.8h-0.8zM251.5 50h0.8v0.8h-0.8zM248 48.5h0.8v0.8h-0.8zM252 52h0.8v0.8h-0.8zM260.5 46.5h0.8v0.8h-0.8zM262.5 43h0.8v0.8h-0.8zM253 46h0.8v0.8h-0.8zM258.5 45.5h0.8v0.8h-0.8zM258 50h0.8v0.8h-0.8zM239 58h0.8v0.8h-0.8zM252 47h0.8v0.8h-0.8zM238 51.5h0.8v0.8h-0.8zM236 53.5h0.8v0.8h-0.8zM251 53h0.8v0.8h-0.8zM249 51.5h0.8v0.8h-0.8zM259.5 50.5h0.8v0.8h-0.8zM249.5 50.5h0.8v0.8h-0.8zM240 49h0.8v0.8h-0.8zM248.5 49h0.8v0.8h-0.8zM242.5 50h0.8v0.8h-0.8zM254.5 45.5h0.8v0.8h-0.8zM248.5 46.5h0.8v0.8h-0.8zM260.5 49.5h0.8v0.8h-0.8zM251.5 47.5h0.8v0.8h-0.8zM261.5 46h0.8v0.8h-0.8zM245 46.5h0.8v0.8h-0.8zM248.5 54.5h0.8v0.8h-0.8zM249 56.5h0.8v0.8h-0.8zM250.5 48h0.8v0.8h-0.8zM258.5 45h0.8v0.8h-0.8zM252 45h0.8v0.8h-0.8zM242 49.5h0.8v0.8h-0.8zM251.5 46.5h0.8v0.8h-0.8zM238.5 53.5h0.8v0.8h-0.8zM249 48h0.8v0.8h-0.8zM245 44.5h0.8v0.8h-0.8zM260 43.5h0.8v0.8h-0.8zM255 50.5h0.8v0.8h-0.8zM258 46.5h0.8v0.8h-0.8zM251 49h0.8v0.8h-0.8zM256.5 47.5h0.8v0.8h-0.8zM248 50.5h0.8v0.8h-0.8zM253.5 49h0.8v0.8h-0.8zM253 51h0.8v0.8h-0.8zM252.5 50h0.8v0.8h-0.8zM250.5 47h0.8v0.8h-0.8zM244.5 50h0.8v0.8h-0.8zM255 50h0.8v0.8h-0.8zM249.5 47.5h0.8v0.8h-0.8zM248.5 52.5h0.8v0.8h-0.8zM251 47h0.8v0.8h-0.8zM254 43.5h0.8v0.8h-0.8zM251 48h0.8v0.8h-0.8zM248.5 46h0.8v0.8h-0.8zM258 50h0.8v0.8h-0.8zM242 51.5h0.8v0.8h-0.8zM256.5 52h0.8v0.8h-0.8zM247 47h0.8v0.8h-0.8zM252 53h0.8v0.8h-0.8zM251 49h0.8v0.8h-0.8zM260 39.5h0.8v0.8h-0.8zM237.5 55h0.8v0.8h-0.8zM254.5 43.5h0.8v0.8h-0.8zM254 47.5h0.8v0.8h-0.8zM251 46h0.8v0.8h-0.8zM247 47h0.8v0.8h-0.8zM250.5 47.5h0.8v0.8h-0.8zM261.5 46h0.8v0.8h-0.8zM241 52.5h0.8v0.8h-0.8zM260 46h0.8v0.8h-0.8zM257.5 46h0.8v0.8h-0.8zM254 44.5h0.8v0.8h-0.8zM254.5 43.5h0.8v0.8h-0.8zM257.5 42h0.8v0.8h-0.8zM237.5 54h0.8v0.8h-0.8zM249.5 49h0.8v0.8h-0.8zM253 47.5h0.8v0.8h-0.8zM245 50.5h0.8v0.8h-0.8zM253 48.5h0.8v0.8h-0.8zM262.5 42.5h0.8v0.8h-0.8zM251.5 49.5h0.8v0.8h-0.8zM246.5 46.5h0.8v0.8h-0.8zM248 52h0.8v0.8h-0.8zM249.5 50.5h0.8v0.8h-0.8zM246 51h0.8v0.8h-0.8zM245.5 48h0.8v0.8h-0.8zM251 48h0.8v0.8h-0.8zM258.5 41.5h0.8v0.8h-0.8zM255 51h0.8v0.8h-0.8zM259 44.5h0.8v0.8h-0.8zM246 48.5h0.8v0.8h-0.8zM252.5 48h0.8v0.8h-0.8zM253 49h0.8v0.8h-0.8zM243 48h0.8v0.8h-0.8zM241.5 48h0.8v0.8h-0.8zM250 49h0.8v0.8h-0.8zM267 44h0.8v0.8h-0.8zM251.5 51.5h0.8v0.8h-0.8zM246 50.5h0.8v0.8h-0.8zM257.5 48h0.8v0.8h-0.8zM253 46.5h0.8v0.8h-0.8zM242.5 50.5h0.8v0.8h-0.8zM247.5 51h0.8v0.8h-0.8zM250 50h0.8v0.8h-0.8zM241 54h0.8v0.8h-0.8zM244 46.5h0.8v0.8h-0.8zM241.5 50h0.8v0.8h-0.8zM258 47.5h0.8v0.8h-0.8zM243 51h0.8v0.8h-0.8zM248.5 45h0.8v0.8h-0.8zM242.5 45.5h0.8v0.8h-0.8zM243 44h0.8v0.8h-0.8zM244.5 48h0.8v0.8h-0.8zM245 48h0.8v0.8h-0.8zM257.5 45h0.8v0.8h-0.8zM252.5 49.5h0.8v0.8h-0.8zM256.5 48h0.8v0.8h-0.8zM246 47h0.8v0.8h-0.8zM245 49h0.8v0.8h-0.8zM250.5 48h0.8v0.8h-0.8zM257.5 45.5h0.8v0.8h-0.8zM262.5 47h0.8v0.8h-0.8zM248 51.5h0.8v0.8h-0.8zM233.5 57.5h0.8v0.8h-0.8zM253.5 48.5h0.8v0.8h-0.8zM242 58h0.8v0.8h-0.8zM249 48.5h0.8v0.8h-0.8zM257.5 45.5h0.8v0.8h-0.8zM245.5 51.5h0.8v0.8h-0.8zM244.5 52h0.8v0.8h-0.8zM252.5 50.5h0.8v0.8h-0.8zM244 54h0.8v0.8h-0.8zM254 52.5h0.8v0.8h-0.8zM248 54h0.8v0.8h-0.8zM255.5 48.5h0.8v0.8h-0.8zM246.5 51h0.8v0.8h-0.8zM254 45h0.8v0.8h-0.8zM242.5 49h0.8v0.8h-0.8zM260 45.5h0.8v0.8h-0.8zM256.5 47h0.8v0.8h-0.8zM251.5 48.5h0.8v0.8h-0.8zM249 52h0.8v0.8h-0.8zM252 48.5h0.8v0.8h-0.8zM242 52h0.8v0.8h-0.8zM246 48.5h0.8v0.8h-0.8zM256 43.5h0.8v0.8h-0.8zM249.5 50h0.8v0.8h-0.8zM257.5 44.5h0.8v0.8h-0.8zM252.5 48.5h0.8v0.8h-0.8zM241.5 46h0.8v0.8h-0.8zM239 54h0.8v0.8h-0.8zM250 45h0.8v0.8h-0.8zM246 48.5h0.8v0.8h-0.8zM248 49h0.8v0.8h-0.8zM263.5 41.5h0.8v0.8h-0.8zM251 46h0.8v0.8h-0.8zM246 47.5h0.8v0.8h-0.8zM248.5 47.5h0.8v0.8h-0.8zM253 48h0.8v0.8h-0.8zM246.5 54.5h0.8v0.8h-0.8zM243.5 51.5h0.8v0.8h-0.8zM263.5 42h0.8v0.8h-0.8zM260 48.5h0.8v0.8h-0.8zM251 43.5h0.8v0.8h-0.8zM259.5 45.5h0.8v0.8h-0.8zM248 52.5h0.8v0.8h-0.8zM247 52.5h0.8v0.8h-0.8zM247.5 50.5h0.8v0.8h-0.8zM243.5 49.5h0.8v0.8h-0.8zM244 48.5h0.8v0.8h-0.8zM251.5 47.5h0.8v0.8h-0.8zM252.5 51h0.8v0.8h-0.8zM248.5 44h0.8v0.8h-0.8zM248.5 49h0.8v0.8h-0.8zM257.5 48.5h0.8v0.8h-0.8zM256.5 45.5h0.8v0.8h-0.8zM253.5 43.5h0.8v0.8h-0.8zM259 46.5h0.8v0.8h-0.8zM253.5 46.5h0.8v0.8h-0.8zM250.5 46.5h0.8v0.8h-0.8zM253 44h0.8v0.8h-0.8zM257 47.5h0.8v0.8h-0.8zM263 44h0.8v0.8h-0.8zM250 49h0.8v0.8h-0.8zM250.5 48h0.8v0.8h-0.8zM242.5 48h0.8v0.8h-0.8zM246.5 49h0.8v0.8h-0.8zM242 48h0.8v0.8h-0.8zM249.5 50.5h0.8v0.8h-0.8zM250 50.5h0.8v0.8h-0.8zM257 48h0.8v0.8h-0.8zM247.5 48.5h0.8v0.8h-0.8zM238 50.5h0.8v0.8h-0.8zM252.5 45h0.8v0.8h-0.8zM260 48.5h0.8v0.8h-0.8zM249 51h0.8v0.8h-0.8zM241 49h0.8v0.8h-0.8zM248 49h0.8v0.8h-0.8zM248.5 46.5h0.8v0.8h-0.8zM263 44.5h0.8v0.8h-0.8zM253 49.5h0.8v0.8h-0.8zM251.5 47.5h0.8v0.8h-0.8zM245.5 45.5h0.8v0.8h-0.8zM259 43h0.8v0.8h-0.8zM239.5 50h0.8v0.8h-0.8zM242 56.5h0.8v0.8h-0.8zM254 51h0.8v0.8h-0.8zM260 46.5h0.8v0.8h-0.8zM253.5 45.5h0.8v0.8h-0.8zM249.5 47h0.8v0.8h-0.8zM250 46.5h0.8v0.8h-0.8zM259 47.5h0.8v0.8h-0.8zM257.5 50.5h0.8v0.8h-0.8zM258.5 56.5h0.8v0.8h-0.8zM257.5 51.5h0.8v0.8h-0.8zM258 57h0.8v0.8h-0.8zM255 56h0.8v0.8h-0.8zM255.5 54.5h0.8v0.8h-0.8zM259.5 54.5h0.8v0.8h-0.8zM258 54h0.8v0.8h-0.8zM257.5 60h0.8v0.8h-0.8zM259 54h0.8v0.8h-0.8zM257 54.5h0.8v0.8h-0.8zM260 55h0.8v0.8h-0.8zM259 53.5h0.8v0.8h-0.8zM256 57.5h0.8v0.8h-0.8zM257.5 52.5h0.8v0.8h-0.8zM256.5 53h0.8v0.8h-0.8zM257 51h0.8v0.8h-0.8zM259 55.5h0.8v0.8h-0.8zM258.5 53.5h0.8v0.8h-0.8zM258 55h0.8v0.8h-0.8zM259 56.5h0.8v0.8h-0.8zM258 53h0.8v0.8h-0.8zM256 52.5h0.8v0.8h-0.8zM256.5 53.5h0.8v0.8h-0.8zM256 58h0.8v0.8h-0.8zM258 50h0.8v0.8h-0.8zM256 51.5h0.8v0.8h-0.8zM258 57h0.8v0.8h-0.8zM256.5 56h0.8v0.8h-0.8zM257 57h0.8v0.8h-0.8zM259 55h0.8v0.8h-0.8zM258.5 54.5h0.8v0.8h-0.8zM257 52h0.8v0.8h-0.8zM258 54.5h0.8v0.8h-0.8zM257 54.5h0.8v0.8h-0.8zM257.5 52h0.8v0.8h-0.8zM257 57h0.8v0.8h-0.8zM257 57.5h0.8v0.8h-0.8zM256 51.5h0.8v0.8h-0.8zM257.5 56h0.8v0.8h-0.8zM256.5 56h0.8v0.8h-0.8zM258.5 57h0.8v0.8h-0.8zM257.5 54.5h0.8v0.8h-0.8zM255.5 54.5h0.8v0.8h-0.8zM258 57.5h0.8v0.8h-0.8zM256 52.5h0.8v0.8h-0.8zM256.5 56.5h0.8v0.8h-0.8zM254.5 52h0.8v0.8h-0.8zM260 56h0.8v0.8h-0.8zM256 54.5h0.8v0.8h-0.8zM258.5 55.5h0.8v0.8h-0.8zM257 52.5h0.8v0.8h-0.8zM258.5 54.5h0.8v0.8h-0.8zM258.5 55.5h0.8v0.8h-0.8zM257 57.5h0.8v0.8h-0.8zM257 55.5h0.8v0.8h-0.8zM256.5 54h0.8v0.8h-0.8zM257 53h0.8v0.8h-0.8zM258 57.5h0.8v0.8h-0.8zM260 57.5h0.8v0.8h-0.8z"/>
</g>
<path d="M221 60.5 C219.8 70 221 83 225.5 92 C228.5 97 231.5 98.8 235 98 L235 98 C240 93 246.5 83 251.5 73 C254 67 256.5 62.5 259 60.5 Z" fill="#f4f4f4" stroke="none"/>
<path d="M238.5 62 L255 62 C252 68 248 76 243 84 L238.5 88 Z" fill="#d6d6d6" filter="url(#sb2)"/>
<g fill="none" stroke="#6c6c6c" stroke-width="0.58">
<path d="M221 60.5 C219.8 70 221 83 225.5 92 C228.5 97 231.5 98.8 235 98"/>
<path d="M222.7 61 C221.6 69.6 222.7 81.3 226.7 89.4 C229.4 93.9 232.1 95.5 235.2 94.8"/>
<path d="M224.3 61.6 C223.3 69.2 224.3 79.6 227.9 86.8 C230.3 90.8 232.7 92.2 235.5 91.6"/>
<path d="M225.9 62.1 C225.1 68.8 225.9 77.9 229.1 84.2 C231.2 87.7 233.3 89 235.8 88.4"/>
<path d="M227.6 62.7 C226.9 68.4 227.6 76.2 230.3 81.6 C232.1 84.6 233.9 85.7 236 85.2"/>
<path d="M229.2 63.2 C228.7 68 229.2 74.5 231.5 79 C233 81.5 234.5 82.4 236.2 82"/>
<path d="M230.9 63.8 C230.4 67.6 230.9 72.8 232.7 76.4 C233.9 78.4 235.1 79.1 236.5 78.8"/>
<path d="M232.6 64.3 C232.2 67.2 232.6 71.1 233.9 73.8 C234.8 75.3 235.7 75.8 236.8 75.6"/>
</g>
<g fill="none" stroke="#7a7a7a" stroke-width="0.55">
<path d="M235 98 C240 93 246.5 83 251.5 73 C254 67 256.5 62.5 259 60.5"/>
<path d="M235.3 94.2 C239.7 89.8 245.4 81 249.8 72.2 C252 66.9 254.2 62.9 256.4 61.2"/>
<path d="M235.6 90.3 C239.4 86.5 244.3 78.9 248.1 71.3 C250 66.8 251.9 63.3 253.8 61.8"/>
<path d="M235.9 86.5 C239.1 83.3 243.3 76.9 246.5 70.5 C248.1 66.6 249.7 63.8 251.3 62.5"/>
<path d="M236.2 82.6 C238.8 80 242.2 74.8 244.8 69.6 C246.1 66.5 247.4 64.2 248.7 63.1"/>
</g>
<path d="M214 61 C221 56 230 51.5 238.3 48 L238.3 52.5 C231 55 225 58 221.5 61 Z" fill="#e2e2e2"/>
<path d="M214 61 C221 56 230 51.5 238.3 48 M221.5 61 C225 58 231 55 238.3 52.5 M217.8 61 C223 57 230 53.3 238.3 50.2" fill="none" stroke="#6a6a6a" stroke-width="0.55"/>
<ellipse cx="250.5" cy="54.3" rx="3.6" ry="1.6" fill="#e4e4e4" filter="url(#sb)"/>
<path d="M242.5 53.5 C246 50 250.5 47.8 255.5 46.8" fill="none" stroke="#4a4a4a" stroke-width="0.8" filter="url(#sb)"/>
<rect x="200.6" y="60.3" width="37.7" height="50.3" fill="none" stroke="#555" stroke-width="0.8"/>
<path d="M238.65 60.9 L238.3 42.4 L248.5 34 L262.1 34 L268.1 40.1 L268.5 50.5 L259.4 60.3 Z" fill="none" stroke="#1a1a1a" stroke-width="1"/>
<rect x="184.5" y="33.2" width="98" height="98.3" fill="none" stroke="#000" stroke-width="1.2"/>
<path d="M248.5 33.6 H262.1" stroke="#000" stroke-width="1.8"/>
<path d="M181.5 46.3H184.5" stroke="#000" stroke-width="1"/>
<text x="174.8" y="48.7" font-size="7" text-anchor="end" font-weight="normal" fill="#111" >10</text>
<text x="175.3" y="44.9" font-size="5" text-anchor="start" font-weight="normal" fill="#111" >4</text>
<path d="M181.5 74.1H184.5" stroke="#000" stroke-width="1"/>
<text x="174.8" y="76.5" font-size="7" text-anchor="end" font-weight="normal" fill="#111" >10</text>
<text x="175.3" y="72.7" font-size="5" text-anchor="start" font-weight="normal" fill="#111" >3</text>
<path d="M181.5 103H184.5" stroke="#000" stroke-width="1"/>
<text x="174.8" y="105.4" font-size="7" text-anchor="end" font-weight="normal" fill="#111" >10</text>
<text x="175.3" y="101.6" font-size="5" text-anchor="start" font-weight="normal" fill="#111" >2</text>
<path d="M181.5 124.6H184.5" stroke="#000" stroke-width="1"/>
<text x="174.1" y="127.1" font-size="7" text-anchor="end" font-weight="normal" fill="#111" >0</text>
<path d="M182.9 65.6H184.5M182.9 60.6H184.5M182.9 57.1H184.5M182.9 54.3H184.5M182.9 52.1H184.5M182.9 50.2H184.5M182.9 48.5H184.5M182.9 47.1H184.5M182.9 94.5H184.5M182.9 89.5H184.5M182.9 86H184.5M182.9 83.2H184.5M182.9 81H184.5M182.9 79.1H184.5M182.9 77.4H184.5M182.9 76H184.5M182.9 37.8H184.5M182.5 106H184.5M182.5 108.5H184.5M182.5 110.5H184.5M182.5 112H184.5M182.5 113.3H184.5M182.5 114.5H184.5M182.5 115.7H184.5M182.5 116.9H184.5M182.5 118.1H184.5M182.5 119.3H184.5M182.5 120.5H184.5M182.5 121.7H184.5M182.5 122.9H184.5M182.5 126H184.5M182.5 127.3H184.5M182.5 128.6H184.5M182.5 129.8H184.5" stroke="#000" stroke-width="0.7"/>
<path d="M211.7 131.5V134.5" stroke="#000" stroke-width="1"/>
<text x="214.6" y="144.4" font-size="7" text-anchor="end" font-weight="normal" fill="#111" >10</text>
<text x="215" y="141" font-size="5" text-anchor="start" font-weight="normal" fill="#111" >2</text>
<path d="M240.7 131.5V134.5" stroke="#000" stroke-width="1"/>
<text x="243.6" y="144.4" font-size="7" text-anchor="end" font-weight="normal" fill="#111" >10</text>
<text x="244" y="141" font-size="5" text-anchor="start" font-weight="normal" fill="#111" >3</text>
<path d="M269.7 131.5V134.5" stroke="#000" stroke-width="1"/>
<text x="272.6" y="144.4" font-size="7" text-anchor="end" font-weight="normal" fill="#111" >10</text>
<text x="273" y="141" font-size="5" text-anchor="start" font-weight="normal" fill="#111" >4</text>
<path d="M191 131.5V134.5" stroke="#000" stroke-width="1"/>
<text x="191" y="144.4" font-size="7" text-anchor="middle" font-weight="normal" fill="#111" >0</text>
<path d="M220.4 131.5V133.1M225.5 131.5V133.1M229.2 131.5V133.1M232 131.5V133.1M234.3 131.5V133.1M236.2 131.5V133.1M237.9 131.5V133.1M239.4 131.5V133.1M249.4 131.5V133.1M254.5 131.5V133.1M258.2 131.5V133.1M261 131.5V133.1M263.3 131.5V133.1M265.2 131.5V133.1M266.9 131.5V133.1M268.4 131.5V133.1M278.4 131.5V133.1M186 131.5V133.5M187.2 131.5V133.5M188.4 131.5V133.5M189.6 131.5V133.5M192.4 131.5V133.5M193.6 131.5V133.5M194.8 131.5V133.5M196 131.5V133.5M197.4 131.5V133.5M199 131.5V133.5M200.8 131.5V133.5M203 131.5V133.5M205.6 131.5V133.5M208.5 131.5V133.5" stroke="#000" stroke-width="0.7"/>
<text x="233.5" y="28.1" font-size="9.8" text-anchor="middle" font-weight="normal" fill="#111" >neonate</text>
<text x="201.7" y="44" font-size="9.4" text-anchor="start" font-weight="bold" fill="#000" >45.1%</text>
<text x="243.4" y="107.5" font-size="9.4" text-anchor="start" font-weight="bold" fill="#000" >22.9%</text>
<path d="M24.6 116 V153.5 H60" fill="none" stroke="#000" stroke-width="1.3"/>
<path d="M24.6 111 L21.9 117.5 L27.3 117.5 Z" fill="#000"/>
<path d="M64.8 153.5 L58.3 150.8 L58.3 156.2 Z" fill="#000"/>
<text transform="translate(27.4 97) rotate(-90)" font-size="9.7" text-anchor="middle" fill="#111" textLength="20.5" lengthAdjust="spacingAndGlyphs">CD44</text>
<text x="67.7" y="156.9" font-size="9.4" fill="#111" textLength="25.8" lengthAdjust="spacingAndGlyphs">CD122</text>
<text x="299.2" y="15.4" font-size="10" text-anchor="start" font-weight="bold" fill="#000" >B</text>
<path d="M339.8 44.4 V144.3 H486" fill="none" stroke="#111" stroke-width="1.5"/>
<path d="M336.7 144.2 H340" stroke="#111" stroke-width="1"/>
<text x="333.3" y="147" font-size="7.9" text-anchor="end" font-weight="normal" fill="#222" >0</text>
<path d="M336.7 124.6 H340" stroke="#111" stroke-width="1"/>
<text x="333.3" y="127.4" font-size="7.9" text-anchor="end" font-weight="normal" fill="#222" >10</text>
<path d="M336.7 105.1 H340" stroke="#111" stroke-width="1"/>
<text x="333.3" y="107.9" font-size="7.9" text-anchor="end" font-weight="normal" fill="#222" >20</text>
<path d="M336.7 85.5 H340" stroke="#111" stroke-width="1"/>
<text x="333.3" y="88.3" font-size="7.9" text-anchor="end" font-weight="normal" fill="#222" >30</text>
<path d="M336.7 66 H340" stroke="#111" stroke-width="1"/>
<text x="333.3" y="68.8" font-size="7.9" text-anchor="end" font-weight="normal" fill="#222" >40</text>
<path d="M336.7 46.4 H340" stroke="#111" stroke-width="1"/>
<text x="333.3" y="49.2" font-size="7.9" text-anchor="end" font-weight="normal" fill="#222" >50</text>
<path d="M376.4 144.4 V147 M449.5 144.4 V147" stroke="#111" stroke-width="1"/>
<text x="376.5" y="157.6" font-size="8.1" text-anchor="middle" font-weight="normal" fill="#222" >adult</text>
<text x="449.7" y="157.6" font-size="8.1" text-anchor="middle" font-weight="normal" fill="#222" >neonate</text>
<text transform="translate(319.5 93.6) rotate(-90)" font-size="10.6" text-anchor="middle" fill="#222" textLength="43.5" lengthAdjust="spacingAndGlyphs">% MP cells</text>
<path d="M376.6 30.7 H450 M376.6 28.6 V32.8 M450 28.6 V32.8" stroke="#111" stroke-width="1"/>
<circle cx="407" cy="25.15" r="1.15" fill="#111"/>
<circle cx="410.9" cy="25.15" r="1.15" fill="#111"/>
<circle cx="414.8" cy="25.15" r="1.15" fill="#111"/>
<circle cx="418.6" cy="25.15" r="1.15" fill="#111"/>
<path d="M352.2 107.6 H401 M425.2 56.9 H473.7" stroke="#111" stroke-width="1.2"/>
<circle cx="377" cy="102.9" r="2.1" fill="#000"/>
<circle cx="380.2" cy="107.5" r="2.1" fill="#000"/>
<circle cx="373.3" cy="113.3" r="2.1" fill="#000"/>
<rect x="444.2" y="51.2" width="4.1" height="4.1" fill="#000"/>
<rect x="451.1" y="51.2" width="4.1" height="4.1" fill="#000"/>
<rect x="444.2" y="59.4" width="4.1" height="4.1" fill="#000"/>
<rect x="451.1" y="58.8" width="4.1" height="4.1" fill="#000"/>
<text x="7.7" y="185.5" font-size="10.5" text-anchor="start" font-weight="bold" fill="#000" >C</text>
<text x="93.5" y="200.1" font-size="9.9" text-anchor="middle" font-weight="normal" fill="#111" text-decoration="underline">Migration Markers</text>
<text x="213.2" y="200.1" font-size="9.9" text-anchor="middle" font-weight="normal" fill="#111" text-decoration="underline">Activation Markers</text>
<text x="332.9" y="200.1" font-size="9.9" text-anchor="middle" font-weight="normal" fill="#111" text-decoration="underline">NK cell Markers</text>
<text x="452.6" y="200.1" font-size="9.9" text-anchor="middle" font-weight="normal" fill="#111" text-decoration="underline">Transcription Factors</text>
<text x="63.5" y="214.3" font-size="9.8" text-anchor="middle" font-weight="normal" fill="#111" >CD62L</text>
<text x="123.4" y="214.3" font-size="9.8" text-anchor="middle" font-weight="normal" fill="#111" >CXCR3</text>
<text x="183.2" y="214.3" font-size="9.8" text-anchor="middle" font-weight="normal" fill="#111" >Ly6C</text>
<text x="243.1" y="214.3" font-size="9.8" text-anchor="middle" font-weight="normal" fill="#111" >CD11a</text>
<text x="303" y="214.3" font-size="9.8" text-anchor="middle" font-weight="normal" fill="#111" >NKG2D</text>
<text x="362.8" y="214.3" font-size="9.8" text-anchor="middle" font-weight="normal" fill="#111" >NKG2A</text>
<text x="422.7" y="214.3" font-size="9.8" text-anchor="middle" font-weight="normal" fill="#111" >Tbet</text>
<text x="482.6" y="214.3" font-size="9.8" text-anchor="middle" font-weight="normal" fill="#111" >Eomes</text>
<text transform="translate(27.3 250) rotate(-90)" font-size="10" text-anchor="middle" fill="#222" textLength="12.2" lengthAdjust="spacingAndGlyphs">MP</text>
<text transform="translate(27.4 332.9) rotate(-90)" font-size="10" text-anchor="middle" fill="#222" textLength="10.7" lengthAdjust="spacingAndGlyphs">TN</text>
<polygon points="61.3,279.6 61.3,279.6 63.5,275 65.5,266.3 68,241.3 69.7,228 71.7,241.3 73.8,268 75,279.6 75,279.6" fill="#8c8c8c"/>
<polyline points="34.6,279.3 43,279.4 49.7,277.2 53,275.5 58,274.7 62.2,273 64.7,266.3 66.3,254.7 67.7,239.7 68.8,226.3 70,224.3 71.3,226.3 73,239.7 74.7,259.7 76,274.7 77.2,278.8 78.5,279.3 92.5,279.3" fill="none" stroke="#000" stroke-width="1.45" stroke-linejoin="round"/>
<polygon points="113.5,279.6 113.5,279.6 116,273 118,263 119.3,255 121,240 122.7,229.7 124,236 125,245 126,255 127,265 128.5,279.6 128.5,279.6" fill="#8c8c8c"/>
<polyline points="94.5,279.3 103,279.3 108,278.5 110.5,277 113,274 115.5,267 117.5,258 118.8,251 120.5,238 121.5,228 122,223.5 123,224.5 123.8,223.3 124.5,226 125.5,234 126.5,244 127.2,251 128.3,262 129.5,272 130.5,277.5 132,279.3 152.3,279.3" fill="none" stroke="#000" stroke-width="1.45" stroke-linejoin="round"/>
<polygon points="165,279.6 165,279.6 168,278 172,277.5 178,277.8 183,277.8 187,277 189,276 190.3,274.7 192,264 193.7,251.3 195,238 196.2,229.7 197.5,235 198.7,243 200,255 201.2,268 202.8,278.3 203.5,279.6 203.5,279.6" fill="#8c8c8c"/>
<polyline points="154.3,279.3 154.5,278.7 156.5,277 158.6,275.5 161,274.3 163.1,272.8 164.2,271.3 164.9,271.3 166,270.1 166.8,270.1 167.7,268.9 169,269.4 170.4,266.9 171.3,266.6 171.8,266 172.2,263.7 173.6,261 175.4,260 176.5,259.4 177.2,258.2 178.4,261 179.5,258.7 181.3,259.1 183.2,260 184.5,261.9 185.9,256.9 186.8,258.2 188.2,256.4 190,253.7 191.4,248.6 192.7,245 193.5,238 194.5,228 195.7,223.8 196.7,226 197.8,229.7 198.7,234 199.5,239.7 200.3,249 201.2,259.7 202,268 202.8,274.7 204.5,278.8 206,279.3 212.2,279.3" fill="none" stroke="#000" stroke-width="1.45" stroke-linejoin="round"/>
<polygon points="244.5,279.6 244.5,279.6 246,274 247,265 247.8,252 248.6,238 249.4,228 250,222.5 250.8,226 251.6,238 252.5,252 253.5,265 255,274 256.5,279.6 256.5,279.6" fill="#8c8c8c"/>
<polyline points="214.2,279.3 246,279.3 248.5,276 250,267 250.7,252 252,232 253.3,222.2 254.5,230 255.7,252 257,268 258.5,276 260,279.3 272,279.3" fill="none" stroke="#000" stroke-width="1.45" stroke-linejoin="round"/>
<polygon points="276.5,279.6 276.5,279.6 278.2,274 279.5,258 280.5,236 281.2,226 282,238 283,258 284,268 285,272.3 286.5,272 288.5,271.3 291,271.3 293,272 295,275 297,278 299,279.6 299,279.6" fill="#8c8c8c"/>
<polyline points="274,279.3 276,279.3 278,276 279.3,262 280.3,238 281.2,223.8 282.1,238 283,258 284.5,272 286.2,278.5 288,279.3 331.9,279.3" fill="none" stroke="#000" stroke-width="1.45" stroke-linejoin="round"/>
<polygon points="336.5,279.6 336.5,279.6 338.5,266 339.8,246 341.2,229 342.3,234 343.5,244 345.3,251 347,251 348.5,246 350.3,238.5 351.2,250 352.2,267 354,272 357,274.7 360,277 362.8,278.3 365,279.6 365,279.6" fill="#8c8c8c"/>
<polyline points="333.9,279.3 336,279.3 337,278.8 338.5,265 339.8,245 341.2,227.2 342.3,232 343.5,242 345.3,248.8 347,248.5 348.5,244 350.3,236.3 351.2,244 352,258 354,259.5 357,258.8 359,258 361.2,258.8 363,261 364.5,263 366,267 367.8,271.3 369.5,275.5 371.2,278.3 373,279.3 391.8,279.3" fill="none" stroke="#000" stroke-width="1.45" stroke-linejoin="round"/>
<polygon points="400,279.6 400,279.6 404,277.5 406,274 407.5,268 409,260 410.3,252 411.5,240 412.8,228 414,223.8 415,232 415.8,245 416.8,258 418,268 419.5,275 421,279.6 421,279.6" fill="#8c8c8c"/>
<polyline points="393.8,279.3 399,279.3 404,278.8 407,278 408.7,276.3 410,272.5 411.2,268 412,260 412.8,251.3 413.7,243 414.5,234.7 415.5,227 416.7,223.3 418,228 419.5,234.7 420.3,243 421.2,251.3 422,260 422.8,268 423.7,274 424.5,278 426,279.3 451.6,279.3" fill="none" stroke="#000" stroke-width="1.45" stroke-linejoin="round"/>
<polygon points="468,279.6 468,279.6 470.3,277 472.5,272 474.5,262 475.7,252 477,236 478.7,223.8 479.7,236 480.7,252 482,265 483.5,273 485.3,279.6 485.3,279.6" fill="#8c8c8c"/>
<polyline points="453.6,279.3 462,279.3 467,278.8 470,278 473,276 475.5,272 477.2,264 478.2,255 479,252 479.8,240 480.7,229 481.7,223 482.7,229 483.7,240 484.5,248 485.3,252 486,262 487,272 488,277.5 489.5,279.3 511.5,279.3" fill="none" stroke="#000" stroke-width="1.45" stroke-linejoin="round"/>
<rect x="33.6" y="219.6" width="478.9" height="60" fill="none" stroke="#000" stroke-width="1.4"/>
<path d="M93.5 219.6V279.6M153.3 219.6V279.6M213.2 219.6V279.6M273 219.6V279.6M332.9 219.6V279.6M392.8 219.6V279.6M452.6 219.6V279.6" stroke="#000" stroke-width="1.3"/>
<polygon points="61.3,362.6 61.3,362.6 63.5,358 65.5,348 67,330 68.8,311 70.3,322 71.8,340 73,354 74,362.6 74,362.6" fill="#8c8c8c"/>
<polyline points="34.6,362.3 36.3,362.3 40,361.5 43,360.2 46,359.5 49.7,357.7 51.5,356.5 53,356 55.5,356.5 58,356 60,355.3 62.2,354.3 63.5,352 64.7,347.7 65.5,341 66.3,334.3 67.2,324 68,314.3 69.2,306.8 70.5,307.7 71.3,315 72.2,326 73,339 73.8,351 74.7,358 75.5,361.3 77,362.3 92.5,362.3" fill="none" stroke="#000" stroke-width="1.45" stroke-linejoin="round"/>
<polygon points="98,362.6 98,362.6 99.5,355 101,338 102,318 102.8,306.9 104,310 105,316 106.3,324.3 108,330 109.7,330.2 112,326 114,322 115.3,323.3 116.9,329.6 118.4,339 120,346.8 122.3,356 123.9,360 124.5,362.6 124.5,362.6" fill="#8c8c8c"/>
<polyline points="94.5,362.3 97,362.3 99.7,360.8 100.8,350 101.8,338 102.8,328 103.6,326.4 105.9,328 107.5,333 109,338.2 110.5,334 112.2,331.1 113.5,324 114.5,318.6 116.1,310 117.7,316.3 119.2,313.2 120.8,306.9 121.9,312.4 122.5,316 123,314 123.4,322 123.9,334.2 124.7,350 125.5,356 126.2,359.2 127.5,362.3 152.3,362.3" fill="none" stroke="#000" stroke-width="1.45" stroke-linejoin="round"/>
<polygon points="157.8,362.6 157.8,362.6 160.5,356 163.7,347.7 166,333 167.8,321 169.5,312 171,307.5 172,306.9 173,308 174.2,314 175.2,323.3 175.9,334.2 177.5,346.8 179.8,356 182.2,358.5 186.9,357.7 191.6,358.5 195.5,360 197.8,362.6 197.8,362.6" fill="#8c8c8c"/>
<polyline points="154.3,362.3 155,362.3 157,361.3 160.3,356 163.7,346 166.2,331 168.7,319.3 170.2,311 171.2,306.9 172.5,310 173.6,306.9 174.4,312 175.2,317.1 176.7,321.8 177.5,326.4 179.8,330.3 181.4,334.2 183,339.7 184.5,345.2 185.5,343.5 186.9,344.4 188.4,345.2 190,346 192.3,349.9 194.7,353 197,356.1 198.6,359.2 199.4,361.6 201,362.3 212.2,362.3" fill="none" stroke="#000" stroke-width="1.45" stroke-linejoin="round"/>
<polygon points="243.7,362.6 243.7,362.6 245.5,358 246.5,348 247.3,330 248.3,308 249.3,330 250.2,348 251.2,358 252.8,362.6 252.8,362.6" fill="#8c8c8c"/>
<polyline points="214.2,362.3 242,362.3 244.5,360.5 246,352 247,334 247.8,318 248.3,307.3 248.9,318 249.8,334 251,352 252.5,360.5 255,362.3 272,362.3" fill="none" stroke="#000" stroke-width="1.45" stroke-linejoin="round"/>
<polygon points="277,362.6 277,362.6 278.5,356 279.5,340 280.2,322 280.7,309 281.3,322 282,340 283,356 284.5,362.6 284.5,362.6" fill="#8c8c8c"/>
<polyline points="274,362.3 276,362.3 278,359 279,348 279.8,330 280.7,308.5 281.6,330 282.4,348 283.5,359 285.5,362.3 331.9,362.3" fill="none" stroke="#000" stroke-width="1.45" stroke-linejoin="round"/>
<polygon points="336.5,362.6 336.5,362.6 337.2,352 338,336 339,320 340,312 341,319 342,329 343.2,337 344.5,343 346.2,346 347.5,345 348.7,341 350.3,333 351,337 351.7,344 352.5,356 354,361.5 356,362.6 356,362.6" fill="#8c8c8c"/>
<polyline points="333.9,362.3 336.2,362.3 337,350 337.8,334.3 338.8,318 340,309.3 341,316 342,326 343.2,334 344.5,339.3 346.2,342.7 347.5,341 348.7,337.7 350.3,330.2 351,334 351.7,341 352.3,349 352.8,356 355.3,360.2 360,361.3 370,361.7 390,362.1 391.8,362.3" fill="none" stroke="#000" stroke-width="1.45" stroke-linejoin="round"/>
<polygon points="397,362.6 397,362.6 400.3,358.5 403.2,351 404.6,343 405.6,334 406.6,322 407.6,312 408.8,306.5 410,308 410.8,313 411.7,334 412.8,342.7 413.3,352 413.7,362.6 413.7,362.6" fill="#8c8c8c"/>
<polyline points="393.8,362.3 395.3,362.3 398,361 401,357 403,353 405,347 406.5,340 408.3,334 409.6,322 410.6,313 411.2,308 412,306.8 412.7,309 413.5,308 414.3,315 415.3,334 416.3,347 417.5,357 418.7,361.5 420,362.3 451.6,362.3" fill="none" stroke="#000" stroke-width="1.45" stroke-linejoin="round"/>
<polygon points="458.7,362.6 458.7,362.6 461,356 463.7,347.7 465.5,338 467,326 468.3,318 469.5,312.7 470.7,306.8 472,319.3 473.7,334.3 476.2,351 477.8,362.6 477.8,362.6" fill="#8c8c8c"/>
<polyline points="453.6,362.3 457,362.3 459.5,358 462,351 464,343 466.2,334.3 467.5,325 468.7,316 470,315.2 471,318 472,322.7 472.8,318 473.7,314.3 475.3,311.8 476.3,309 477.3,306.8 478.7,314.3 480.3,326 482,339.3 483.7,356 485.3,361.3 487,362.3 511.5,362.3" fill="none" stroke="#000" stroke-width="1.45" stroke-linejoin="round"/>
<rect x="33.6" y="302.6" width="478.9" height="60" fill="none" stroke="#000" stroke-width="1.4"/>
<path d="M93.5 302.6V362.6M153.3 302.6V362.6M213.2 302.6V362.6M273 302.6V362.6M332.9 302.6V362.6M392.8 302.6V362.6M452.6 302.6V362.6" stroke="#000" stroke-width="1.3"/>
<rect x="412" y="367" width="9.2" height="8.8" fill="#8c8c8c"/>
<text x="424.9" y="374.8" font-size="10.5" text-anchor="start" font-weight="normal" fill="#111" textLength="21.6" lengthAdjust="spacingAndGlyphs">Adult</text>
<rect x="459.5" y="367.7" width="8.4" height="8.2" rx="0.8" fill="#fff" stroke="#000" stroke-width="1.4"/>
<text x="472" y="374.8" font-size="10.5" text-anchor="start" font-weight="normal" fill="#111" textLength="36.3" lengthAdjust="spacingAndGlyphs">Neonate</text>
<rect x="0" y="0" width="1.5" height="384" fill="#000"/>
<rect x="0" y="0" width="520" height="1.2" fill="#000"/>
<rect x="518.4" y="0" width="1.6" height="384" fill="#000"/>
<rect x="0" y="382.9" width="520" height="1.1" fill="#000"/>
</svg></body></html>
